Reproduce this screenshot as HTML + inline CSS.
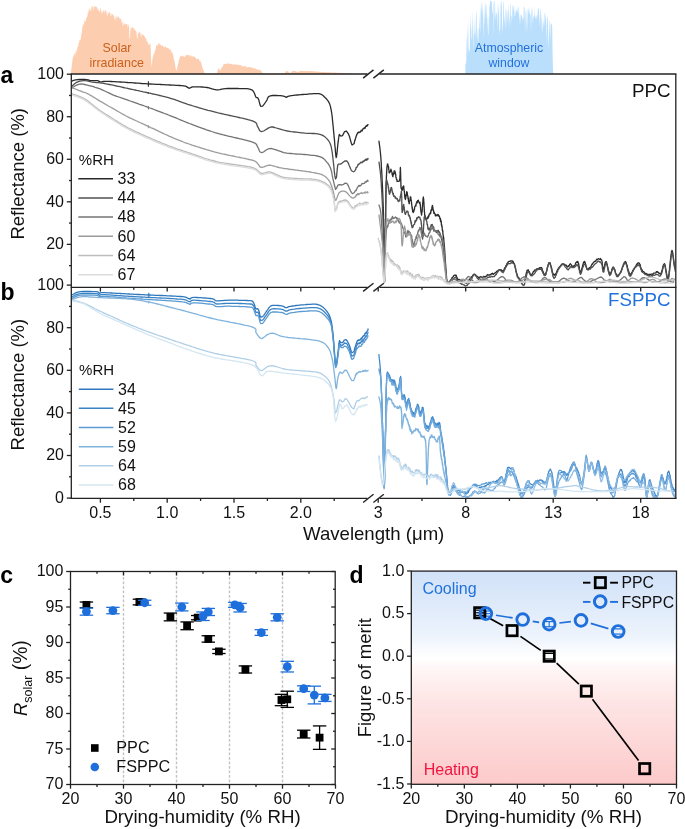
<!DOCTYPE html>
<html><head><meta charset="utf-8"><style>
html,body{margin:0;padding:0;background:#fff;overflow:hidden;}
svg{display:block;will-change:transform;}
text{-webkit-font-smoothing:antialiased;}
</style></head><body>
<svg width="685" height="829" viewBox="0 0 685 829" font-family='"Liberation Sans", sans-serif'><rect width="685" height="829" fill="#fff"/><path d="M70.8,74 L70.8,73.7 L71.35,69.17 L71.9,65.12 L72.45,60.29 L73,56.82 L73.55,56.24 L74.1,54.05 L74.65,53.33 L75.2,56.12 L75.78,50.94 L76.36,49.16 L76.94,53.24 L77.52,46.18 L78.1,47.31 L78.6,42.98 L79.1,42.43 L79.6,39.42 L80.1,39.47 L80.6,40.39 L81.1,35.86 L81.8,32.34 L82.5,26.62 L83,23.83 L83.5,25.48 L84,23.14 L84.55,20.96 L85.1,19.7 L85.65,22.49 L86.2,18.13 L86.75,17.35 L87.3,16.82 L87.85,12.56 L88.4,12.69 L88.93,8.02 L89.45,10.38 L89.97,7.48 L90.5,11.51 L91.03,10.56 L91.56,6.38 L92.09,6.27 L92.61,6.2 L93.14,11.43 L93.67,6.41 L94.2,7.28 L94.71,6.04 L95.22,6.74 L95.73,6.38 L96.24,6.38 L96.75,7.4 L97.26,7.48 L97.77,10.8 L98.28,8.34 L98.79,11.33 L99.3,10.37 L99.83,12.75 L100.36,9.04 L100.89,7.57 L101.41,11.68 L101.94,13.56 L102.47,12.93 L103,9.91 L103.54,11.24 L104.08,9.38 L104.61,13.04 L105.15,10.98 L105.69,10.25 L106.22,10.38 L106.76,14.37 L107.3,16.72 L107.85,11.18 L108.4,14.53 L108.95,12.14 L109.5,12.02 L110.05,12.43 L110.6,15.28 L111.15,16.81 L111.7,13.1 L112.25,14.77 L112.8,13.65 L113.35,16.15 L113.9,14.42 L114.45,18.58 L115,20.41 L115.55,15.8 L116.1,21.27 L116.65,15.84 L117.2,16.03 L117.75,17.68 L118.3,16.75 L118.85,17.16 L119.4,17.88 L119.95,19.2 L120.5,18.22 L121.08,18.8 L121.66,23.32 L122.24,20.19 L122.82,25.89 L123.4,25.53 L123.9,22.26 L124.4,23.25 L124.9,24.24 L125.6,24.6 L126.3,23.87 L126.86,23.95 L127.42,24.63 L127.98,28.49 L128.54,24.58 L129.1,24.58 L129.5,39.24 L130.1,37.08 L130.5,25.66 L131.02,31.48 L131.53,27.08 L132.05,27.59 L132.57,26.97 L133.08,27.76 L133.6,28.87 L134.18,28.3 L134.76,30.3 L135.34,31.02 L135.92,30.1 L136.5,32.18 L136.9,37.61 L137.5,38.88 L137.9,31.26 L138.43,33.25 L138.97,33.68 L139.5,31.4 L140.04,31.85 L140.57,34.15 L141.11,38.11 L141.65,33.3 L142.19,34.22 L142.73,35.35 L143.26,34.75 L143.8,35.29 L144.3,35.92 L144.8,36.77 L145.3,38.47 L145.8,38.1 L146.3,38.99 L146.8,42.16 L147.33,40.5 L147.85,42.71 L148.38,45.08 L148.9,43.98 L149.4,43.27 L149.9,45.72 L150.4,42.03 L151.1,58.42 L151.7,67.11 L152.4,59.25 L152.9,56.83 L153.4,55.33 L153.9,53.77 L154.4,53.55 L154.95,50.49 L155.5,50.02 L156.05,46.64 L156.6,44.9 L157.15,45.06 L157.7,45.68 L158.25,43.75 L158.8,43.13 L159.38,43.44 L159.96,44.15 L160.54,44.14 L161.12,45.77 L161.7,46.27 L162.25,45.09 L162.8,45.4 L163.35,46.94 L163.9,46.56 L164.45,47.49 L165,46.55 L165.55,46.73 L166.1,47.06 L166.64,48.53 L167.18,47.6 L167.71,47.93 L168.25,48.28 L168.79,48.56 L169.32,48.82 L169.86,50.88 L170.4,49.21 L170.95,49.75 L171.5,52.4 L172.05,52.55 L172.6,53.8 L173.1,53.8 L173.6,57.94 L174.1,59.99 L174.8,62.38 L175.5,67.29 L176.2,71 L176.8,69.33 L177.4,66.89 L178,64.47 L178.5,62.19 L179,60.17 L179.5,58.03 L180.15,56.8 L180.8,56.11 L181.36,55.54 L181.92,56.69 L182.48,55.24 L183.04,56.96 L183.6,55.83 L184.13,56.94 L184.65,56.75 L185.18,56.74 L185.71,55.37 L186.24,54.86 L186.76,55.87 L187.29,54.82 L187.82,54.85 L188.35,55.48 L188.87,55.09 L189.4,54.88 L189.91,56.94 L190.42,55.62 L190.93,55.32 L191.44,55.43 L191.95,57.16 L192.45,56.01 L192.96,57.11 L193.47,56.19 L193.98,56.27 L194.49,56.81 L195,57.96 L195.54,56.88 L196.09,58.38 L196.63,59.37 L197.17,58.99 L197.71,59.35 L198.26,58.23 L198.8,59.12 L199.38,61.05 L199.95,60.4 L200.53,61.4 L201.1,62.34 L201.6,64.48 L202.1,66.22 L202.6,68.12 L203.2,69.99 L203.8,71.2 L204.4,72.8 L204.7,73.5 L205.21,73.5 L205.72,73.5 L206.22,73.5 L206.73,73.5 L207.24,73.5 L207.75,73.5 L208.26,73.5 L208.77,73.5 L209.28,73.5 L209.78,73.5 L210.29,73.5 L210.8,73.5 L211.31,73.5 L211.82,73.5 L212.32,73.5 L212.83,73.5 L213.34,73.5 L213.85,73.5 L214.36,73.5 L214.87,73.5 L215.38,73.5 L215.88,73.5 L216.39,73.5 L216.9,73.5 L217.5,71 L218.15,69.5 L218.8,68 L219.6,69.5 L220.15,69.85 L220.7,70.2 L221.35,68.35 L222,66.5 L222.5,67.23 L223,66.07 L223.5,64.2 L224.04,64.32 L224.59,64.01 L225.13,63.88 L225.67,63.77 L226.21,64.11 L226.76,63.85 L227.3,63.4 L227.82,63.37 L228.34,63.49 L228.85,63.48 L229.37,63.89 L229.89,64.34 L230.41,63.77 L230.93,63.71 L231.45,63.78 L231.96,63.94 L232.48,64.33 L233,64.89 L233.52,64.12 L234.04,65.07 L234.55,64.59 L235.07,64.34 L235.59,64.34 L236.11,64.54 L236.63,65.02 L237.15,64.56 L237.66,65.11 L238.18,64.72 L238.7,64.63 L239.22,64.99 L239.74,65.42 L240.25,64.93 L240.77,65.17 L241.29,65.28 L241.81,66.42 L242.33,66.75 L242.85,65.56 L243.36,66.77 L243.88,66.49 L244.4,65.83 L244.92,66.07 L245.44,66.02 L245.95,66.95 L246.47,66.68 L246.99,67.39 L247.51,67.19 L248.03,66.99 L248.55,67.24 L249.06,67.03 L249.58,66.89 L250.1,67.28 L250.6,67.13 L251.1,67.27 L251.6,67.99 L252.1,67.53 L252.6,67.67 L253.1,67.8 L253.6,68.73 L254.1,68.07 L254.6,68.2 L255.1,68.98 L255.6,68.47 L256.1,69.23 L256.6,69.04 L257.1,69.44 L257.6,69.83 L258.17,69.43 L258.73,69.94 L259.3,69.75 L259.87,70 L260.43,70.25 L261,70.5 L261.7,71.65 L262.4,72.8 L262.8,73.5 L263.31,73.5 L263.82,73.49 L264.33,73.49 L264.84,73.48 L265.35,73.48 L265.86,73.47 L266.37,73.47 L266.87,73.46 L267.38,73.46 L267.89,73.45 L268.4,73.45 L268.91,73.44 L269.42,73.44 L269.93,73.43 L270.44,73.43 L270.95,73.43 L271.46,73.42 L271.97,73.42 L272.48,73.41 L272.99,73.41 L273.5,73.4 L274,73.4 L274.51,73.39 L275.02,73.39 L275.53,73.38 L276.04,73.38 L276.55,73.37 L277.06,73.37 L277.57,73.37 L278.08,73.36 L278.59,73.36 L279.1,73.35 L279.61,73.35 L280.12,73.34 L280.63,73.34 L281.13,73.33 L281.64,73.33 L282.15,73.32 L282.66,73.32 L283.17,73.31 L283.68,73.31 L284.19,73.3 L284.7,73.3 L285.3,72.15 L285.9,71 L286.47,71.1 L287.05,71.2 L287.62,71.3 L288.2,71.4 L288.77,72.03 L289.33,72.67 L289.9,73.3 L290.47,72.72 L291.05,72.15 L291.62,71.58 L292.2,71 L292.73,70.92 L293.25,70.85 L293.77,70.78 L294.3,70.7 L294.8,70.87 L295.3,71.04 L295.8,71.21 L296.3,71.39 L296.8,71.56 L297.3,71.73 L297.8,71.9 L298.32,71.72 L298.84,71.54 L299.36,71.36 L299.88,71.18 L300.4,71 L300.91,71 L301.42,71 L301.93,71 L302.44,71 L302.95,71 L303.46,71 L303.97,71 L304.48,71 L304.99,71 L305.51,71 L306.02,71 L306.53,71 L307.04,71 L307.55,71 L308.06,71 L308.57,71 L309.08,71 L309.59,71 L310.1,71 L310.6,71.04 L311.1,71.09 L311.6,71.13 L312.1,71.17 L312.6,71.21 L313.1,71.26 L313.6,71.3 L314.1,71.34 L314.6,71.39 L315.1,71.43 L315.6,71.47 L316.1,71.51 L316.6,71.56 L317.1,71.6 L317.6,71.64 L318.1,71.69 L318.6,71.73 L319.1,71.77 L319.6,71.81 L320.1,71.86 L320.6,71.9 L321.1,71.92 L321.6,71.95 L322.1,71.97 L322.6,72 L323.1,72.02 L323.6,72.04 L324.1,72.07 L324.6,72.09 L325.1,72.11 L325.6,72.14 L326.1,72.16 L326.6,72.19 L327.1,72.21 L327.6,72.23 L328.1,72.26 L328.6,72.28 L329.1,72.3 L329.6,72.33 L330.1,72.35 L330.6,72.38 L331.1,72.4 L331.6,72.43 L332.1,72.45 L332.6,72.48 L333.1,72.5 L333.6,72.53 L334.1,72.55 L334.6,72.58 L335.1,72.6 L335.6,72.62 L336.1,72.65 L336.6,72.67 L337.1,72.7 L337.6,72.72 L338.1,72.75 L338.6,72.78 L339.1,72.8 L339.6,72.83 L340.1,72.85 L340.6,72.88 L341.1,72.9 L341.6,72.92 L342.1,72.95 L342.6,72.97 L343.1,73 L343.6,73.02 L344.1,73.05 L344.6,73.07 L345.1,73.1 L345.6,73.13 L346.1,73.16 L346.6,73.19 L347.1,73.21 L347.6,73.24 L348.1,73.27 L348.6,73.3 L349.1,73.33 L349.6,73.36 L350.1,73.39 L350.6,73.41 L351.1,73.44 L351.6,73.47 L352.1,73.5 L352.1,74 Z" fill="#fdcdb0"/><text x="117" y="52.2" font-size="12.4" text-anchor="middle" fill="#c9601c" font-weight="normal" >Solar</text><text x="116.8" y="67" font-size="12.4" text-anchor="middle" fill="#c9601c" font-weight="normal" >irradiance</text><path d="M465.4,74 L465.4,60.2 L465.8,64.4 L466.2,63.2 L466.6,42.1 L467,35 L467.4,24.1 L467.8,56.2 L468.2,18.5 L468.6,53.2 L469,48 L469.4,50.6 L469.8,52.9 L470.2,11 L470.6,31.5 L471,19.4 L471.4,40.2 L471.8,37.4 L472.2,8.4 L472.6,37.8 L473,17 L473.4,35.3 L473.8,50.5 L474.2,15.1 L474.6,36.1 L475,31.7 L475.4,37.4 L475.8,19.9 L476.2,10.3 L476.6,15.5 L477,42.5 L477.4,37.5 L477.8,29.1 L478.2,27.6 L478.6,46.3 L479,27.6 L479.4,13.5 L479.8,28.3 L480.2,32.7 L480.6,11.3 L481,5.6 L481.4,0.8 L481.8,14.1 L482.2,1.9 L482.6,17.5 L483,5 L483.4,24.6 L483.8,39.6 L484.2,4.1 L484.6,16.8 L485,26.6 L485.4,1.6 L485.8,5.2 L486.2,18.6 L486.6,3.9 L487,6.6 L487.4,33.8 L487.8,19.5 L488.2,15.8 L488.6,34.4 L489,34.4 L489.4,3.2 L489.8,7.2 L490.2,0.6 L490.6,0.9 L491,0.5 L491.4,0.9 L491.8,2.6 L492.2,12.6 L492.6,14.1 L493,2.4 L493.4,0.7 L493.8,35.7 L494.2,15.6 L494.6,0.7 L495,1.6 L495.4,21.1 L495.8,13.8 L496.2,13 L496.6,12.2 L497,17.8 L497.4,29.6 L497.8,2.4 L498.2,8.9 L498.6,16.1 L499,1.2 L499.4,33.9 L499.8,30.8 L500.2,29.6 L500.6,4.2 L501,0.7 L501.4,1.7 L501.8,7 L502.2,24.4 L502.6,33.5 L503,22.9 L503.4,1.5 L503.8,1.5 L504.2,16 L504.6,24.7 L505,15.3 L505.4,6.7 L505.8,29.7 L506.2,24.5 L506.6,9 L507,9.2 L507.4,23 L507.8,12.1 L508.2,11.2 L508.6,2.7 L509,29.8 L509.4,9.8 L509.8,27.2 L510.2,5.9 L510.6,3 L511,27.1 L511.4,15.7 L511.8,15.4 L512.2,19.8 L512.6,4.3 L513,6.9 L513.4,5.3 L513.8,11.7 L514.2,5.8 L514.6,15.9 L515,16 L515.4,13.7 L515.8,10.7 L516.2,11.7 L516.6,10.3 L517,6.5 L517.4,14.1 L517.8,7 L518.2,15.5 L518.6,7.6 L519,5.5 L519.4,25.6 L519.8,15.5 L520.2,24.6 L520.6,14.1 L521,15.3 L521.4,14.3 L521.8,16.8 L522.2,16.5 L522.6,21.7 L523,17 L523.4,19.7 L523.8,7 L524.2,5.8 L524.6,9.4 L525,32.7 L525.4,10.1 L525.8,12.4 L526.2,34.1 L526.6,13.8 L527,7.7 L527.4,31.9 L527.8,7.4 L528.2,13.9 L528.6,6.7 L529,12 L529.4,14.6 L529.8,6.9 L530.2,15.2 L530.6,15 L531,35 L531.4,6.7 L531.8,12 L532.2,6.3 L532.6,18.8 L533,23.9 L533.4,15.1 L533.8,18.1 L534.2,6.3 L534.6,16.9 L535,16.2 L535.4,19.5 L535.8,14.9 L536.2,15.2 L536.6,17.3 L537,21.1 L537.4,7.6 L537.8,17.3 L538.2,8.1 L538.6,8.5 L539,9.3 L539.4,27.6 L539.8,18 L540.2,8.9 L540.6,9.1 L541,21.7 L541.4,12.3 L541.8,27.3 L542.2,33.4 L542.6,25.6 L543,14.1 L543.4,27.7 L543.8,21 L544.2,26.7 L544.6,13.6 L545,12.4 L545.4,21 L545.8,13.2 L546.2,25.3 L546.6,45.8 L547,14.8 L547.4,18.1 L547.8,18.3 L548.2,34.2 L548.6,49.2 L549,36.5 L549.4,19.9 L549.8,21.2 L550.2,42.8 L550.6,25.7 L551,21.9 L551.4,25.2 L551.8,23.3 L552.2,27 L552.6,53.9 L553,70.3 L553.3,74 Z" fill="#badffc"/><text x="509" y="52.4" font-size="12.3" text-anchor="middle" fill="#2372dc" font-weight="normal" >Atmospheric</text><text x="509" y="66.6" font-size="12.3" text-anchor="middle" fill="#2372dc" font-weight="normal" >window</text><clipPath id="ca"><rect x="71.8" y="74.6" width="603.4" height="212.2"/></clipPath><g clip-path="url(#ca)"><polyline points="71.8,81.3 73.5,80.4 75.8,79.8 77.7,79.6 79.4,79.5 81.2,79.5 83,79.5 84.6,79.5 86.4,79.7 88.2,80 89.8,80.3 91.9,80.6 93.8,80.6 95.7,80.6 97.7,80.6 99.7,81.6 101.7,81.9 103.4,81.5 105.4,81.3 107.2,81.3 109.3,81.4 111.1,81.5 113.1,81.6 114.7,81.6 116.7,81.8 118.7,81.9 120.4,82 122.1,82.1 123.9,82.2 125.8,82.3 127.7,82.5 129.4,82.6 131.4,82.7 133.5,82.9 135.1,83 136.8,83.1 138.5,83.2 140.2,83.3 141.9,83.5 143.7,83.6 145.4,83.7 147.1,83.8 148.8,83.9 150.5,84 152.2,84.1 153.9,84.2 155.7,84.3 157.4,84.4 159.2,84.4 160.9,84.5 162.6,84.6 164.3,84.7 166,84.8 168,84.9 170,85 172,85.1 174,85.2 175.9,85.3 177.8,85.4 179.5,85.5 181.6,85.6 183.4,85.8 185.5,86.2 187.3,87.1 189,88.3 190.7,87.7 192.4,86.9 194.2,86.8 196.3,86.8 198,86.8 199.9,86.9 201.8,87 203.7,87.1 205.4,87.3 207.1,87.5 208.9,87.9 210.5,88.3 212.1,88.8 214.2,89.4 216.2,89.8 217.8,89.8 219.9,89.6 221.8,89.1 223.5,88.8 225.5,88.6 227.4,88.5 229.1,88.5 230.8,88.5 232.6,88.5 234.4,88.5 236.1,88.5 237.9,88.5 239.5,88.6 241.3,88.6 243.2,88.7 245,88.7 246.8,88.7 248.5,88.9 250.5,89.3 252.3,90.1 253.5,91.5 254.4,93.3 254.9,94.5 255.5,96.2 256.1,97.4 257.8,97.9 258.6,99.4 259,100.6 259.3,102 259.7,103.4 260,104.8 260.7,106.3 262.6,106.2 263.8,104.7 265,103 266.1,101.4 267,100 267.6,98.3 268.4,96.9 270.4,95.8 272.4,95.5 274.3,95.5 276.3,95.5 278.3,95.6 280.2,95.7 282.2,95.9 284.3,96.3 286.2,97.4 288,96.4 289.9,95.9 291.5,95.7 293.6,95.4 295.3,95.2 297.1,95 299,94.9 300.9,94.7 302.8,94.5 304.5,94.4 306.2,94.3 308,94.1 309.9,93.9 311.7,93.8 313.5,93.6 315.3,93.6 317.3,93.6 319.1,93.7 321.2,94.3 323,95.5 324.5,97 326.1,98.5 327.2,99.8 328.2,101.1 329,102.6 329.7,104.1 330.2,105.6 330.6,107.1 330.9,108.8 331.2,110 331.4,111.3 331.7,113 331.9,114.5 332.1,116.2 332.3,117.9 332.5,119.7 332.6,121.5 332.8,122.7 332.9,123.9 333,125.1 333.2,126.7 333.3,128.3 333.5,130 333.6,131.7 333.8,133.3 334,135 334.1,136.8 334.3,138.5 334.5,140.2 334.6,142 334.7,143.2 334.8,144.5 334.9,145.8 335.1,147.1 335.2,148.3 335.3,149.6 335.4,150.8 335.5,152.5 335.7,153.9 335.8,155.2 336.2,157.7 336.6,156 336.8,154.5 337,152.9 337.2,151.1 337.3,149.9 337.4,148.5 337.6,147.2 337.7,145.9 337.8,144.7 338,143.1 338.3,141.2 338.4,139.8 338.6,138.5 338.8,137.2 339,135.6 339.3,134.4 340.8,136.1 342.5,135.7 343.1,134.4 343.8,133.1 344.4,131.9 346.1,131 347.6,132.6 348.3,133.9 349,135.3 349.6,136.8 349.9,138.1 350.3,139.6 350.7,141 351.1,142.4 351.5,143.7 352.1,145 353.9,143.7 354.1,143.6 354.3,143 354.5,141.9 354.7,140.8 354.9,139.7 355.1,140.1 355.3,139.1 355.5,138.8 355.7,137.5 355.9,137.5 356.1,136 356.3,136.3 356.5,135.6 356.7,134.6 356.9,134.3 357.1,134.2 357.6,132.7 358,132.8 358.5,132.9 358.9,131.8 359.3,132.5 359.8,132.1 360.3,132.2 360.8,131.1 361.4,130.2 361.8,131.1 362.2,130.7 362.6,129.7 363,128.7 363.5,128.4 364,128.6 364.5,127.6 365,128.2 365.4,127.1 365.9,126 366.3,126.3 366.8,125.4 367.1,126 367.5,125.6 367.8,124.7 368,124.6" fill="none" stroke="#2b2b2b" stroke-width="1.3" stroke-linejoin="round" stroke-linecap="round" opacity="1.0" /><polyline points="71.8,86.4 73.2,85.1 74.6,83.8 76.2,82.6 78.3,81.6 80,81.1 81.7,80.8 83.5,80.6 85.1,80.6 87.1,80.9 89.1,81.4 91.1,81.9 92.8,82.1 94.6,82.3 96.7,82.6 98.3,82.7 100,82.9 101.9,83.2 103.8,83.4 105.8,83.8 107.4,84.1 109.4,84.5 111.5,84.9 113.1,85.2 114.8,85.6 116.5,86 118.2,86.3 120,86.7 121.7,87.1 123.4,87.5 125.1,87.9 126.8,88.2 128.4,88.6 130.1,89 131.8,89.3 133.4,89.7 135.1,90 136.7,90.4 138.4,90.7 140,91.1 141.6,91.4 143.3,91.8 144.9,92.1 146.6,92.5 148.2,92.9 149.9,93.2 151.5,93.6 153.1,94 154.8,94.3 156.4,94.7 158.1,95.1 159.8,95.5 161.4,95.9 163.1,96.3 164.7,96.7 166.3,97.1 168.4,97.7 170.6,98.3 172.2,98.8 174.2,99.4 176.2,100.2 178.2,100.9 180.2,101.6 182.2,102.4 184.3,103.1 186,103.7 187.8,104.3 189.5,104.8 191.3,105.4 193.2,106 195.2,106.6 197.2,107.2 199.2,107.8 201.3,108.4 202.9,108.9 204.6,109.3 206.3,109.8 208,110.3 209.7,110.7 211.6,111.2 213.4,111.7 215.3,112.2 217.2,112.7 219.3,113.2 221,113.5 222.7,113.9 224.4,114.3 226.2,114.7 228.1,115.1 229.9,115.5 231.8,115.9 233.6,116.3 235.4,116.7 237.3,117.1 239,117.5 240.8,117.9 242.5,118.2 244.1,118.6 246.1,119.1 248,119.6 249.7,120 251.5,120.6 253.1,121.2 255,122.1 256.4,123.3 257,124.8 257.3,126.2 258.3,127.7 258.9,128.9 259.6,130.6 261.6,131.7 263.6,131 265.3,130 267.1,128.9 268.7,127.9 270.8,127 272.7,127 274.6,127.5 276.3,128 278.4,128.6 280.1,129.1 281.9,129.7 283.8,130.2 285.7,130.6 287.5,131 289.5,131.3 291.1,131.6 292.8,131.8 294.5,132 296.2,132.2 298,132.4 299.7,132.6 301.3,132.8 303,132.9 305.1,133.2 307,133.3 308.8,133.4 310.7,133.4 312.4,133.5 314.1,133.5 315.8,133.6 317.8,133.9 319.8,134.3 321.6,134.9 323.6,135.9 325.2,137.1 326.8,138.6 328.2,140.2 329.1,141.5 329.9,143 330.6,144.8 331.1,146.4 331.4,147.9 331.7,149.5 332,151.1 332.3,152.9 332.5,154.7 332.7,156.4 332.9,158.1 333.1,159.8 333.3,161.6 333.5,163.3 333.7,165.1 333.9,166.8 334,168.5 334.2,170.1 334.3,171.5 334.5,172.8 334.7,174.3 334.9,175.9 335.2,177.3 335.5,179 336.4,177.6 336.6,176.2 336.7,174.7 336.9,173.2 337,172 337.1,170.8 337.2,169.5 337.4,168.2 337.5,166.9 337.7,165.4 338.4,164.1 340.2,164.1 341.9,163.3 343.4,162 345.1,160.9 346.8,161 347.9,162.4 348.7,164.1 349.2,165.4 349.8,166.7 350.3,168.1 350.8,169.3 351.6,170.8 353.4,171.8 354.1,171.5 354.4,171.3 354.7,170.9 355,170.6 355.4,169.7 355.7,169.3 356.1,167.3 356.4,167.3 356.8,167.5 357.2,166.4 357.6,166.2 358,164.4 358.5,164.6 358.9,163.9 359.3,164 359.8,163.7 360.3,162.5 360.8,162.5 361.4,162.2 361.9,162.9 362.5,162.3 363.1,161 363.6,161.7 364.2,160.4 364.7,160.8 365.2,159.7 365.7,159.3 366.2,160.4 366.6,159.1 367.1,158.9 367.4,159.9 367.7,159.6 368,158.5" fill="none" stroke="#505050" stroke-width="1.3" stroke-linejoin="round" stroke-linecap="round" opacity="1.0" /><polyline points="71.8,87.9 73.8,86.7 75.5,85.7 77.3,84.8 79.4,84.1 81.2,83.9 82.9,84.1 84.6,84.5 86.3,84.9 88.3,85.4 89.9,85.8 91.6,86.2 93.4,86.7 95.2,87.3 97,87.8 98.7,88.4 100.7,89.2 102.7,90.1 104.7,91 106.8,92 108.8,92.9 110.8,93.9 112.8,94.8 114.8,95.6 116.8,96.4 118.8,97 120.7,97.7 122.8,98.4 124.9,99.1 126.6,99.7 128.4,100.3 130.2,101 132.2,101.6 134.2,102.4 136.3,103.1 137.9,103.7 139.5,104.3 141.2,104.8 142.8,105.4 144.5,106 146.1,106.6 147.7,107.2 149.8,108 151.9,108.7 154,109.5 156.1,110.3 158.2,111.1 160.3,111.9 162.4,112.7 164.4,113.5 166.5,114.2 168.5,115 170.5,115.8 172.6,116.6 174.6,117.4 176.5,118.2 178.4,119 180.3,119.8 182.3,120.7 184.4,121.5 186,122.2 187.8,122.8 189.4,123.5 191.2,124.1 193.1,124.9 195,125.6 197,126.3 199,127.1 201.1,127.8 203.2,128.6 204.8,129.2 206.4,129.8 208.1,130.3 209.8,130.9 211.5,131.5 213.2,132 214.9,132.6 216.7,133.1 218.7,133.7 220.3,134.1 222,134.5 223.7,135 225.5,135.4 227.3,135.9 229.1,136.3 231,136.7 232.9,137.2 234.7,137.6 236.5,138 238.3,138.4 240.1,138.8 241.8,139.2 243.5,139.6 245.5,140.1 247.5,140.6 249.2,141.1 251.1,141.7 253.1,142.4 255,143.2 256.7,144.6 257,145.9 258,147.5 258.8,149.3 259.2,150.5 260,152 262,152.7 263.8,151.7 265.8,150.2 267.6,149.2 269.4,148.6 271,148.5 272.6,148.8 274.4,149.3 276.3,149.9 278.1,150.6 279.8,151.2 281.8,151.9 283.7,152.6 287,153.2 288.9,153.4 290.8,153.5 292.9,153.7 294.6,153.8 296.5,154 298.4,154.1 300.4,154.2 302.4,154.4 304.4,154.5 306.3,154.7 308.3,154.9 310.1,155.1 311.9,155.3 313.5,155.4 315.5,155.7 317.2,156 319.6,156.6 321.7,157.4 323.6,158.6 324.9,159.9 326.1,161.3 327.2,162.6 328.3,163.9 329.1,165.3 329.9,166.8 330.6,168.4 331.1,170 331.6,171.7 331.9,173.4 332.2,175.2 332.6,177 332.9,178.7 333.3,180.4 333.6,181.7 333.9,182.9 334.2,184.1 334.6,185.8 335,187.2 335.5,189.4 336.7,188 337.2,186.6 338.1,185 339.8,184.7 341.9,185 343.5,184.4 345.1,183.1 346.8,183.3 347.8,184.8 348.7,186.6 349.2,187.9 349.8,189.2 350.4,190.6 351.3,192.3 352.4,193.7 354.1,192.8 354.4,192.1 354.7,192.1 355,191.2 355.4,190.5 355.7,190.4 356.1,190.6 356.4,189.7 356.8,189.1 357.2,187.6 357.6,187.5 358,186.6 358.5,186 358.9,185.5 359.3,185.4 359.8,186.2 360.3,185.7 360.8,185.3 361.4,184.9 361.9,183.6 362.5,183.5 363.1,183.7 363.6,183.5 364.2,183.4 364.7,183.1 365.2,181.6 365.7,182.1 366.2,182 366.6,181.5 367.1,180.7 367.4,181 367.7,180.2 368,181.4" fill="none" stroke="#747474" stroke-width="1.3" stroke-linejoin="round" stroke-linecap="round" opacity="1.0" /><polyline points="71.8,87.6 73.6,88.3 75.5,89 77.5,89.9 79.2,90.6 80.9,91.2 82.7,91.8 84.4,92.3 86.2,93 87.9,93.8 89.6,94.8 91.5,95.8 93.4,97.1 95.4,98.3 97.6,99.6 99.2,100.6 101,101.7 102.9,102.7 104.8,103.9 106.8,105 108.8,106.2 110.8,107.3 112.8,108.4 114.8,109.5 116.6,110.6 118.5,111.7 120.3,112.7 122.1,113.8 124.1,114.8 126.2,116 127.8,116.8 129.7,117.8 131.6,118.7 133.6,119.6 135.6,120.5 137.7,121.5 139.8,122.5 141.9,123.4 143.5,124.2 145.1,124.9 147.2,125.9 149.3,126.8 151.3,127.8 153.3,128.7 155.4,129.7 157.4,130.7 159.5,131.7 161.5,132.6 163.6,133.6 165.6,134.5 167.6,135.4 169.5,136.3 171.6,137.2 173.6,138.1 175.5,138.9 177.4,139.7 179.3,140.4 181.3,141.2 183.3,142 185.4,142.8 187.2,143.4 189,144 190.8,144.6 192.7,145.3 194.6,145.9 196.6,146.6 198.7,147.2 200.8,147.9 202.4,148.4 204,148.9 205.7,149.4 207.3,149.9 209.1,150.4 210.8,150.9 212.5,151.4 214.3,151.9 216.1,152.3 218.2,152.9 220.3,153.4 222,153.8 223.7,154.1 225.5,154.5 227.3,154.9 229.1,155.3 231,155.7 232.9,156 234.7,156.4 236.5,156.8 238.3,157.1 240.1,157.5 241.8,157.9 243.5,158.2 245.5,158.6 247.5,159.1 249.2,159.5 251.1,159.9 253.3,160.5 255.4,161.3 256.9,162.7 258.1,164.2 259.1,165.7 260.1,167 262,167.4 264,166.8 265.6,166.1 267.4,165.5 269.3,165.2 271.3,165.3 273.2,165.8 274.9,166.3 277,167 279,167.5 280.7,167.8 282.6,168.2 284.2,168.5 286.1,168.7 288.1,169 289.8,169.3 291.5,169.5 293.3,169.7 295.2,170 297.1,170.2 299,170.5 300.9,170.7 302.8,171 304.7,171.2 306.5,171.5 308.3,171.7 310.1,172 311.7,172.3 313.8,172.6 315.6,173 317.2,173.3 319.6,173.9 321.2,174.4 323.1,175.2 324.9,176.2 326.4,177.6 327.6,178.9 328.7,180.1 329.6,181.5 330.4,183 331,184.6 331.6,186.2 332.2,188 332.7,189.6 333,190.8 333.4,192.1 333.7,193.4 334,194.7 334.2,195.9 334.6,197.6 335,199 335.8,200.4 336.5,199 337,197.7 337.6,196 338.1,194.7 338.9,193.1 340.5,191.7 342.2,191.1 344.1,191.2 345.8,191.8 347.5,193.3 348.8,194.9 350.2,196.4 351.5,197.6 353.2,198.2 354.1,197.5 354.5,197.6 354.9,197 355.3,196.9 355.7,196.5 356.1,195.1 356.5,194.5 356.9,195.4 357.4,194 357.9,193.6 358.5,194.6 359,193.6 359.5,194 360.1,193.3 360.7,193.4 361.3,192.5 362,193.2 362.6,193.5 363.3,192.9 363.9,193.1 364.6,192.9 365.2,191.9 365.8,193 366.3,192.6 366.8,192.1 367.3,191.6 367.7,192.9 368,192.3" fill="none" stroke="#9c9c9c" stroke-width="1.3" stroke-linejoin="round" stroke-linecap="round" opacity="1.0" /><polyline points="71.8,93.7 73.5,94.3 75.4,94.9 77,95.5 78.7,96.1 80.5,96.8 82.3,97.6 84,98.5 85.9,99.6 87.6,100.8 89.3,102.1 91.1,103.5 92.9,104.9 94.7,106.4 96.5,107.8 98.3,109.2 100.1,110.5 102,111.7 103.9,113 105.8,114.2 107.7,115.4 109.6,116.6 111.4,117.8 113.3,119 115.2,120.2 117.1,121.4 118.9,122.5 120.7,123.6 122.6,124.8 124.6,125.9 126.7,127.1 128.4,128 130.2,128.9 132.1,129.9 134.1,130.8 136.1,131.8 138.2,132.7 140.3,133.7 141.9,134.4 143.5,135.2 145.1,135.9 147.2,136.8 149.3,137.7 151.4,138.6 153.4,139.5 155.5,140.4 157.6,141.3 159.8,142.2 161.8,143.1 163.9,143.9 166,144.7 168,145.5 170,146.3 171.6,146.9 173.7,147.7 175.7,148.4 177.6,149.1 179.6,149.7 181.6,150.4 183.7,151.1 185.4,151.6 187.1,152.2 189,152.8 190.8,153.4 192.7,154.1 194.6,154.7 196.6,155.4 198.7,156.2 200.8,156.9 202.4,157.4 204,158 205.7,158.5 207.3,159 209.1,159.6 210.8,160.1 212.5,160.5 214.3,161 216.1,161.5 217.7,161.8 219.8,162.3 221.5,162.6 223.2,162.9 225,163.2 226.8,163.4 228.6,163.7 230.4,164 232.3,164.3 234.2,164.5 236,164.8 237.8,165 239.6,165.3 241.3,165.5 243,165.8 244.7,166 246.7,166.3 248.6,166.7 250.3,167 252.9,167.7 254.6,168.3 256.5,169.4 258.1,170.8 259.2,172.1 261.2,173.3 262.8,173.4 264.9,172.9 267,172.2 268.7,171.9 270.5,172.1 272.3,172.7 274.4,173.6 276.5,174.6 278.1,175.4 279.8,176.1 281.5,176.7 283.1,177.1 285.2,177.5 287.3,177.8 289.4,178 291.1,178.1 292.8,178.2 294.6,178.3 296.5,178.4 298.2,178.6 300.3,178.7 302,178.7 303.7,178.8 305.5,178.8 307.3,178.9 309.1,178.9 310.8,179 312.6,179.2 314.2,179.3 316.2,179.6 318.3,180.1 320.1,180.6 321.9,181.3 324,182.3 325.8,183.4 327.5,184.7 329,186.1 330,187.4 330.8,188.8 331.6,190.3 332.1,191.9 332.6,193.6 333,195.3 333.4,197.1 333.8,198.7 334.1,200.6 334.3,201.9 334.4,203.3 334.5,204.7 334.7,206 334.8,207.3 334.9,209 335.1,210.4 336.5,208.6 336.9,207.1 337.2,205.5 337.6,204.1 338.1,202.6 339.6,201.3 341.5,201 343.1,200.4 345,200 346.8,200.4 348.2,201.8 349.2,203.4 350.3,205.1 351.3,206.6 353.2,207.8 354.1,208.2 354.5,207.9 354.9,206.1 355.4,205.7 355.8,206.5 356.3,205.8 356.8,205.3 357.3,204.3 357.9,204.4 358.5,204.2 359,204 359.5,203.2 360.1,203.5 360.7,203.3 361.3,203.7 362,204.1 362.6,203.9 363.3,203.2 363.9,202.9 364.6,202.6 365.2,202.2 365.8,202.1 366.3,202.7 366.8,202.4 367.3,202.5 367.7,203.3 368,202.6" fill="none" stroke="#bdbdbd" stroke-width="1.3" stroke-linejoin="round" stroke-linecap="round" opacity="1.0" /><polyline points="71.8,95 73.5,95.6 75.4,96.2 77,96.8 78.7,97.4 80.5,98.1 82.3,98.9 84,99.8 85.9,100.9 87.6,102.1 89.3,103.4 91.1,104.8 92.9,106.2 94.7,107.7 96.5,109.1 98.3,110.5 100.1,111.8 102,113 103.9,114.3 105.8,115.5 107.7,116.7 109.6,117.9 111.4,119.1 113.3,120.3 115.2,121.5 117.1,122.7 118.9,123.8 120.7,125 122.6,126.1 124.6,127.2 126.7,128.4 128.4,129.3 130.2,130.2 132.1,131.2 134.1,132.1 136.1,133.1 138.2,134 140.3,135 141.9,135.7 143.5,136.5 145.1,137.2 147.2,138.1 149.3,139 151.4,139.9 153.4,140.8 155.5,141.7 157.6,142.6 159.8,143.5 161.8,144.4 163.9,145.2 166,146 168,146.8 170,147.6 171.6,148.2 173.7,149 175.7,149.7 177.6,150.4 179.6,151 181.6,151.7 183.7,152.4 185.4,152.9 187.1,153.5 189,154.1 190.8,154.7 192.7,155.4 194.6,156 196.6,156.7 198.7,157.5 200.8,158.2 202.4,158.7 204,159.3 205.7,159.8 207.3,160.3 209.1,160.9 210.8,161.4 212.5,161.8 214.3,162.3 216.1,162.8 217.7,163.1 219.8,163.6 221.5,163.9 223.2,164.2 225,164.5 226.8,164.7 228.6,165 230.4,165.3 232.3,165.6 234.2,165.8 236,166.1 237.8,166.3 239.6,166.6 241.3,166.8 243,167.1 244.7,167.3 246.7,167.6 248.6,168 250.3,168.3 252.9,169 254.6,169.6 256.5,170.7 258.1,172.1 259.2,173.4 261.2,174.6 262.8,174.7 264.9,174.2 267,173.5 268.7,173.2 270.5,173.4 272.3,174 274.4,174.9 276.5,175.9 278.1,176.7 279.8,177.4 281.5,178 283.1,178.4 285.2,178.8 287.3,179.1 289.4,179.3 291.1,179.4 292.8,179.5 294.6,179.6 296.5,179.7 298.2,179.9 300.3,180 302,180 303.7,180.1 305.5,180.1 307.3,180.2 309.1,180.2 310.8,180.3 312.6,180.5 314.2,180.6 316.2,180.9 318.3,181.4 320.1,181.9 321.9,182.6 324,183.6 325.8,184.7 327.5,186 329,187.4 330,188.7 330.8,190.1 331.6,191.6 332.1,193.2 332.6,194.9 333,196.6 333.4,198.4 333.8,200 334.1,201.9 334.3,203.2 334.4,204.6 334.5,206 334.7,207.3 334.8,208.6 334.9,210.3 335.1,211.7 336.5,209.9 336.9,208.4 337.2,206.8 337.6,205.4 338.1,203.9 339.6,202.6 341.5,202.3 343.1,201.7 345,201.3 346.8,201.7 348.2,203.1 349.2,204.7 350.3,206.4 351.3,207.9 353.2,209.1 354.1,208.2 354.5,209.1 354.9,208.5 355.4,207.3 355.8,207.2 356.3,206.7 356.8,206.6 357.3,206.4 357.9,204.9 358.5,204.5 359,205.7 359.5,204.9 360.1,205.3 360.7,204 361.3,204.6 362,204.9 362.6,204.1 363.3,205.1 363.9,205 364.6,203.5 365.2,203.4 365.8,204.2 366.3,204.8 366.8,203.8 367.3,203.5 367.7,203.8 368,203.1" fill="none" stroke="#dcdcdc" stroke-width="1.3" stroke-linejoin="round" stroke-linecap="round" opacity="1.0" /><line x1="148.4" y1="81.27" x2="148.4" y2="86.67" stroke="#2b2b2b" stroke-width="1.1" /><line x1="148.4" y1="92.11" x2="148.4" y2="94.11" stroke="#505050" stroke-width="1.1" /><line x1="148.4" y1="106.26" x2="148.4" y2="109.46" stroke="#747474" stroke-width="1.1" /><line x1="148.4" y1="125.21" x2="148.4" y2="128.21" stroke="#9c9c9c" stroke-width="1.1" /><polyline points="379,141.1 379.1,142.3 379.3,143.8 379.5,145.1 379.7,146.5 379.9,148 380.1,149.8 380.2,151 380.4,152.3 380.5,153.7 380.6,155.2 380.8,156.7 380.9,158.3 381,160 381.1,161.3 381.2,162.6 381.3,163.9 381.3,165.3 381.4,166.8 381.5,168.3 381.6,169.8 381.7,171.4 381.8,173 381.9,174.7 382,176.3 382,178.1 382.1,179.8 382.2,181.6 382.3,183.3 382.4,184.5 382.4,185.7 382.5,187 382.5,188.2 382.6,189.4 382.6,190.7 382.7,191.9 382.7,193.1 382.8,194.4 382.8,195.6 382.9,196.9 382.9,198.1 383,199.4 383,201 383.1,202.6 383.1,204.1 383.2,205.8 383.2,207.4 383.3,209.1 383.4,210.8 383.4,212.5 383.5,214.3 383.5,216 383.5,217.8 383.6,219.6 383.6,221.4 383.7,223.2 383.7,225 383.8,226.8 383.8,228.5 383.9,230.3 383.9,232.1 383.9,233.8 384,235.5 384,237.2 384.1,238.9 384.1,240.5 384.1,242.1 384.2,243.7 384.2,245.2 384.2,246.7 384.3,248.2 384.3,249.5 384.3,251.5 384.4,253 384.4,254.5 384.4,256.1 384.4,257.6 384.5,259.2 384.5,260.8 384.5,262.3 384.5,263.9 384.5,265.4 384.6,266.9 384.6,268.4 384.6,269.8 384.6,271.2 384.6,272.5 384.6,273.7 384.6,275.5 384.7,277 384.7,278.4 384.7,279.8 384.8,281 384.9,279.7 384.9,278.2 384.9,276.7 384.9,275.3 384.9,273.9 385,272.3 385,270.6 385,268.8 385,267.5 385,266.2 385,264.9 385.1,263.5 385.1,262.2 385.1,260.8 385.1,259.4 385.1,258 385.1,256.5 385.1,255.1 385.2,253.6 385.2,252.2 385.2,250.8 385.2,249.4 385.2,248 385.2,246.6 385.2,245.2 385.3,243.8 385.3,242.5 385.3,241.2 385.3,240 385.3,238.5 385.3,236.9 385.4,235.2 385.4,233.6 385.4,231.9 385.4,230.1 385.4,228.4 385.5,226.6 385.5,224.8 385.5,223.6 385.5,222.4 385.5,221.2 385.5,219.9 385.6,218.7 385.6,217.5 385.6,216.3 385.6,215.1 385.6,213.9 385.6,212.6 385.6,211.4 385.7,209.7 385.7,207.9 385.7,206.1 385.7,204.4 385.8,202.7 385.8,201.1 385.8,199.4 385.8,197.9 385.9,196.4 385.9,194.9 385.9,193.5 386,192.1 386,190.8 386,189.1 386,189.6 386,187.8 386.1,186.6 386.1,186.6 386.1,185.8 386.1,185 386.2,184.2 386.2,182.9 386.2,182.1 386.2,182.6 386.2,180.9 386.3,181.2 386.3,180.8 386.3,180.4 386.3,180 386.4,177.5 386.4,176.9 386.4,177.6 386.4,176.6 386.5,175.1 386.5,175.8 386.5,175.8 386.5,175.2 386.6,173.1 386.6,172.8 386.6,171.5 386.6,173.7 386.7,171.2 386.7,172.2 386.7,171.2 386.7,171 386.8,170.4 386.8,170.8 386.8,169.9 386.8,168.7 386.9,167.8 386.9,168.5 386.9,169.4 386.9,166.9 387,168.1 387,167.7 387.4,164 387.8,164.2 388.2,166.5 388.3,166.1 388.4,166.5 388.5,167.2 388.6,166.9 388.7,169.2 388.8,169.6 388.9,170.2 389,170.4 389.1,172.3 389.2,173 389.3,172.7 389.4,171.9 389.5,172.2 389.8,172.2 390,171.4 390.3,172 390.6,170.8 390.9,169.2 391.2,170.9 391.4,170.4 391.5,171.2 391.7,171.9 391.8,172.2 392,172.5 392.1,174.5 392.3,172.9 392.4,175.1 392.6,176.2 392.7,175.4 392.9,176.6 393.1,174.7 393.3,174.8 393.5,173.7 393.7,173.1 393.9,173.1 394.1,170.9 394.3,171 394.6,172.4 394.7,171.2 394.9,171 395,173.8 395.1,173.1 395.3,172.3 395.4,174.4 395.6,173.9 395.7,174.7 395.9,176.9 396,177.4 396.2,177.5 396.3,178.4 396.5,179.2 396.6,179.5 396.8,179 397,181.2 397.1,181.5 397.8,181.3 398.5,181.4 399.1,181.4 399.6,179.8 399.7,179.3 399.7,180.1 399.8,179.6 399.9,176.9 399.9,176.3 400,177.2 400,176.8 400.1,175.4 400.1,173.4 400.1,172 400.1,173.3 400.2,172.8 400.2,171.6 400.2,170.9 400.3,171 400.3,169.3 400.3,170.1 400.3,168.1 400.4,167.5 400.4,169.6 400.4,169.4 400.4,169.8 400.5,168.3 400.5,169.1 400.5,170.3 400.5,169.3 400.5,170.5 400.6,171.8 400.6,173.3 400.6,173.3 400.6,173.1 400.6,173.8 400.6,174.7 400.7,176.1 400.7,177.5 400.7,175.5 400.7,178.8 400.7,179.2 400.7,177.9 400.8,179.2 400.8,179.9 400.8,180.5 400.8,181 400.8,181.6 400.9,183.7 400.9,183.6 400.9,183.3 400.9,185.8 400.9,186.2 401,185.1 401,187 401.1,188.3 401.3,188.5 401.5,187.8 401.7,189.7 401.9,190.3 402.1,190.3 402.5,190 402.9,186.7 403.3,188.1 403.7,186 403.8,187 403.8,187.8 403.9,188.5 404,188.7 404.1,190.3 404.1,190.6 404.2,191.5 404.3,191.7 404.4,191.8 404.4,191.3 404.5,193.8 404.6,195.3 404.6,194 404.7,196.8 404.8,194.9 404.9,196.5 404.9,198 405,198.4 405.1,198.5 405.2,198.1 405.2,198.2 405.3,198.1 405.4,199.5 405.6,197.6 405.7,197.4 405.8,198.3 405.9,196.7 406.1,194.7 406.2,194.9 406.3,195.4 406.5,193.6 406.6,192.3 406.7,191.7 406.9,192.6 407,192.1 407.1,192.4 407.2,192.3 407.4,194.2 407.5,195.3 407.6,195.2 407.7,196.1 407.9,196 408,198.6 408.1,197.5 408.3,199.9 408.4,198.2 408.5,200.6 408.6,201.8 408.8,201.5 408.9,201 409,201.2 409.1,203.6 409.3,203.6 409.5,201.1 409.7,200.7 409.9,200.8 410.1,200 410.3,196.9 410.5,197.9 410.7,197.3 410.8,197.1 410.9,199.1 411,198.9 411,198.7 411.1,200.7 411.2,200.1 411.3,200.6 411.4,201.4 411.5,201.8 411.6,204.3 411.7,203.7 411.8,206 411.9,206.1 412,206.5 412.1,208.1 412.2,207.4 412.3,207.2 412.4,209.4 412.5,208.4 412.6,211.2 412.7,211.7 412.8,210.5 412.9,209.9 413.2,212.5 413.4,210.5 413.7,212 414,209.9 414.2,210.2 414.5,209.3 414.8,206.5 415.1,206.3 415.4,206 415.6,204.8 415.9,206.1 416.2,203.5 416.5,202.9 416.7,202.1 417,201.5 417.3,202.8 417.5,200.7 417.8,201.5 418.3,200.1 418.7,202 419.2,202.3 419.6,203.5 420,202.2 420.1,204.2 420.2,204.9 420.3,204.4 420.4,206 420.4,205.7 420.5,207.1 420.6,208.6 420.7,209.3 420.7,208.8 420.8,209.3 420.9,212 421,210.8 421,212.1 421.1,212.5 421.2,212.9 421.3,213.8 421.4,213 421.4,214.2 421.5,214.8 421.6,215.2 421.7,214.1 421.7,213.2 421.8,213 421.8,212.3 421.9,211.7 422,211.6 422,211.2 422.1,212 422.2,210.8 422.2,210.5 422.3,208.5 422.3,206.9 422.4,207.1 422.5,206.6 422.5,206.6 422.6,203.7 422.7,204.3 422.7,204.1 422.8,201.8 422.9,201.4 422.9,199.7 423,200.6 423,198.4 423.1,199.8 423.2,199.4 423.2,199.3 423.3,199.1 423.3,196.9 423.4,199 423.4,198.6 423.5,199.4 423.5,199.5 423.6,198.7 423.6,200 423.7,198.7 423.7,201.2 423.8,200.9 423.8,201.9 423.8,201.7 423.9,202.4 423.9,202.2 424,204.4 424,204.4 424,204.3 424.1,206.5 424.1,206.8 424.2,207.1 424.2,208.9 424.2,208.6 424.3,210.1 424.3,210.5 424.4,210.7 424.4,211.4 424.5,212.7 424.5,212.3 424.6,212.8 424.6,213.8 424.7,215.4 424.7,214.5 424.8,216.5 424.8,215.7 424.9,217.7 425.4,216.9 425.9,219.4 426.4,219.3 427,218.9 427.6,217.9 427.9,216.7 428.2,218.1 428.5,215.7 428.8,216.6 429.1,215.2 429.4,213.8 429.7,214.1 430,213.3 430.3,213.9 430.6,211.8 430.8,213 431,210.2 431.2,209.7 431.4,210.4 431.6,210.5 431.8,209 431.9,207.1 432,208.6 432.2,207.5 432.3,205.4 432.5,205.7 432.6,206.5 432.8,207.2 432.9,207.8 433,209.1 433.1,209.1 433.3,210.7 433.4,209.9 433.5,210.5 433.7,212 433.8,213.3 433.9,212.6 434.1,212 434.5,213.6 434.9,213.7 435.4,215.9 435.9,214.7 436.3,215.3 437,215.9 437.7,214.4 438.4,214.8 438.8,216.3 439.1,216 439.4,216 439.8,218.4 440.1,219.2 440.2,219.3 440.4,218.4 440.5,220.7 440.6,221.7 440.8,219.8 440.9,221.8 441,220.7 441.2,221.4 441.3,222.6 441.4,225 441.6,224.3 441.7,225.2 441.8,226.6 441.9,225.7 441.9,225.9 442,225.9 442.1,226.8 442.2,228.4 442.3,229.6 442.4,230.5 442.4,229.1 442.5,230.7 442.6,230.4 442.7,231.6 442.8,230.7 442.9,233.8 442.9,233.9 443,234.4 443.1,234.7 443.2,234.6 443.2,236.4 443.3,236 443.4,237 443.4,236.5 443.5,236.7 443.6,238.7 443.6,238.1 443.7,237.8 443.7,239 443.8,239.8 443.8,239.6 443.9,240 443.9,242 444,241.9 444,242.6 444.1,243.7 444.1,242.6 444.2,244.5 444.3,246.6 444.3,245.4 444.4,247.4 444.4,246.4 444.5,247.4 444.5,248.1 444.5,247.9 444.6,248.5 444.6,249.2 444.6,250.1 444.7,250.4 444.7,251.2 444.8,251.1 444.8,252.5 444.8,253.7 444.9,253.4 444.9,253.7 445,255.6 445,255.6 445.1,256.5 445.2,257.8 445.2,259 445.3,260.2 445.4,261.5 445.5,262.7 445.6,264.4 445.7,266.1 445.8,267.7 445.9,269.1 446.1,270.8 446.2,272.4 446.3,273.9 446.4,275.3 446.5,276.6 446.6,278.3 446.8,279.8 446.9,281.1 447.6,282.7 449.3,281.7 450,280.8 450.3,281.2 450.6,279.9 450.9,280.4 451.3,279.1 451.7,279.3 452,277.7 452.4,277.9 452.8,277.1 453.2,276.7 453.6,275.6 453.9,275.6 454.3,275.2 454.6,275.2 454.9,275.3 455.3,275.6 455.7,275 456,275.1 456.4,275.8 456.7,277.3 457,277.5 457.3,278.3 457.6,279.2 458,279.4 458.5,279.5 458.9,280 459.4,279.5 459.9,280.5 460.4,279.9 461,281 461.5,281.2 462,281.1 462.5,281 463.1,281.2 463.6,282 464.2,282 464.7,282.5 465.3,282.5 465.8,282.5 466.3,283.3 466.7,283.2 467.2,282.6 467.6,282.3 468,282.1 468.4,281.3 468.8,280.8 469.2,279.5 469.6,279 470,279.2 470.4,278.6 470.7,277.8 471.1,277.9 471.5,276.9 471.9,276.5 472.3,276.5 472.7,275.4 473.1,275.5 473.5,274.6 473.8,274.6 474.2,274.5 474.7,274.2 475.1,274.5 475.6,275.3 476,275.6 476.4,276 476.9,276.6 477.4,276.5 478,277.1 478.5,277.5 479.1,277.4 479.6,277.7 480.3,276.7 480.9,276.8 481.5,276.8 482.1,277.6 482.7,277.5 483.3,276.6 483.8,276.3 484.4,276.5 484.9,276.9 485.4,276.6 485.9,276.1 486.3,276.3 486.8,275.8 487.4,274.6 488,274.6 488.5,275.2 489,275 489.6,275 490.2,274.6 490.8,274.8 491.4,273.6 492,273.9 492.6,273.3 493.2,274.3 493.8,274 494.3,273.5 494.8,273.1 495.4,272.7 495.9,272.5 496.4,271.7 496.9,271.1 497.4,271.6 497.9,271.2 498.3,270.2 498.8,270.1 499.2,269.9 499.6,270.1 500.3,269.6 500.9,270.2 501.4,269.9 502,271.2 502.5,271 503,270.6 503.3,270.5 503.6,270.3 504,269.8 504.3,268.8 504.6,268.3 504.9,267.6 505.2,267.7 505.5,267.6 505.7,266 506,266.4 506.3,265.8 506.6,264.6 506.9,264.2 507.1,263.2 507.4,263.6 507.7,262.6 508,262.7 508.3,261.8 508.8,261.4 509.4,261.3 510,261.3 510.6,260.9 511.2,261 511.8,260.9 512.2,260.8 512.5,261.1 512.9,262.1 513.2,261.5 513.5,262.9 513.9,263.1 514.2,263.5 514.5,264.4 514.6,264.8 514.8,265.6 514.9,266.1 515,266.9 515.2,266.9 515.3,267.6 515.4,267.7 515.6,268.9 515.7,268.7 515.8,270.4 515.9,271.1 516.1,271.1 516.2,271.4 516.4,272 516.5,273.1 516.6,273 516.8,273.9 516.9,274 517.1,274.5 517.4,275.2 517.7,276.8 518,277.2 518.3,277.4 518.6,278.2 519,278 519.3,279.1 519.6,278.9 520,279.9 520.3,279.8 520.6,280.7 521.1,280.3 521.6,280.9 522.1,282.5 522.6,282.8 523.1,282.4 523.6,282.1 524.1,282 524.3,281.7 524.4,281.3 524.6,281.4 524.7,280 524.9,279.8 525,279.5 525.2,278.8 525.3,278 525.5,277.6 525.6,276.3 525.8,276 525.9,274.8 526.1,274.4 526.2,273.4 526.4,273 526.5,272.1 526.7,272.7 526.8,272.1 527,270.5 527.1,270.2 527.3,270.8 527.4,270.5 527.6,270.3 527.9,270.2 528.2,269.8 528.6,270.8 528.9,271.4 529.2,271.3 529.5,272.3 529.9,273 530.2,274.3 530.5,274.5 530.8,274.6 531.1,275.3 531.5,274.7 531.8,274.7 532.2,273.9 532.5,273.4 532.9,272.8 533.2,271.6 533.6,271.7 534,271.4 534.5,270.1 535,270 535.5,270.2 536,269.6 536.6,269 537.1,269 537.6,268.7 538.1,269.4 538.7,268.9 539.3,267.7 539.9,267.8 540.5,268.1 541,267.5 541.6,267.7 541.8,268 542.1,268.6 542.3,269.7 542.6,270.6 542.8,271.3 543.1,271.9 543.3,271.7 543.5,273.1 543.8,273.8 544,273.7 544.3,274.1 544.6,274.9 544.8,274.8 545.1,275.4 545.3,275.1 545.4,274.4 545.6,274.5 545.8,273.1 546,273.2 546.2,272.3 546.4,271.7 546.6,271.3 546.8,270.7 547,270.3 547.1,269 547.3,267.8 547.5,267.9 547.7,267.1 547.9,266.4 548.1,265.4 548.3,264.1 548.5,264.5 548.7,263.2 548.9,263.3 549.1,262.7 549.3,263.1 549.5,262.7 549.7,263.4 549.9,263.5 550.1,263.1 550.3,263.4 550.5,264.4 550.6,265.2 550.8,265.9 551,266 551.2,266.4 551.4,267.1 551.6,268.5 551.8,268.7 552,270.1 552.2,271 552.3,271.4 552.5,271.9 552.7,273.1 552.9,273.4 553.1,273.8 553.3,274.3 553.5,274.6 553.7,274.6 553.9,274.5 554.2,275.3 554.6,274.5 554.9,274.7 555.2,274.2 555.6,274.3 555.9,273.5 556.2,273.1 556.6,272.1 556.9,271.3 557.3,270.3 557.6,269.7 557.9,269.2 558.3,268.8 558.6,268.3 559,267.4 559.4,267 559.9,267.1 560.3,266.3 560.7,265.3 561.1,265 561.5,264.6 561.9,264 562.4,264.4 562.8,263.9 563.2,263.7 563.7,264.2 564.3,264.2 564.8,264.6 565.3,265.2 565.9,265.5 566.4,265.2 566.9,266.6 567.4,267 567.8,266.9 568.4,265.8 568.8,266.2 569.3,265.4 569.7,264.4 570.1,264.2 570.5,263.8 570.9,264.4 571.3,264.8 571.7,265.6 572.2,266.2 572.6,266.4 573.2,265.9 573.6,266.4 573.9,265.9 574.4,265.5 574.8,265.1 575.3,264.3 575.7,263 576.2,262.5 576.6,261.9 577.1,262.4 577.4,261.4 577.8,261.4 578,262.7 578.2,262.6 578.3,263.1 578.5,264 578.6,263.5 578.8,264.8 578.9,265.2 579,266.5 579.1,266.4 579.3,267.2 579.4,268.7 579.5,269.7 579.6,270.1 579.8,270.2 579.9,270.9 580,271.2 580.2,271.7 580.3,271.8 580.5,272.3 580.7,272.3 580.8,271.6 581,271.4 581.2,271.4 581.4,270.1 581.6,270.2 581.8,268.6 582,268.1 582.2,267.9 582.4,266.7 582.6,265.9 582.8,265.3 583,264.1 583.2,263.8 583.4,263 583.6,262.2 583.8,262.4 584,262.3 584.2,261.4 584.5,261.4 584.7,261.7 584.9,262.1 585.2,262.8 585.4,263.9 585.7,264.4 585.9,265 586.1,266.2 586.4,267.2 586.6,267.9 586.9,268.6 587.2,268.9 587.5,269 587.8,269.3 588.1,268.9 588.4,269.4 588.8,268.2 589.2,268.7 589.5,267.6 589.9,267.9 590.3,267.3 590.7,267 591.1,266 591.5,265.2 591.8,264.5 592.2,263.9 592.6,264.1 593,263 593.3,262.8 593.8,262.2 594.3,261.5 594.8,261.5 595.3,261.5 595.7,260.7 596.2,260.1 596.6,259.3 597.1,259.9 597.5,259.4 597.9,259.1 598.6,258.6 599.2,259 599.9,259.4 600.5,258.5 601,259.9 601.5,259.8 601.7,260 601.8,261 602,261 602.1,261.7 602.2,263.3 602.3,264.1 602.4,264.1 602.5,265.1 602.6,265.9 602.7,266.4 602.8,266.8 602.9,267.4 603,268.7 603.1,268.4 603.3,268.5 603.4,269.1 603.6,269.4 603.7,269.1 603.9,268.2 604.1,267.7 604.3,266.7 604.5,266.5 604.6,265.6 604.8,264.1 605,263.4 605.2,262.7 605.4,262.6 605.7,261.9 605.9,261.7 606.1,261.9 606.2,261.8 606.4,261.7 606.5,262.5 606.7,262.9 606.9,263.7 607,263.8 607.2,264.9 607.3,265.1 607.5,266 607.7,266.8 607.8,267.7 608,268.7 608.2,269.8 608.3,270.1 608.5,270.7 608.7,271.6 608.9,271.5 609,272.5 609.2,273.2 609.4,273.3 609.5,273.4 609.7,273.9 610,273.6 610.3,274 610.5,273.1 610.8,272.6 611.1,272.6 611.4,271.2 611.7,270.4 612,269.6 612.3,268.4 612.6,267.9 612.8,267.8 613.1,266.9 613.4,267.6 613.6,268.1 613.9,267.9 614.1,268.6 614.3,269 614.5,269.3 614.8,269.3 615,270.6 615.2,271.7 615.4,271.9 615.6,273.3 615.9,273.6 616.1,273.8 616.3,274.4 616.5,274.8 616.8,275.7 617,275.6 617.4,275.2 617.8,275.8 618.2,276 618.6,274.9 619,274.4 619.4,273.8 619.8,273.8 620.2,273 620.7,271.7 620.9,271.6 621.1,271.1 621.3,270.8 621.6,269.6 621.8,269.7 622,268.5 622.2,267.9 622.5,266.9 622.7,266.4 623,266.3 623.2,265.3 623.4,264.1 623.7,264.5 623.9,263.7 624.1,263 624.4,262.6 624.6,262.6 624.8,261.8 625.1,262.4 625.3,261.4 625.5,261.6 625.7,262 625.9,262.2 626.1,262.5 626.3,263.2 626.5,264 626.7,264.3 626.9,265.3 627.1,265.7 627.3,266.2 627.5,267.7 627.6,268.2 627.8,268.4 628,269.2 628.2,270.4 628.4,271 628.6,271.1 628.8,271.6 629,273 629.2,273.5 629.4,273.5 629.6,273.8 629.8,274 630.2,274.3 630.5,274.5 630.9,273.7 631.2,273.8 631.6,272.6 631.9,272.6 632.3,272 632.6,270.7 633,270.2 633.3,270.5 633.7,269.6 634,269.2 634.4,268.3 634.8,267.4 635.2,267.2 635.6,267.1 635.9,265.9 636.3,265 636.7,264.1 637.1,264.5 637.5,263.6 637.8,263 638.2,263 638.6,262.9 638.9,262.8 639.1,263.2 639.4,263.3 639.6,264.1 639.8,264 640,264.3 640.2,264.9 640.4,266.3 640.6,266.9 640.8,267.5 641,267.9 641.2,269 641.4,268.9 641.7,269.7 642,270.1 642.3,270.2 642.6,271.6 643,271.7 643.5,271.7 643.9,271.9 644.4,272.5 644.9,273.3 645.5,273.4 646,273.3 646.6,273.9 647.1,273.9 647.7,274.7 648.3,274.6 648.8,274.4 649.4,274.9 649.9,274.2 650.4,274.8 651,274.2 651.5,274.2 652.1,274.2 652.7,274.3 653.2,273.5 653.8,273.1 654.3,273.2 654.9,273.2 655.4,273 655.9,272.8 656.4,271.6 656.8,272.1 657.2,271.5 657.9,272.3 658.5,272.4 659,273.6 659.4,273.2 659.9,273.5 660.3,274 660.8,273.3 661,273.3 661.2,273.7 661.4,272.2 661.6,272.4 661.8,271.8 662,270.3 662.2,269.7 662.4,268.9 662.6,268.5 662.7,267.8 662.9,266.4 663.1,266.3 663.3,265 663.5,265 663.7,264.3 663.9,264.5 664.1,264.2 664.3,264.1 664.5,263.6 664.6,264.5 664.8,264.2 664.9,264.6 665,265.6 665.2,265.5 665.3,265.7 665.4,267.3 665.6,267.8 665.7,268.8 665.8,269.3 666,270.1 666.1,271.2 666.2,272 666.4,272.6 666.5,273 666.6,274.2 666.8,275 666.9,276.1 667,275.8 667.2,277.6 667.3,277.8 667.4,277.9 667.6,277.8 667.7,278.6 667.8,278.2 668,278.3 668.1,278.1 668.2,278.3 668.2,278.1 668.3,277.6 668.4,277.3 668.5,276.6 668.5,276.4 668.6,276 668.7,276 668.8,276 668.8,274.5 668.9,274.2 669,273.7 669.1,273 669.2,272.1 669.2,272 669.3,271.5 669.4,270.2 669.5,270 669.5,268.6 669.6,268.3 669.7,267.6 669.8,266.7 669.9,266.1 669.9,265 670,265.1 670.1,264.1 670.2,263.2 670.2,262.6 670.3,261.4 670.4,260.8 670.5,259.6 670.5,259.3 670.6,259.3 670.7,257.9 670.8,257.7 670.8,256.4 670.9,256.6 671,255.8 671.1,254.9 671.1,254.4 671.2,254.1 671.3,253.8 671.3,253.4 671.4,252.5 671.5,252.1 671.5,252 671.6,251.5 671.7,251.2 671.7,251.2 671.8,251.1 671.9,250.5 672,251.1 672.1,251.2 672.3,250.8 672.4,251 672.5,252.1 672.6,252.7 672.7,253 672.8,252.8 672.9,254.2 673,255.1 673.1,255 673.2,256.7 673.3,256.3 673.4,258.3 673.5,258.1 673.6,259.4 673.7,260.3 673.8,261.6 673.9,262 674,263.1 674.1,262.8 674.1,264.1 674.2,264.7 674.3,264.8 674.4,265.7 674.4,266 674.5,266.4 674.9,268.4 675.2,268.4 675.3,268.2" fill="none" stroke="#2b2b2b" stroke-width="1.3" stroke-linejoin="round" stroke-linecap="round" opacity="1.0" /><polyline points="379,162.2 379.2,163.4 379.4,164.9 379.5,166.1 379.7,167.6 379.9,169.1 380.2,170.9 380.3,172.2 380.5,173.6 380.6,175 380.7,176.6 380.9,178.2 381,180 381.1,181.2 381.2,182.5 381.3,183.8 381.3,185.1 381.4,186.5 381.5,187.9 381.6,189.4 381.7,190.9 381.8,192.5 381.9,194 381.9,195.6 382,197.3 382.1,199 382.2,200.7 382.3,202.5 382.4,204.3 382.4,205.5 382.5,206.7 382.5,208 382.6,209.3 382.6,210.6 382.7,211.9 382.7,213.2 382.8,214.5 382.9,215.9 382.9,217.2 383,218.6 383,220 383,221.4 383.1,223 383.1,224.6 383.2,226.3 383.2,228.1 383.3,229.4 383.3,230.7 383.3,232 383.4,233.3 383.4,234.7 383.4,236.1 383.4,237.4 383.5,238.9 383.5,240.3 383.5,241.7 383.6,243.2 383.6,244.6 383.6,246.1 383.6,247.5 383.7,249 383.7,250.4 383.7,251.9 383.8,253.3 383.8,254.8 383.8,256.2 383.8,257.6 383.9,259 383.9,260.3 383.9,261.7 383.9,263 384,264.3 384,265.6 384,266.8 384.1,268.6 384.1,270.3 384.1,271.9 384.2,273.4 384.2,274.8 384.3,276 384.3,277.5 384.3,278.8 384.4,280 384.7,278.7 384.8,277.3 384.8,276 384.8,274.6 384.9,273 384.9,271.3 384.9,269.5 385,268.2 385,266.9 385,265.6 385,264.2 385,262.8 385.1,261.4 385.1,260 385.1,258.5 385.1,257 385.2,255.5 385.2,254 385.2,252.5 385.2,251 385.2,249.4 385.3,247.9 385.3,246.4 385.3,245 385.3,243.5 385.3,242 385.3,240.6 385.4,239.2 385.4,237.9 385.4,236.5 385.4,235.2 385.4,234 385.5,232.8 385.5,231.1 385.5,229.4 385.5,228.2 385.5,227 385.6,225.7 385.6,224.5 385.6,223.2 385.6,222 385.6,220.7 385.6,219.4 385.6,218.1 385.7,216.8 385.7,215.5 385.7,214.2 385.7,212.9 385.7,211.6 385.7,210.3 385.7,209.1 385.7,207.8 385.7,206.5 385.7,205.3 385.8,204.1 385.8,202.8 385.8,201.1 385.8,199.3 385.8,197.6 385.8,196 385.9,194.4 385.9,192.9 385.9,191.5 385.9,190.1 386,188.8 386,187.3 386,187.7 386,187.8 386,185.7 386.1,186.6 386.1,186.1 386.1,185.7 386.1,183.9 386.6,179.8 387.2,181.7 387.8,184.8 387.9,183.7 388,184.8 388.1,184.8 388.2,186.8 388.3,187.7 388.4,186.9 388.5,189.3 388.6,187.5 388.7,190.2 388.8,191.1 388.9,189.8 389,192 389.1,192.1 389.2,193.7 389.3,192.1 389.4,193.3 389.5,194.4 389.7,193.8 389.9,192.5 390,191.2 390.2,192.7 390.4,190.5 390.6,191.1 390.8,188 391,189.4 391.2,189.2 391.4,189.7 391.5,187.5 391.7,188.9 391.9,188.5 392.1,190.9 392.2,190.5 392.4,192.7 392.6,191.8 392.8,193.6 393,194.5 393.3,193.4 393.5,194.8 393.7,196.3 394,195.8 394.4,195.9 394.8,196.2 395.2,198.1 395.6,197 396,198.5 396.4,198.8 396.8,199.1 397.1,198.3 397.8,200.4 398.4,201.6 399,200.2 399.6,199.7 399.8,201 399.9,199.5 400.1,198 400.2,196.5 400.4,197.7 400.5,195.7 400.7,195.1 400.8,193.8 400.9,194 401.1,193.7 401.2,192.1 401.3,191.2 401.4,193.6 401.5,193.7 401.5,191.5 401.6,193.2 401.6,193.9 401.6,193.5 401.6,194.8 401.7,195.9 401.7,195.4 401.7,195.4 401.7,195.5 401.7,196.3 401.8,196.7 401.8,197.2 401.8,198.2 401.8,200.6 401.8,200.5 401.8,202 401.8,203 401.8,203.5 401.8,202.2 401.8,205.3 401.9,203.8 401.9,206.3 401.9,207.2 401.9,207.4 401.9,207.4 401.9,207.1 401.9,207.7 401.9,209.8 402,209.3 402,210.5 402,210.2 402,210.4 402,211.1 402.1,212.5 402.1,212.1 402.2,212.1 402.3,212.3 402.4,212.1 402.6,211.3 402.7,210.3 402.8,210.8 403,209.2 403.1,206.9 403.3,206.3 403.4,205.3 403.6,205.3 403.7,204.3 403.8,206.4 403.9,206.2 404,206.3 404.1,208 404.2,207.1 404.3,208.5 404.4,210.2 404.5,209.9 404.6,210.8 404.7,210.9 404.8,213.3 404.9,213.3 405,212.7 405.1,213.3 405.2,214.3 405.3,214.4 405.5,214.4 405.8,212.9 406,212.9 406.2,212.3 406.5,211.8 406.9,210.9 407.1,211 407.3,211.5 407.5,211.9 407.7,212.1 407.9,211.4 408.2,212.6 408.4,215.1 408.6,215.2 408.9,214.9 409.1,216.3 409.4,215.4 409.6,216.2 409.8,217.5 410,218.6 410.2,217.3 410.4,219.1 410.5,220.8 410.7,220.7 410.8,222.3 411,220.6 411.1,223.5 411.2,223.9 411.4,222.4 411.5,224.4 411.6,225.6 411.8,224.8 411.9,226.4 412,227.4 412.1,227.6 412.3,226.9 412.4,226.1 412.7,227.5 412.9,226.3 413.1,226.8 413.3,225.4 413.6,224.9 413.9,224.6 414.2,224.5 414.5,224.3 414.8,222.3 415,220.7 415.4,222.2 415.7,220.5 416,221 416.4,220.6 416.7,217.9 417,219.3 417.4,217.6 417.7,217.4 418,217.2 418.3,217.6 418.7,216.8 419,217.6 419.4,217.2 419.7,217.1 420,217.9 420.3,219.7 420.6,219.4 420.8,220 421.1,221.5 421.2,221.5 421.2,224.1 421.3,224 421.4,222.9 421.4,223.9 421.5,225 421.6,225.9 421.6,226.3 421.7,227.4 421.7,228.8 421.8,227.9 421.8,229.8 421.9,229.5 421.9,231.3 422,231.5 422,233.6 422.1,234.5 422.1,235.4 422.2,234.6 422.2,235.8 422.3,235.2 422.3,237.1 422.4,237.8 422.4,237.2 422.5,237.3 422.5,238.7 422.6,238.8 422.6,239 422.7,237.6 422.7,237.4 422.8,237.3 422.8,236.9 422.9,236.1 422.9,236.1 423,236.7 423,236 423,236.8 423.1,234.9 423.1,233.7 423.2,235.2 423.2,232.2 423.2,232.3 423.3,232.7 423.3,230.8 423.4,231.8 423.4,230.5 423.4,228.5 423.5,229.3 423.5,228.6 423.6,226.8 423.6,225 423.7,224.2 423.7,225.3 423.7,224.8 423.8,223.5 423.8,223.1 423.9,222.5 423.9,220.3 424,219.7 424,220.9 424.1,220.3 424.1,218.7 424.1,217.8 424.2,217 424.2,217.5 424.3,218.6 424.6,215.9 424.9,216 425.2,215.7 425.5,217.9 425.9,217.6 426.2,220.3 426.5,220.8 426.6,221 426.8,221.1 426.9,221.8 427,224 427.2,224.7 427.3,224.9 427.4,224.2 427.5,224.8 427.7,225.9 427.8,228 427.9,228.8 428.1,227.4 428.2,229 428.4,228.7 428.5,229.2 428.7,228.7 429,230.1 429.3,230 429.7,229.8 430,227.9 430.4,226.9 430.8,226.7 431.2,224.7 431.5,226.2 431.9,225.8 432.2,224.5 432.5,225.3 432.8,226 433.1,227.5 433.4,227.7 433.7,227.1 434,229.7 434.3,230.3 434.6,230.7 434.9,230.2 435.2,230.5 435.8,230.7 436.3,232.5 436.9,231.2 437.4,232.5 437.9,230.5 438.4,230.4 438.7,232 439,231.6 439.3,232.2 439.6,232.1 439.8,232.9 440.1,234.4 440.3,234.1 440.6,235.5 440.7,236.7 440.9,236.1 441,236.7 441.2,237.3 441.3,237.4 441.4,238.6 441.6,239.6 441.7,238.1 441.8,240 442,240.5 442.1,242.1 442.3,242.2 442.4,241.7 442.5,243.3 442.7,244.9 442.8,245.9 442.9,245.8 442.9,244.5 443,245.6 443,246.4 443.1,246.4 443.2,248.1 443.2,247.8 443.3,249.7 443.3,247.6 443.4,250.3 443.5,248.9 443.5,250.6 443.6,250.2 443.6,251.4 443.7,252.6 443.8,254.1 443.8,252.2 443.9,253.7 443.9,253.6 444,255.9 444.1,254.9 444.1,255.6 444.2,257.9 444.2,256.4 444.3,259.3 444.4,258.2 444.4,260.8 444.5,259 444.5,259.5 444.6,261.1 444.7,261.3 444.7,262.7 444.8,262.4 444.8,263 444.9,262.7 444.9,263.4 445,263.7 445.1,266.2 445.3,267.5 445.4,268.7 445.5,270 445.6,271.3 445.7,272.5 445.9,273.8 446,275 446.2,276.7 446.4,278.3 446.6,279.8 446.8,281 447.5,283.3 449.3,283.5 450,283.6 450.3,282.9 450.7,282.3 451,282 451.4,281.9 451.8,281.5 452.2,279.9 452.6,280 453.1,279 453.5,279.3 453.9,278.6 454.2,278 454.6,277.8 454.9,277.8 455.3,277.1 455.7,277.6 456,277.7 456.4,278.4 456.7,279.9 457,280.2 457.3,280.3 457.6,281 458,281.6 458.5,281.6 458.9,282.9 459.4,282.7 459.9,282.6 460.4,283.4 461,283.6 461.5,284.3 462,283.9 462.5,284.1 463.1,284.7 463.6,284.9 464.2,284.8 464.7,285.7 465.3,286 465.8,286 466.3,285.7 466.7,285.3 467.2,285.5 467.6,284.6 468,284.1 468.4,283.8 468.8,283.8 469.2,282.9 469.6,282.7 470,282.5 470.2,281.9 470.5,280.9 470.8,280.3 471,279.6 471.3,279.1 471.6,278.7 471.8,278.6 472.1,278.1 472.4,277 472.6,276 472.9,276.1 473.2,276 473.4,274.5 473.7,274.9 473.9,275.1 474.2,274.1 474.6,274.4 475,274.8 475.3,275 475.7,274.9 476,276.2 476.4,276.6 476.7,277.3 477.1,277.8 477.5,278.6 478,278.7 478.5,279.4 479.1,278.7 479.6,278.8 480.3,279.1 480.9,279.7 481.5,280.1 482.1,280.5 482.7,279.4 483.3,279.5 483.8,279.9 484.3,280.1 484.8,279.5 485.2,279.1 485.7,278.6 486.1,278.8 486.5,278.3 487,278.3 487.4,277.2 488,277.2 488.5,277.6 489,277.2 489.6,276.7 490.2,277.3 490.8,276.9 491.4,276.5 492,276.5 492.6,276.9 493.2,276.6 493.8,276.3 494.3,276.6 494.7,275.8 495.1,275.6 495.5,275.3 495.9,274.2 496.3,274.6 496.7,273.4 497.1,272.7 497.5,272.6 497.9,271.7 498.3,270.9 498.6,270.6 499,270.1 499.3,270.2 499.6,270 500.2,269.8 500.7,270 501.2,271.3 501.7,271.6 502.1,272.1 502.6,271.7 503,272.8 503.3,271.5 503.6,272 503.9,271.5 504.1,270.7 504.4,270 504.7,269.6 505,269.1 505.2,268.8 505.5,267.3 505.8,266.8 506,267 506.4,266 506.7,265.8 507,265.1 507.3,264.2 507.6,264.8 507.9,263.7 508.3,263.5 508.8,263.7 509.4,263.7 510,263.5 510.6,263.5 511.2,262.7 511.8,262.6 512.4,262.9 512.9,263.3 513.5,263.3 514,263.7 514.5,264.8 514.6,264.6 514.8,265.4 514.9,265.7 515,266.7 515.1,266.6 515.3,267.4 515.4,268.1 515.5,268.8 515.6,269.6 515.8,270.2 515.9,270.1 516,271.8 516.1,271.3 516.3,272.8 516.4,272.9 516.5,273.2 516.7,274.1 516.8,274.3 516.9,274.9 517.1,276.3 517.4,276.8 517.7,277 518,277.7 518.3,278.3 518.6,278.5 519,278.7 519.3,279.5 519.6,280.4 520,281 520.3,281 520.6,281.6 521,281.7 521.4,282.9 521.8,283.6 522.2,284.5 522.5,284.3 522.9,285.1 523.3,284.9 523.7,285.5 524.1,285.1 524.3,285 524.4,284.6 524.6,284 524.7,283.3 524.9,282.9 525,282.9 525.2,281.7 525.3,281.9 525.5,281 525.6,279.6 525.8,279.1 525.9,278.8 526.1,277.1 526.2,277.3 526.4,276.2 526.5,275.8 526.7,274.4 526.8,274.6 527,273.3 527.1,273.1 527.3,273.1 527.4,272.8 527.6,272.2 528,271.8 528.5,272 528.9,272.4 529.4,273 529.8,273.7 530.3,274.7 530.7,275.6 531.1,275.9 531.6,275.4 532.1,275.9 532.5,274.9 533,275.1 533.5,274.6 534,274 534.4,273.8 534.8,273 535.2,272.9 535.6,271.6 536,271.4 536.4,270.9 536.9,270.4 537.3,269.4 537.7,269.3 538.1,269.5 538.7,269 539.3,269.3 539.9,269.4 540.5,269.4 541,269.2 541.6,270 541.9,271 542.2,270.8 542.5,271.2 542.8,272.8 543.1,273.1 543.4,273.6 543.8,274.6 544.1,275.6 544.4,275.6 544.7,275.3 545.1,274.8 545.3,275.1 545.4,274.6 545.6,275.1 545.8,274.5 546,274.1 546.1,273.4 546.3,272 546.5,271.7 546.7,270.9 546.9,270.1 547.1,269.3 547.2,268.2 547.4,267.3 547.6,266.5 547.8,266.5 548,265.2 548.2,265.4 548.4,264.6 548.6,263.7 548.8,264 548.9,262.7 549.1,262.6 549.3,263.2 549.5,262.7 549.7,263.4 549.8,263.1 550,262.8 550.1,264.2 550.3,264.7 550.4,264.6 550.6,265.5 550.7,266 550.9,266 551.1,267.5 551.2,267.9 551.4,268.9 551.5,268.8 551.7,270 551.8,270.6 552,272.2 552.1,271.9 552.3,272.6 552.5,273.7 552.6,275 552.8,274.8 552.9,276 553.1,276.7 553.3,276.9 553.4,277.1 553.6,277.9 553.7,277.3 553.9,277.7 554.2,278.5 554.4,277.7 554.7,277.5 554.9,277.1 555.2,277.1 555.4,277.1 555.7,275.6 556,275.4 556.2,275.2 556.5,273.5 556.8,273.3 557,272.3 557.3,271.9 557.6,271.7 557.8,271 558.1,269.7 558.3,269.1 558.6,269 559,268.9 559.4,267.5 559.9,266.9 560.3,266.5 560.7,266.6 561.1,265.4 561.5,264.9 561.9,264.8 562.4,264.7 562.8,264.2 563.2,264.9 563.6,264.3 564,265 564.4,265.2 564.8,266.3 565.2,267 565.6,267.1 566,267.6 566.4,268.2 566.8,269 567.1,268.9 567.5,269.1 567.8,269.6 568.3,269.9 568.7,269.3 569.1,268.5 569.4,268.3 569.8,268.2 570.1,267.6 570.5,266.5 571,266.3 571.5,267.1 572,267.7 572.5,267 573.2,267.5 573.6,267.1 574.1,267.5 574.7,267.1 575.2,265.8 575.8,266.2 576.3,264.8 576.9,264.7 577.4,265.5 577.8,265 578,266 578.2,265.9 578.4,266.5 578.6,267.5 578.8,268 578.9,268.2 579.1,269.1 579.2,269.8 579.4,270.4 579.5,271.2 579.6,272.4 579.8,272.6 580,272.7 580.1,273.9 580.3,274 580.5,274.3 580.7,273.8 580.9,273.3 581.1,273.5 581.3,272.9 581.5,272.2 581.7,271.5 581.9,270.6 582.1,269.7 582.3,268.6 582.5,268.4 582.7,267.7 582.9,266.6 583.2,266.8 583.4,266.2 583.6,264.9 583.8,264.3 584,263.9 584.2,264.4 584.5,264.5 584.8,264.3 585.1,265.1 585.3,265 585.6,265.8 585.9,266.4 586.2,266.9 586.5,267.6 586.8,269.3 587.1,268.9 587.4,269.2 587.8,270.1 588.2,269.7 588.6,269.9 589.1,269 589.5,268.8 590,269 590.5,269.1 591,267.8 591.5,267.3 591.9,267.6 592.4,267.1 592.9,266.4 593.3,266.3 593.8,265.4 594.2,264.8 594.6,264.4 595.1,263.9 595.5,263.7 595.9,263.5 596.3,263.1 596.7,262.5 597.1,261.6 597.5,262 597.9,261.2 598.5,261 599.1,261.3 599.6,262.1 600.1,261.7 600.6,262.4 601.1,263 601.5,263.5 601.7,263.4 601.8,264.5 602,265.1 602.1,265.3 602.2,265.8 602.3,266.5 602.4,268 602.5,269 602.6,268.7 602.7,269.8 602.8,270.9 602.9,271.6 603,271.9 603.1,271.5 603.3,272 603.4,271.7 603.5,272 603.7,272.1 603.8,271.1 604,271.4 604.1,269.9 604.3,269.4 604.4,268.7 604.6,267.8 604.7,267.2 604.9,266.1 605,265.7 605.2,264.7 605.4,264.6 605.6,263.9 605.7,263.6 605.9,263.5 606.1,263.1 606.2,262.9 606.4,262.9 606.5,263.3 606.7,264.1 606.9,264.9 607,265.2 607.2,265.3 607.3,266.3 607.5,267.3 607.7,267.7 607.8,269.3 608,269.4 608.2,269.9 608.3,271.6 608.5,271.8 608.7,272.2 608.9,272.7 609,273.7 609.2,274.7 609.4,274.3 609.5,274.7 609.7,275.5 610,275.3 610.2,275.2 610.5,273.9 610.8,274.4 611,273.9 611.3,272.4 611.6,272.1 611.8,270.5 612.1,269.9 612.3,269.9 612.6,268.5 612.9,268.2 613.1,267.8 613.4,267.5 613.6,268.6 613.9,267.8 614.1,269.3 614.3,269 614.5,270 614.8,270.2 615,270.9 615.2,271.9 615.4,273.1 615.6,273.4 615.9,273.6 616.1,274.7 616.3,275.3 616.5,276.1 616.8,275.8 617,276.6 617.4,276.2 617.8,276.7 618.2,276 618.6,275.2 619,275.2 619.4,274.9 619.8,273.3 620.2,272.8 620.7,272.2 620.9,272.3 621.2,271.8 621.4,270.4 621.7,270.3 621.9,269.6 622.2,268.8 622.4,267.4 622.7,267.1 623,267 623.2,265.6 623.5,265.7 623.7,264.9 624,263.9 624.3,263.3 624.5,262.9 624.8,263.5 625,263 625.3,263.3 625.5,263 625.7,263.5 625.9,263.4 626.1,263.6 626.2,264.5 626.4,264.7 626.6,265.7 626.8,266.2 627,266.7 627.2,267.5 627.4,269 627.5,269.7 627.7,270.5 627.9,270.5 628.1,271.5 628.3,272.4 628.5,272.5 628.7,273.4 628.9,274.4 629,275.2 629.2,274.6 629.4,275.4 629.6,275.7 629.8,275.8 630.1,276.4 630.4,275.3 630.7,276 630.9,275.7 631.2,274.7 631.5,274.6 631.8,274.1 632.1,273 632.4,272 632.7,271.4 633,271.6 633.3,270.2 633.5,270.1 633.8,268.7 634.1,269.1 634.4,268 634.9,268 635.3,267 635.8,267 636.2,266.5 636.7,266.4 637.2,265.1 637.6,265.1 638.1,265.5 638.5,265.1 638.9,264.6 639.2,264.8 639.4,265.7 639.7,265.6 639.9,266 640.1,267 640.4,267.4 640.6,268.2 640.8,268.9 641,269.7 641.3,269.8 641.6,271.3 641.9,270.8 642.2,272.2 642.6,272.1 643,272.6 643.5,273.1 643.9,273.2 644.4,273.6 644.9,274.5 645.5,274.4 646,274.6 646.6,274.5 647.1,275.5 647.7,275.4 648.3,275.1 648.8,276.1 649.4,275.4 649.9,276.3 650.5,276.4 651.1,276.2 651.7,275.5 652.3,276.3 652.9,275.6 653.5,274.9 654.1,275.3 654.7,275.3 655.2,275 655.8,274.4 656.3,274.5 656.8,274.5 657.2,274.6 658,274.6 658.7,275.4 659.2,276.1 659.7,276.1 660.2,276 660.8,275.1 661,275 661.2,274.5 661.4,274.1 661.5,273.4 661.7,273.5 661.9,272.3 662.1,271.4 662.3,271.3 662.5,270.1 662.6,269.7 662.8,268.9 663,268.3 663.2,266.8 663.4,266.7 663.6,266.4 663.8,265.4 663.9,265.6 664.1,264.4 664.3,264.3 664.5,264.5 664.6,264.8 664.8,264.9 664.9,265.3 665,266.1 665.1,266.7 665.3,266.9 665.4,268.3 665.5,269.1 665.7,269.9 665.8,270.4 665.9,271.5 666,272.1 666.2,273.1 666.3,273.4 666.4,274.9 666.6,274.5 666.7,276.2 666.8,276.9 666.9,276.9 667.1,278.4 667.2,278.4 667.3,279.6 667.5,280.1 667.6,279.8 667.7,280.6 667.8,279.8 668,279.8 668.1,280.5 668.2,280.2 668.3,279.5 668.3,279.3 668.4,279.1 668.5,279.1 668.6,277.9 668.6,278.1 668.7,277.8 668.8,277.3 668.9,276 669,275.7 669,275.1 669.1,274.7 669.2,274.3 669.3,273.5 669.4,272.6 669.4,272 669.5,271.8 669.6,271.2 669.7,270.2 669.8,268.9 669.8,267.8 669.9,267.7 670,266.3 670.1,265.7 670.2,264.8 670.2,264.2 670.3,263.2 670.4,262.5 670.5,262.8 670.6,262.1 670.6,260.3 670.7,260.6 670.8,259.9 670.9,259.4 670.9,258.6 671,257.4 671.1,257.3 671.2,256 671.2,256.1 671.3,255.9 671.4,254.6 671.5,254.3 671.5,254.9 671.6,254 671.7,253.4 671.7,253.4 671.8,253.2 671.9,252.6 672.1,253.5 672.2,253.1 672.3,253.5 672.5,253.9 672.6,254.7 672.7,255 672.8,255.3 673,255.7 673.1,256.7 673.2,257 673.3,257.7 673.4,259.2 673.6,260.3 673.7,261.1 673.8,260.9 673.9,262.5 674,263.3 674.1,264.1 674.2,264.4 674.3,265.2 674.3,266.1 674.4,265.8 674.5,266.5 674.7,267.2 674.9,268.7 675,269 675.1,270.1 675.1,269.7 675.2,271.2 675.3,271 675.3,271.2" fill="none" stroke="#505050" stroke-width="1.3" stroke-linejoin="round" stroke-linecap="round" opacity="1.0" /><polyline points="379,205 379.4,206.4 379.9,207.8 380.3,209.4 380.5,210.9 380.8,212.7 381,215 381.1,216.5 381.2,217.8 381.3,219.2 381.4,220.6 381.5,222.2 381.6,223.8 381.7,225.5 381.8,227.2 381.9,229 382,230.2 382,231.4 382.1,232.7 382.2,233.9 382.2,235.1 382.3,236.4 382.4,237.6 382.4,238.9 382.5,240.1 382.6,241.3 382.6,242.6 382.7,243.8 382.8,245.5 382.9,247.3 382.9,248.9 383,250.6 383.1,251.8 383.1,253.1 383.2,254.5 383.3,255.9 383.3,257.4 383.4,258.9 383.4,260.4 383.5,262 383.5,263.6 383.6,265.1 383.6,266.7 383.7,268.2 383.7,269.7 383.8,271.1 383.8,272.5 383.9,273.9 383.9,275.2 384,276.4 384.1,278 384.1,279.4 384.2,280.9 384.4,282.1 384.6,280.8 384.7,279.5 384.8,278 384.8,276.6 384.9,275.1 384.9,273.4 385,271.6 385,270.4 385,269.1 385.1,267.8 385.1,266.4 385.1,265 385.2,263.6 385.2,262.2 385.2,260.8 385.3,259.3 385.3,257.8 385.3,256.4 385.4,254.9 385.4,253.5 385.4,252 385.5,250.6 385.5,249.2 385.5,247.8 385.6,246.5 385.6,245.2 385.6,243.9 385.7,242.7 385.7,240.9 385.8,239.3 385.9,237.8 385.9,236.5 386,234.6 386.1,233.5 386.2,232 386.3,231 386.4,230 386.5,229.9 386.6,228.1 386.7,228.6 386.8,226.5 386.9,226.9 387,226.7 387.1,225.9 387.2,227.3 387.4,225.9 387.5,227 387.6,227.2 387.7,225.1 387.9,226.5 388,225.8 388.2,224.8 388.4,222.4 388.7,223 388.9,222.9 389.1,221.4 389.4,220.7 389.6,220.5 389.9,219.9 390.2,220.9 390.4,219.3 390.7,219.1 391,219.4 391.5,219.7 392,217.5 392.6,216.4 393.1,218.7 393.7,218.2 394.3,218.1 395,217.6 395.4,217 395.7,217 396.1,217.7 396.5,218.5 397,217.8 397.4,220 397.8,220.5 398.2,219 398.7,221.8 399,221.3 399.4,222.9 399.8,222.1 400.1,223.4 400.4,222.9 400.8,223.9 401.1,224.1 401.4,223.2 401.6,224 401.8,224.7 402,225.7 402.3,226.2 402.6,227.4 402.8,228.2 403,228 403.2,228.4 403.4,229.5 403.6,231.4 403.8,231.6 404,231.9 404.3,233 404.5,232.1 404.7,232.4 404.9,233 405.1,233.6 405.3,233.8 405.5,235.8 405.7,236.9 405.9,235 406.2,236.5 406.5,236.8 406.7,235.7 406.9,233.2 407.2,233.6 407.4,231.8 407.7,231 408,230.4 408.3,231.8 408.7,233.1 409.1,231.3 409.4,231.8 409.8,233 410.2,232.7 410.6,234.5 411,235.9 411.3,235.9 411.5,235.2 411.6,235.7 411.8,236.8 411.9,238.7 412,240.1 412.2,239.7 412.3,239.4 412.4,240.4 412.5,241.6 412.7,241.5 412.8,242.1 412.9,243.5 413,245 413.2,243.7 413.3,245.7 413.5,245.7 413.7,244.5 413.9,243.7 414,243.3 414.2,244.2 414.4,244.1 414.6,243.6 414.8,241.3 415,241.2 415.2,239.4 415.4,239.4 415.7,238.7 415.9,237.5 416.1,236.7 416.3,238.5 416.5,236 416.7,236 416.9,235.5 417.1,234.7 417.4,234.4 417.6,233.5 417.8,232.8 418.1,231 418.3,231.9 418.5,231.3 418.8,230.9 419,229.3 419.2,229.2 419.4,229.8 419.6,229.3 419.8,227.3 420,228 420.2,227.6 420.4,229.3 420.5,228.9 420.7,229.5 420.8,229.6 421,231 421.1,232.5 421.3,233 421.4,232.6 421.5,233.8 421.7,235.1 421.8,234.1 421.9,236.8 422.1,234.7 422.5,236.5 422.9,234.7 423.3,236.1 423.8,234.6 424.3,233.1 424.7,234 425.1,235.4 425.6,236 426.1,236 426.6,236.4 427.1,236.9 427.6,237.1 427.8,235.8 428.1,235.7 428.3,235.8 428.6,234.5 428.9,233.1 429.1,233.5 429.4,232.2 429.7,232.5 430,231.9 430.2,231.7 430.5,228.9 430.8,228 431,229.9 431.3,228.9 431.5,229.2 431.7,228.4 431.9,228.5 432.3,226.2 432.6,226.5 432.9,228.2 433.1,229.3 433.4,228.3 433.7,231.2 434.1,229.9 434.5,230.1 434.9,231.1 435.4,230.7 435.9,230.7 436.4,230.9 436.9,231.1 437.4,231.9 437.9,233.7 438.4,234.6 438.7,234.9 439,234.3 439.3,235.5 439.6,234.2 439.9,236.6 440.3,235.8 440.6,235.4 440.9,236.6 441.2,236.5 441.5,238.5 441.8,238.1 442.1,237.8 442.3,239 442.6,239.4 442.8,242.6 442.9,241.6 443,243 443.1,242.9 443.2,242.8 443.2,244.1 443.3,244.1 443.4,243.2 443.5,246.3 443.5,245 443.6,246.4 443.7,246.3 443.7,248.3 443.8,246.7 443.9,246.9 443.9,247.4 444,249 444.1,250.7 444.1,250.2 444.2,252.1 444.2,250.6 444.3,253.4 444.3,251.8 444.4,254.4 444.4,253.1 444.5,254.8 444.5,255.5 444.6,257 444.7,256.1 444.7,257.9 444.8,256.4 444.8,259.3 444.9,258.8 444.9,259.5 445,261.3 445.1,261.6 445.3,263.3 445.4,264.6 445.4,265.8 445.5,267.1 445.6,268.4 445.7,269.7 445.7,271 445.8,272.3 445.9,273.6 446,274.8 446.1,276.5 446.3,278.1 446.5,279.6 446.7,280.8 447,282 448.9,282.7 450.6,280.9 452,279.6 453.8,279.1 455.8,279.8 457.3,281.1 458.9,281.8 460.6,282 462.4,282.1 464.3,281 465.6,279.4 466.9,278 468.3,276.5 470.2,277.2 471.2,278.9 472.2,280.3 474.1,281.7 476.2,282.1 477.9,281.8 479.6,281.6 481.5,280.1 482.2,278.8 483.3,277.3 485.1,277.7 486.6,279.2 487.8,280.5 489,281.7 491.2,282.1 492.9,281.9 494.6,281.5 496.6,280.5 498.5,279.1 499.7,277.7 501.5,276.6 503.3,276.9 504.8,278.5 505.8,280.2 506.7,281.4 508.4,281.8 510.2,281.8 511.9,281.9 513.6,282 515.4,282 517.1,282 519.1,281 520.3,279.6 521.6,278.3 523.5,277 525.2,277 526.9,278 528.1,279.2 529.3,280.7 531.5,281.8 533.2,282.1 534.9,282 536.7,282 538.4,281.9 540.1,281.3 542,279.7 543.1,278.1 545.1,277.4 546.6,278.6 548.3,280.2 549.9,281.7 551.6,282 553.4,282 555.1,282 556.8,282 558.6,281.8 560.2,280.3 562,278.8 563.7,278.1 565.8,278.9 567.8,280.3 569.5,281 571.2,281.6 573,282 574.7,281.7 576.7,280.4 577.9,279 579.9,277.7 581.6,277.5 583.2,279.2 584.5,280.5 586.2,281.6 587.9,282.1 589.7,282.1 591.7,280.9 593.7,279.6 595.4,279.5 597.4,278.5 599.5,277.4 601.2,277 603,278.4 604.2,280.1 606.4,280.7 608.1,280.9 609.8,281.8 611.6,282.1 613.3,282 615,281.9 616.7,281.5 618.5,281 620.5,279.7 622.4,278.1 623.8,276.7 625.4,277.1 626.4,278.7 627.4,280.3 629.4,281.4 631.1,281.7 632.9,282 634.6,282.1 636.3,281.9 638,281.5 640,280.1 641.3,278.6 643.2,277.6 645,278 646.7,278.7 648.3,279.6 650.2,281.2 651.9,281.8 653.6,282 655.3,282.1 657.1,281.9 658.8,281.6 660.8,280.6 662.8,279.5 664.5,279 666.3,279.2 668,279.9 669.9,281.4 672.2,282.1 673.8,282" fill="none" stroke="#747474" stroke-width="1.3" stroke-linejoin="round" stroke-linecap="round" opacity="1.0" /><polyline points="379,215 379.1,216.2 379.3,217.7 379.5,219 379.7,220.4 379.8,221.9 380,223.5 380.2,225.1 380.5,226.9 380.7,228.7 380.8,229.9 381,231.1 381.1,232.4 381.3,233.6 381.4,234.9 381.6,236.2 381.7,237.5 381.9,238.7 382,240 382.2,241.3 382.3,242.5 382.4,243.7 382.5,244.9 382.7,246.7 382.9,248.4 383,250 383.1,251.2 383.2,252.5 383.3,253.9 383.3,255.3 383.4,256.8 383.5,258.3 383.5,259.9 383.6,261.5 383.7,263.1 383.7,264.7 383.8,266.3 383.8,267.9 383.8,269.5 383.9,271 383.9,272.5 384,273.9 384,275.2 384,276.5 384.1,278.2 384.2,279.7 384.2,281.2 384.4,282.5 384.6,281.1 384.6,279.8 384.7,278.3 384.7,277.1 384.8,275.7 384.8,274.2 384.8,272.6 384.9,270.9 384.9,269.7 384.9,268.4 384.9,267.2 384.9,265.9 385,264.5 385,263.2 385,261.8 385,260.4 385,258.9 385.1,257.5 385.1,256.1 385.1,254.6 385.1,253.1 385.2,251.7 385.2,250.2 385.2,248.8 385.2,247.3 385.3,245.9 385.3,244.5 385.3,243.1 385.3,241.7 385.4,240.3 385.4,239 385.4,237.7 385.5,236.4 385.5,235.2 385.6,233.4 385.6,231.8 385.7,230.2 385.8,228.8 385.8,227.5 385.9,226 386,226.3 386.3,221 386.7,221.3 387.1,219 387.6,221.1 388,218.9 388.5,221.8 389,221.9 389.5,222.9 390,223.3 390.5,221.2 391,221.4 391.6,222.4 392.1,221.2 392.7,221.2 393.3,221.2 393.8,222.9 394.4,223 395,222.7 395.5,221 396.1,222.5 396.7,220.9 397.3,219.6 397.9,219.7 398.5,219.3 399,218.2 399.6,219.6 400,219.5 400.4,221 400.5,222.3 400.6,221.8 400.6,221.6 400.7,223.2 400.8,224 400.8,223.2 400.9,224.9 400.9,223 401,223.9 401,224.6 401.1,227.3 401.1,227.3 401.2,228.1 401.2,227.6 401.3,228.9 401.3,230.7 401.3,229.3 401.4,230.1 401.4,230.7 401.4,232.6 401.4,234.3 401.5,234.3 401.5,234.6 401.5,235.6 401.5,235.5 401.6,238.3 401.6,237.4 401.6,237.7 401.6,238.6 401.7,240.6 401.7,239.8 401.7,242 401.8,241 401.8,241.8 401.8,241.3 401.8,244 401.9,244.1 401.9,243.6 401.9,242.9 402,244.2 402,244.1 402.1,245.5 402.1,245.9 402.2,245.4 402.2,244.1 402.3,243.3 402.3,245.4 402.4,245.2 402.5,242.6 402.5,243.1 402.6,242.4 402.7,243.2 402.7,240 402.8,239.3 402.9,240.7 402.9,239.2 403,238.1 403.1,238.1 403.1,236.8 403.2,236.2 403.3,234.2 403.3,232.9 403.4,231.9 403.5,232 403.5,232.1 403.6,230.6 403.7,229.9 403.7,230 403.8,229.6 403.9,228.8 404,227.6 404,228.6 404.1,228.3 404.2,228.4 404.4,228.2 404.5,225.9 404.7,227.9 404.8,227.5 405,228.2 405.1,229.2 405.3,228.9 405.5,230 405.6,232.9 405.8,231.9 406,234.3 406.2,234.5 406.3,234.2 406.5,234.8 406.7,236 406.9,236.5 407.3,235.7 407.8,234.5 408.3,234.1 408.8,235.2 409.3,234.2 409.8,232.3 410.2,234.7 410.3,234.3 410.4,234 410.5,235.9 410.6,234.3 410.7,234.7 410.8,236 410.9,237.7 410.9,237.8 411,238.3 411.1,240.2 411.2,239.5 411.2,241.3 411.3,239.9 411.4,242.7 411.5,241.7 411.6,243.7 411.6,244.8 411.7,244.9 411.8,245.3 411.9,245.7 412,246.7 412.1,246 412.3,246 412.4,247.1 412.7,247.2 413.1,246.2 413.5,247.1 413.9,246.6 414.3,245.3 414.8,246.3 415.2,245.8 415.6,244 416,244.7 416.4,244.4 416.7,242.9 416.9,241.8 417.1,240.8 417.3,239.7 417.5,239.4 417.6,240.6 417.7,237.3 417.9,238.8 418,237.5 418.1,237.1 418.3,234.7 418.4,235.7 418.6,234.2 418.7,235.3 418.9,235.7 419,235.6 419.1,235.4 419.3,236.7 419.4,235.3 419.5,235.6 419.7,238 419.8,236.4 419.9,238 420.1,238.7 420.2,240.6 420.4,239.9 420.5,241.2 420.7,241.7 420.8,242.4 421,243.1 421.1,243.7 421.3,244.7 421.4,244.9 421.6,245.4 421.8,247.3 421.9,247.8 422.1,246.2 422.6,248.9 423.1,247.2 423.7,248.6 424.2,250.6 424.8,248.9 425.4,250.2 425.9,250.9 426.5,249.3 426.7,248.6 426.9,247.1 427,247.8 427.2,247.4 427.4,247.7 427.6,246 427.8,246.5 428,244.7 428.2,244.6 428.3,244.3 428.5,241.9 428.7,243.3 428.9,241.2 429.1,240.6 429.3,241.2 429.4,239.5 429.6,238.7 429.8,237.3 430,236.8 430.1,237.8 430.3,236.7 430.5,236.8 430.6,236.7 430.8,236.5 431,235.5 431.3,237.1 431.5,236.4 431.7,236.1 431.9,238.6 432.1,239.4 432.3,238 432.5,240.9 432.6,241.2 432.8,240.9 433,242.5 433.2,244.1 433.4,242.7 433.6,244.6 433.9,243.8 434.1,243.8 434.4,245.9 434.8,245.8 435.1,244.5 435.5,244.3 435.9,242.5 436.2,241.9 436.6,241.7 437,241.5 437.4,240.6 437.7,239.5 438.1,239.7 438.4,239 438.7,240.3 438.9,240.6 439.1,240.6 439.4,239.7 439.6,240.3 439.8,242.3 440.1,241.2 440.3,242.5 440.5,241.6 440.7,242.3 440.9,243.3 441.1,245.2 441.3,244.7 441.5,246.6 441.7,245.7 441.8,247.8 441.9,248.3 442,247.6 442.1,248 442.2,248.5 442.3,249.6 442.3,249.3 442.4,250 442.5,252 442.6,252.9 442.7,251.4 442.8,252.9 442.8,253.8 442.9,255.2 443,254.7 443.1,255.2 443.1,256.5 443.2,257.1 443.3,257.5 443.4,257.9 443.5,259 443.5,257.6 443.6,260.2 443.7,259.3 443.8,260.3 443.9,261.1 444,262.1 444.1,262.7 444.1,263.3 444.2,263.1 444.3,263.7 444.4,265.1 444.4,266.4 444.5,265.6 444.6,265.2 444.7,268.1 444.7,268.8 444.8,269.3 444.9,269.4 444.9,269.5 445.1,271 445.3,272.3 445.4,273.5 445.6,274.8 445.7,276 446,277.7 446.3,279.3 446.6,280.6 447,282 448,283.4 449.8,283.4 451.5,282.6 453.4,282.5 455.1,282.4 457,282.2 458.7,281.5 460.1,280.2 462.1,279.1 464,279.5 465.9,279.7 467.7,279.9 469.8,281.3 471.5,282.2 473.4,282.5 475.3,282.6 477.2,282.5 479.3,281.3 481.4,279.8 483.5,278.5 485.6,279 487.7,280.1 489.8,281.5 491.9,282.3 493.6,282.6 495.5,282.5 497.4,282.5 499.2,282.5 501.1,282.1 502.9,281.6 505,280.5 506.8,280.1 508.7,280.2 510.6,280.2 512.4,280.6 514.5,282.1 516.3,282.6 518.1,282.5 520.2,281.8 522.2,280.6 523.5,279.3 525.7,278.5 527.6,278.8 529.4,280.1 531.3,281.4 533.4,282.3 535.2,282.6 537,282.5 538.9,282.5 540.6,281.9 542,280.6 544,279.4 545.9,279.7 547.8,279.6 549.6,279.4 551.4,280.9 553.4,282.3 555.3,282.5 557.2,282.6 559.1,282.5 561,282.3 562.9,282 564.8,281.8 566.7,280.3 568.1,279 569.8,278.4 571.7,278.5 573.8,279.8 575.5,280.4 577.4,279.9 579.3,281 581.1,282.4 583,282.7 584.8,282.4 586.9,281.4 588.8,279.9 590.6,278.6 592.5,278.9 594.2,279.9 595.5,281.2 597.5,282.5 599.4,282.5 601.3,282.5 603.2,282.3 605.1,282 606.8,281.3 608.1,280 610,279.2 612.1,280.4 613.9,281.1 615.8,281.5 617.7,282.1 619.6,282.5 621.5,282.5 623.4,282.5 625.2,282.3 627.3,281.2 629.3,279.7 631.1,278.3 632.8,278 634.7,278.6 636.8,279.7 638.9,281 641,282.2 642.9,282.5 644.8,282.5 646.7,282.4 648.6,281.2 650.4,279.9 652.3,279.3 654,279.6 655.8,281.1 658,282.2 659.9,282.5 661.8,282.5 663.7,282.5 665.6,282.5 667.2,282.1 669.3,281.2 670.7,279.7 672,278.3 674,279 675.4,280.4 675.6,280.6" fill="none" stroke="#9c9c9c" stroke-width="1.3" stroke-linejoin="round" stroke-linecap="round" opacity="1.0" /><polyline points="378.3,238.4 378.7,239.9 379.2,241.5 379.7,243 380,244.2 380.3,245.6 380.6,247.2 380.9,249 381.1,250.4 381.2,251.7 381.4,253.3 381.5,255.1 381.7,256.4 381.8,257.7 381.9,259.1 382,260.5 382.1,261.9 382.2,263.4 382.4,264.9 382.5,266.4 382.6,267.8 382.7,269.3 382.8,270.7 382.9,272.1 383.1,273.4 383.2,274.7 383.4,276.4 383.5,278 383.7,279.3 383.9,280.6 384.7,279.4 384.8,277.8 385,276 385.1,274.7 385.1,273.2 385.2,271.8 385.3,270.2 385.4,268.7 385.5,267.1 385.6,265.5 385.6,264 385.7,262.5 385.8,261.1 385.9,259.7 386,257.5 386.1,258.5 386.1,257.8 386.2,258.1 386.2,255.8 386.3,255.3 386.3,256.2 386.4,255.7 386.4,254.4 386.5,255.2 386.8,253.6 387.1,254.4 387.4,252.8 387.8,253.6 388.1,256.2 388.5,255.6 388.8,256.4 389.2,258.8 389.6,259.1 390,258.5 390.4,260 390.8,260.7 391.2,259.8 391.6,261.5 392.1,260.5 392.5,261.5 392.9,261.3 393.4,262 393.8,264.5 394.3,263.4 394.7,265.3 395.2,264.2 395.7,265 396.2,266.1 396.7,265.9 397.2,264.7 397.7,266.3 398.2,266.8 398.6,265.9 399,266.1 399.4,268.6 399.7,268.1 399.9,267.8 400.2,269.1 400.4,269.1 400.5,271.4 400.7,271.2 400.9,270.7 401.1,273.2 401.2,271.7 401.5,272.6 401.7,272.1 402.1,274.1 402.5,272.1 403,272.7 403.5,270.9 404,271.4 404.6,271.6 405.2,271.1 405.6,271 406.1,271.2 406.5,271.3 407,272.1 407.6,271 408.1,272.4 408.6,272.2 409.2,274.3 409.7,274.8 410.1,272.8 410.6,273.4 411,275.1 411.6,275.2 412.2,274.2 412.7,276.4 413.1,277.5 413.6,276.4 414,276.4 414.5,277.1 415,278 415.5,275.9 415.9,275.6 416.4,274.9 416.9,275.7 417.4,275 418,274.4 418.4,275 418.8,274.3 419.3,275.4 419.7,277.6 420.2,277 420.7,276.6 421.2,278.9 421.7,277.7 422.2,277.7 422.7,277.3 423.2,277.8 423.8,278 424.4,278.1 425,279.8 425.7,278.1 426.3,278 426.9,278.8 427.5,279.5 428.1,277.7 428.6,278.8 429.2,277.5 429.7,277.8 430.2,277.6 430.7,278.2 431.2,277.3 431.7,276.3 432.2,276.9 432.7,275.5 433.2,275.4 433.8,276.9 434.4,275.9 435,276.6 435.6,275.6 436.2,277.4 436.8,276.8 437.4,276 437.9,278.1 438.5,277 439.1,276.8 439.6,276.7 440.2,276.4 440.8,276.9 441.4,278.6 441.8,277.4 442.2,278.1 442.6,279 443,279.6 443.5,279.6 443.9,281.2 444.3,280.2 444.8,280.9 446.7,282.4 448.6,282.8 450.3,282.8 451.4,281.5 453.3,281.3 455,281.7 456.8,282.2 458.6,282.4 460.4,282.4 462.2,282.4 464,282.4 465.8,282.5 467.6,282.5 469.4,282.4 471.2,282.2 473,281.9 474.8,281.6 476.6,281.2 478.4,280.9 480.2,280.8 482,280.8 483.8,280.8 485.6,280.7 487.4,280.4 489.2,280.2 491,280.1 492.8,280.2 494.6,280.3 496.4,280.4 498.2,280.5 500,280.6 501.8,280.9 503.6,281.2 505.4,281.5 507.2,281.8 509,282.1 510.8,282.4 512.6,282.5 514.4,282.6 516.2,282.5 518,282.5 519.8,282.5 521.6,282.3 523.3,281.9 524.9,281.2 526.5,280.6 528.2,280.3 530,280.4 531.8,280.6 533.6,280.8 535.4,280.8 537.2,280.8 539,280.9 540.8,281.1 542.6,281.4 544.4,281.6 546.2,281.9 548,282.2 549.8,282.4 551.6,282.4 553.4,282.5 555.2,282.5 557,282.5 558.8,282.5 560.6,282.3 562.4,282.1 564.2,281.8 566,281.6 567.8,281.5 569.6,281.5 571.3,281.3 573,280.8 574.6,280.3 576.2,280.1 577.8,280.4 579.4,281 581.1,281.6 582.8,281.9 584.6,282.2 586.4,282.3 588.2,282.4 590,282.4 591.8,282.4 593.6,282.3 595.4,282.3 597.2,282.2 599,282.1 600.8,281.8 602.6,281.5 604.4,281.3 606.2,281 608,280.7 609.8,280.5 611.6,280.3 613.4,280.2 615.2,280.3 617,280.6 618.8,280.9 620.6,281.2 622.4,281.3 624.2,281.5 626,281.7 627.8,281.9 629.6,282 631.4,282 633.2,282 635,281.9 636.7,281.6 638.3,281.2 639.9,280.6 641.5,280.1 643.2,279.4 644.8,278.6 646.4,278 648.2,277.5 650,277.1 651.8,277.1 653.4,277.3 655,277.9 656.7,278.5 658.3,279 659.9,279.6 661.5,280.1 663.2,280.3 665,280.2 666.8,280 668.6,279.9 670.7,280 672.6,280.2 673.4,280.3" fill="none" stroke="#bdbdbd" stroke-width="1.3" stroke-linejoin="round" stroke-linecap="round" opacity="1.0" /><polyline points="378.3,239.6 378.7,241.1 379.2,242.7 379.7,244.2 380,245.4 380.3,246.8 380.6,248.4 380.9,250.2 381.1,251.6 381.2,252.9 381.4,254.5 381.5,256.3 381.7,257.6 381.8,258.9 381.9,260.3 382,261.7 382.1,263.1 382.2,264.6 382.4,266.1 382.5,267.6 382.6,269 382.7,270.5 382.8,271.9 382.9,273.3 383.1,274.6 383.2,275.9 383.4,277.6 383.5,279.2 383.7,280.5 383.9,281.8 384.7,280.6 384.8,279 385,277.2 385.1,275.9 385.1,274.4 385.2,273 385.3,271.4 385.4,269.9 385.5,268.3 385.6,266.7 385.6,265.2 385.7,263.7 385.8,262.3 385.9,260.9 386,259.1 386.1,259.6 386.1,259.1 386.2,259 386.2,256.8 386.3,256.5 386.3,255.8 386.4,255.7 386.4,256.8 386.5,254.9 386.8,255.2 387.1,254 387.4,254.4 387.8,255.3 388.1,257.2 388.5,257.5 388.8,256.9 389.2,258.6 389.6,259 390,261.6 390.4,261.9 390.8,262.3 391.2,262.8 391.6,263 392.1,264 392.5,264 392.9,262.9 393.4,265 393.8,264.4 394.3,265.5 394.7,265.4 395.2,265.4 395.7,265.6 396.2,266.1 396.7,266.1 397.2,265.9 397.7,268.1 398.2,268.4 398.6,269.3 399,268.9 399.4,268.9 399.7,269.9 399.9,268.8 400.2,270.9 400.4,270.9 400.5,270.9 400.7,271.6 400.9,273.1 401.1,272.9 401.2,273.9 401.5,274.7 401.7,274.3 402.1,273.6 402.5,274.3 403,273.1 403.5,272.5 404,271.9 404.6,271.9 405.2,271 405.6,272.7 406.1,273.7 406.5,272.4 407,273.6 407.6,274.5 408.1,272.5 408.6,273.1 409.2,275.3 409.7,275.8 410.1,275.6 410.6,274.6 411,275.6 411.6,277.2 412.2,277.7 412.7,277.9 413.1,276.7 413.6,278.7 414,277.7 414.5,278.7 415,277 415.5,279 415.9,277.6 416.4,277.5 416.9,275.8 417.4,276.6 418,276.5 418.4,276.7 418.8,276.3 419.3,277.7 419.7,277.1 420.2,277.4 420.7,277.5 421.2,279.4 421.7,278.2 422.2,278.8 422.7,278.6 423.2,280.3 423.8,280.1 424.4,280.1 425,278.7 425.7,279.8 426.3,279.4 426.9,278.6 427.5,278.2 428.1,280.8 428.6,278.3 429.2,278.6 429.7,278.2 430.2,278.8 430.7,277 431.2,277.7 431.7,277.1 432.2,278.1 432.7,275.7 433.2,276.5 433.8,276.9 434.4,278.2 435,277.1 435.6,277.2 436.2,277.9 436.8,277.2 437.4,276.7 437.9,278.1 438.5,279.4 439.1,279 439.6,277.9 440.2,279.2 440.8,279.9 441.4,278.6 441.8,279.8 442.2,279.5 442.6,279.6 443,280.2 443.5,280.4 443.9,281.2 444.3,280.8 444.8,282.2 446.7,283.6 448.6,284 450.3,283.9 452,283.2 453.9,283 455.8,282.9 457.7,282.8 459.4,282.6 461.2,282.4 462.9,282.2 464.6,282 466.3,281.9 468,281.9 469.8,281.8 471.5,281.8 473.2,281.7 474.9,281.6 476.6,281.5 478.3,281.6 480.1,281.8 481.8,282 483.5,282.1 485.2,282.1 486.9,282.1 488.7,282 490.4,282.1 492.1,282.4 493.8,282.8 495.5,283 497.2,283.1 499,283.1 500.7,283 502.4,282.9 504.1,282.7 505.8,282.5 507.6,282.2 509.3,282.1 511,282.2 512.7,282.3 514.4,282.3 516.1,282.3 517.9,282.3 519.6,282.2 521.3,282.1 523,282.1 524.7,282.1 526.5,282.1 528.2,282.1 529.9,282.1 531.6,282.1 533.3,282.1 535,282.1 536.8,282.2 538.5,282.4 540.2,282.5 541.9,282.7 543.6,282.9 545.4,283.1 547.1,283.2 548.8,283.2 550.5,283.2 552.2,283.1 553.9,283 555.7,283 557.4,282.9 559.1,282.7 560.8,282.3 562.5,281.8 564.3,281.4 566,281.2 567.7,281.3 569.4,281.6 571.1,281.8 572.8,282.1 574.6,282.3 576.3,282.5 578,282.7 579.7,282.8 581.4,282.9 583.2,283 584.9,283.1 586.6,283.1 588.3,283.2 590,283.2 591.7,283 593.5,282.9 595.2,282.6 596.9,282.4 598.6,282.1 600.3,281.7 602.1,281.4 603.8,281.4 605.5,281.5 607.2,281.7 608.9,282 610.6,282.1 612.4,282.3 614.1,282.4 615.8,282.6 617.5,282.8 619.2,283 621,283.1 622.7,283.2 624.4,283.2 626.1,283.2 627.8,283.1 629.5,283 631.3,282.8 633,282.6 634.7,282.5 636.4,282.4 638.1,282.3 639.9,282.3 641.6,282.1 643.3,281.9 645,281.7 646.7,281.5 648.4,281.6 650.2,281.7 651.9,282 653.6,282.2 655.3,282.3 657,282.4 658.8,282.5 660.5,282.6 662.2,282.7 663.9,282.9 665.6,283.1 667.4,283.1 669.4,283.2 671.2,283.2 672.5,283.1" fill="none" stroke="#dcdcdc" stroke-width="1.3" stroke-linejoin="round" stroke-linecap="round" opacity="1.0" /></g><clipPath id="cb"><rect x="71.8" y="287.9" width="603.4" height="210"/></clipPath><g clip-path="url(#cb)"><polyline points="71.5,295.3 73.3,294.2 75,293.2 77.1,292.3 79,291.8 80.8,291.6 83,291.5 84.6,291.5 86.6,291.5 88.4,291.5 90.4,291.5 92.4,291.6 94.3,291.6 96,291.7 97.7,291.8 99.2,293.3 101,292.7 103.6,292.6 105.5,292.7 107.3,292.8 109.4,292.9 111.1,293 112.9,293.1 114.7,293.2 116.6,293.3 118.4,293.4 120.3,293.5 122.2,293.6 124,293.7 125.7,293.9 127.4,293.9 129,294 130.8,294.1 132.5,294.2 134.2,294.3 135.9,294.4 137.5,294.5 139.1,294.5 141.2,294.6 143.3,294.7 145,294.8 146.6,294.9 148.2,295 149.9,295 151.6,295.1 153.3,295.2 155.1,295.3 156.8,295.3 158.6,295.4 160.3,295.5 162.1,295.5 163.8,295.6 165.4,295.7 167.5,295.8 169.5,295.9 171.4,296 173.4,296.1 175.3,296.2 177.1,296.3 178.9,296.4 180.5,296.5 182.5,296.7 184.2,296.9 186.3,297.4 188.2,298.5 190.2,299 191.3,297.8 193.4,297.4 195,297.4 197.1,297.5 198.9,297.6 200.8,297.7 202.8,297.9 204.8,298 206.7,298.2 208.5,298.4 210.2,298.5 211.9,298.7 214.2,299.3 215.4,300.6 217.1,300.9 218.8,300.9 220.7,300.7 222.4,300.6 224.2,300.4 226.2,300.3 228.4,300.2 230.3,300.2 232,300.2 233.7,300.2 235.6,300.2 237.5,300.2 239.4,300.3 241.3,300.3 243.1,300.3 244.8,300.4 246.8,300.5 248.5,300.6 250.1,300.7 252.1,300.9 253.5,302.5 254.2,304 254.6,305.2 255,306.5 255.4,307.7 255.9,309.1 257.7,308.7 258.8,310.4 259.1,311.8 259.5,313.2 259.8,314.7 260.2,316 260.9,317.2 262.6,316.7 263.8,315.3 265,313.5 266.1,311.9 267.1,310.5 268.1,309 269,307.6 270.5,306.1 272.3,305.4 274.2,305.3 276.4,305.4 278.2,305.5 280.1,305.7 281.7,305.9 283.4,306.3 285.3,307.6 286.9,307.7 288.8,306.7 290.7,306.3 292.5,306 294.2,305.8 295.9,305.5 297.8,305.3 299.7,305.1 301.6,304.9 303.4,304.8 305.1,304.7 306.8,304.5 308.6,304.4 310.4,304.3 312.2,304.2 313.9,304.2 315.5,304.2 317.5,304.5 319.6,305.1 321.6,306.2 323.4,307.6 325,309.1 326.1,310.4 327.1,311.7 328,313 328.8,314.4 329.6,316 330.2,317.7 330.6,318.9 331,320.5 331.4,322 331.7,323.6 331.9,325.2 332.2,326.9 332.4,328.7 332.5,329.9 332.7,331.1 332.8,332.4 332.9,333.6 333.1,335.3 333.3,336.9 333.4,338.6 333.6,340.3 333.7,342.1 333.8,343.9 333.9,345.6 334.1,347.4 334.2,349.1 334.3,350.7 334.5,352.3 334.6,353.7 334.7,355.2 334.8,356.6 334.9,358.1 335,359.6 335.1,360.9 335.2,362.2 335.4,363.8 335.7,365.2 336.5,363.6 336.8,361.9 337,360.6 337.1,359.1 337.3,357.6 337.5,356.2 337.7,354.7 337.9,353.4 338.1,351.7 338.3,350.4 338.4,349.1 338.6,347.7 338.7,346.4 338.8,345.1 339,343.4 339.2,342 339.5,340.7 340.8,342.7 342.7,342.6 343.5,341.4 344.3,340.2 346.1,339.6 347.4,341.3 348.3,343.1 349,344.4 349.6,346 350.1,347.3 350.5,348.8 350.9,350.2 351.3,351.5 352,352.8 353.7,351.8 354.1,351.2 354.3,350.6 354.5,349.4 354.7,348.4 354.9,347.3 355.1,347.6 355.3,346.6 355.5,346.4 355.7,345.1 355.9,345 356.1,343.6 356.3,343.9 356.5,343.2 356.7,342.2 356.9,341.9 357.1,341.8 357.6,340.3 358,340.5 358.5,340.6 358.9,339.6 359.3,340.3 359.8,340 360.3,340 360.8,338.9 361.4,337.9 361.7,338.8 362,338.4 362.3,337.4 362.7,336.4 363,336.1 363.4,336.3 363.8,335.3 364.2,335.8 364.6,334.7 365,333.5 365.4,333.7 365.7,332.7 366.1,333.2 366.4,332.6 366.8,331.5 367.1,331.3 367.3,331 367.6,330.8 367.8,330.8 368,329" fill="none" stroke="#2f78bd" stroke-width="1.3" stroke-linejoin="round" stroke-linecap="round" opacity="1.0" /><polyline points="71.5,297.3 73.3,296.2 75,295.2 77.1,294.3 79,293.8 80.8,293.6 83,293.5 84.6,293.5 86.6,293.5 88.4,293.5 90.4,293.5 92.4,293.6 94.3,293.6 96,293.7 97.7,293.8 99.2,295.3 101,294.7 103.6,294.6 105.5,294.7 107.3,294.8 109.4,294.9 111.1,295.1 112.9,295.2 114.7,295.3 116.6,295.4 118.4,295.6 120.3,295.7 122.2,295.8 124,296 125.7,296.1 127.4,296.2 129,296.3 130.8,296.4 132.5,296.5 134.2,296.6 135.9,296.7 137.5,296.8 139.1,296.9 141.2,297 143.3,297.1 145,297.2 146.6,297.3 148.2,297.4 149.9,297.5 151.6,297.6 153.3,297.7 155.1,297.7 156.8,297.8 158.6,297.9 160.3,298 162.1,298.1 163.8,298.2 165.4,298.2 167.5,298.4 169.5,298.5 171.4,298.6 173.4,298.7 175.3,298.8 177.1,299 178.9,299.1 180.5,299.2 182.5,299.4 184.2,299.7 186.3,300.2 188.2,301.3 190.2,301.8 191.3,300.6 193.4,300.2 195,300.2 197.1,300.4 198.9,300.5 200.8,300.6 202.8,300.8 204.8,300.9 206.7,301.1 208.5,301.3 210.2,301.5 211.9,301.7 214.2,302.3 215.4,303.6 217.1,304 218.8,303.9 220.7,303.8 222.4,303.6 224.2,303.5 226.2,303.4 228.4,303.3 230.3,303.3 232,303.3 233.7,303.4 235.6,303.4 237.5,303.4 239.4,303.5 241.3,303.5 243.1,303.6 244.8,303.7 246.8,303.8 248.5,303.9 250.1,304 252.1,304.2 253.5,305.8 254.2,307.3 254.6,308.6 255,309.9 255.4,311.1 255.9,312.5 257.7,312.1 258.8,313.7 259.1,314.9 259.4,316.3 259.7,317.7 260.1,319 260.7,320.4 262.6,320.1 263.8,318.7 265,316.9 266.1,315.3 267.1,313.9 268.1,312.4 269,311 270.5,309.5 272.3,308.8 274.2,308.7 276.4,308.8 278.2,308.9 280.1,309.1 281.7,309.3 283.4,309.7 285.3,311 286.9,311.1 288.8,310.1 290.7,309.7 292.5,309.4 294.2,309.2 295.9,308.9 297.8,308.7 299.7,308.5 301.6,308.3 303.4,308.2 305.1,308.1 306.8,307.9 308.6,307.8 310.4,307.7 312.2,307.6 313.9,307.6 315.5,307.6 317.5,307.9 319.6,308.5 321.6,309.6 323.4,311 325,312.5 326.4,314.1 327.5,315.4 328.4,316.6 329.2,318 329.9,319.5 330.6,321.3 331.1,322.8 331.4,324.3 331.7,325.9 332,327.5 332.2,329.3 332.4,331.1 332.6,332.3 332.7,333.6 332.9,334.8 333,336.1 333.2,337.6 333.3,339.2 333.5,340.9 333.6,342.7 333.7,344.4 333.8,346.1 334,347.9 334.1,349.5 334.2,351.2 334.4,352.7 334.5,354.6 334.6,356 334.8,357.5 334.9,359 335,360.5 335.1,361.9 335.2,363.3 335.4,364.9 335.6,366.2 336.5,364.8 336.8,363 337,361.6 337.2,360.1 337.4,358.6 337.6,357.2 337.8,355.7 337.9,354.5 338.2,352.7 338.4,351.4 338.5,350 338.6,348.6 338.8,347.3 338.9,346 339.1,344.4 339.3,343.2 340.6,344.4 341.3,345.9 343.2,344.6 344.6,343 346.4,343.4 347.4,344.7 348.3,346.5 349,347.8 349.6,349.4 350.1,350.7 350.5,352.2 350.9,353.6 351.3,354.9 352,356.2 353.7,355.2 354.1,354.3 354.3,353.9 354.5,353.3 354.7,352.9 354.9,351.9 355.1,351.5 355.3,349.3 355.5,349.3 355.7,349.4 355.9,348.2 356.1,348 356.3,346.2 356.5,346.2 356.7,345.3 356.9,345.3 357.1,345 357.6,343.4 358,343.3 358.5,343.1 358.9,344 359.3,343.6 359.8,342.5 360.3,343.3 360.8,342 361.4,342.2 361.7,341.1 362,340.5 362.3,341.5 362.7,340 363,339.6 363.4,340.3 363.8,339.6 364.2,338.1 364.6,338.7 365,337.5 365.4,337.2 365.7,335.9 366.1,336.6 366.4,335.7 366.8,335.7 367.1,335.1 367.3,333.8 367.6,333.5 367.8,332.9 368,332.6" fill="none" stroke="#3a84c6" stroke-width="1.3" stroke-linejoin="round" stroke-linecap="round" opacity="1.0" /><polyline points="71.5,298.9 73.3,297.8 75,296.8 77.1,295.9 79,295.4 80.8,295.2 83,295.1 84.6,295.1 86.6,295.1 88.4,295.1 90.4,295.1 92.4,295.2 94.3,295.2 96,295.3 97.7,295.4 99.2,296.9 101,296.3 103.6,296.3 105.5,296.4 107.3,296.5 109.4,296.6 111.1,296.8 112.9,296.9 114.7,297 116.6,297.2 118.4,297.4 120.3,297.5 122.2,297.7 124,297.8 125.7,297.9 127.4,298.1 129,298.2 130.8,298.3 132.5,298.4 134.2,298.5 135.9,298.7 137.5,298.8 139.1,298.9 141.2,299 143.3,299.2 145,299.3 146.6,299.4 148.2,299.5 149.9,299.6 151.6,299.7 153.3,299.8 155.1,299.9 156.8,300 158.6,300.1 160.3,300.2 162.1,300.3 163.8,300.4 165.4,300.5 167.5,300.6 169.5,300.8 171.4,300.9 173.4,301.1 175.3,301.2 177.1,301.3 178.9,301.5 180.5,301.6 182.5,301.9 184.2,302.1 186.3,302.6 188.2,303.7 190.2,304.3 191.3,303.1 193.4,302.8 195,302.8 197.1,302.9 198.9,303.1 200.8,303.2 202.8,303.4 204.8,303.6 206.7,303.8 208.5,304 210.2,304.2 211.9,304.4 214.2,305.1 215.4,306.3 217.1,306.7 218.8,306.7 220.7,306.6 222.4,306.5 224.2,306.3 226.2,306.2 228.4,306.2 230.3,306.2 232,306.3 233.7,306.3 235.6,306.4 237.5,306.4 239.4,306.5 241.3,306.6 243.1,306.6 244.8,306.7 246.8,306.8 248.5,307 250.1,307.1 252.1,307.4 253.2,308.6 253.9,309.9 254.6,311.7 255,313 255.4,314.2 255.9,315.6 257.7,315.3 258.8,316.9 259.1,318.1 259.4,319.5 259.7,320.9 260.1,322.2 260.7,323.6 262.6,323.3 263.8,321.9 265,320.1 266.1,318.5 267.1,317.1 268.1,315.6 269,314.2 270.5,312.7 272.3,312 274.2,311.9 276.4,312 278.2,312.1 280.1,312.3 281.7,312.5 283.4,312.9 285.3,314.2 286.9,314.3 288.8,313.3 290.7,312.9 292.5,312.6 294.2,312.4 295.9,312.1 297.8,311.9 299.7,311.7 301.6,311.5 303.4,311.4 305.1,311.3 306.8,311.1 308.6,311 310.4,310.9 312.2,310.8 313.9,310.8 315.5,310.9 317.5,311.1 319.6,311.7 321.6,312.8 323.4,314.2 325,315.7 326.4,317.2 327.6,318.5 328.7,319.8 329.5,321.1 330.3,322.8 330.8,324.1 331.2,325.4 331.5,326.9 331.8,328.4 332,330.1 332.3,331.8 332.5,333.5 332.6,334.8 332.8,336 332.9,337.2 333.1,338.8 333.3,340.5 333.4,342.2 333.6,343.9 333.7,345.7 333.8,347.5 334,349.2 334.1,350.9 334.2,352.6 334.4,354.2 334.5,356 334.6,357.4 334.8,358.9 334.9,360.4 335,361.8 335.1,363.2 335.2,364.5 335.4,366.1 335.7,367.6 336.5,366 336.8,364.2 337,362.9 337.2,361.5 337.4,360 337.6,358.6 337.8,357.2 337.9,356 338.2,354.3 338.4,353 338.5,351.6 338.6,350.3 338.8,349 338.9,347.7 339.1,346.2 339.4,344.7 340.5,346 341,347.6 343,347.6 344.4,346.2 346.1,346.3 347.4,348 348.3,349.7 349,351 349.6,352.6 350.1,353.9 350.5,355.4 350.9,356.8 351.3,358.1 352,359.4 353.7,358.4 354.1,356.9 354.3,356 354.5,355.9 354.7,354.8 354.9,354 355.1,353.8 355.3,353.9 355.5,353 355.7,352.3 355.9,350.8 356.1,350.6 356.3,349.6 356.5,348.9 356.7,348.3 356.9,348 357.1,348.8 357.6,348 358,347.5 358.5,347.2 358.9,346 359.3,346.1 359.8,346.5 360.3,346.4 360.8,346.3 361.4,345.8 361.7,344.2 362,344.7 362.3,344.4 362.7,343.7 363,342.7 363.4,342.7 363.8,341.5 364.2,342.4 364.6,341.7 365,340.7 365.4,339.8 365.7,340.2 366.1,339.2 366.4,339.2 366.8,338.7 367.1,337.7 367.3,337.2 367.6,337.1 367.8,336.5 368,335.9" fill="none" stroke="#5b9bd2" stroke-width="1.3" stroke-linejoin="round" stroke-linecap="round" opacity="1.0" /><polyline points="71.5,300 73.2,299.1 75,298.3 77,297.6 79,297.1 81.1,296.8 83,296.6 85,296.6 86.8,296.7 88.6,296.8 90.5,297 92.2,297.1 94,297.2 96.1,297.4 98.4,297.6 100.1,297.6 101.9,297.7 103.9,297.8 105.5,297.9 107.2,297.9 109,298 110.7,298.1 112.5,298.1 114.3,298.2 116.2,298.3 118,298.4 119.8,298.4 121.5,298.5 123.2,298.6 124.9,298.7 126.9,298.9 129.1,299.1 131,299.2 132.8,299.4 134.5,299.6 136.2,299.8 137.8,300.1 139.9,300.4 141.9,300.7 144,301.1 146.1,301.5 147.7,301.8 149.3,302.1 150.9,302.4 152.6,302.8 154.2,303.2 155.9,303.6 157.5,304 159.2,304.4 160.8,304.8 162.5,305.2 164.1,305.7 165.7,306.1 167.3,306.5 169.5,307.1 171.1,307.5 172.8,307.9 174.4,308.3 176.5,308.9 178.6,309.4 180.7,309.9 182.9,310.5 184.5,310.9 186.2,311.4 187.9,311.8 189.7,312.3 191.6,312.8 193.5,313.4 195.4,313.9 197.4,314.4 199.3,315 201.4,315.6 203.5,316.2 205.1,316.6 206.8,317.1 208.6,317.5 210.5,318 212.4,318.5 214.2,318.9 216.2,319.3 218.2,319.8 219.9,320.1 221.6,320.5 223.4,320.8 225.2,321.2 227.1,321.5 229,321.9 230.9,322.3 232.8,322.6 234.7,323 236.5,323.4 238.4,323.7 240.1,324.1 241.9,324.5 243.5,324.8 245.6,325.3 247.6,325.7 249.3,326.2 251.2,326.7 253.2,327.4 255.1,328.4 256,329.7 255.8,331 255.8,332.3 256.8,333.6 257.8,335.2 258.9,336.8 260,338 261.6,338.6 263.5,337.6 265.1,336.4 266.6,335.1 268.6,334 270.6,333.3 272.3,333.2 274.2,333.5 276,334.1 278,335 280.1,335.8 282.1,336.4 284.5,336.9 286.3,337.2 288.1,337.5 290.1,337.7 291.7,337.9 293.5,338 295.3,338.2 297.2,338.3 299.1,338.5 301,338.7 302.9,338.8 304.8,339 306.7,339.2 308.6,339.4 310.3,339.6 312,339.8 314.1,340.1 316,340.4 317.6,340.7 319.4,341.2 321.5,341.9 323.2,342.7 324.9,343.8 326.1,345.1 327.3,346.5 328.2,347.7 329.1,349.1 329.8,350.5 330.4,352 330.9,353.7 331.3,355.4 331.8,357.1 332.1,358.4 332.4,360 332.7,361.5 333,363.2 333.2,364.9 333.5,366.6 333.7,368.3 333.9,370.1 334.1,371.8 334.3,373.4 334.5,375 334.7,376.2 334.8,377.6 335,378.9 335.1,380.3 335.2,381.7 335.4,383.1 335.5,384.3 335.7,386.1 335.9,387.4 336.2,388.7 336.6,387.4 336.8,386.1 336.9,384.5 337.1,382.8 337.3,381.3 337.5,380 337.8,378.8 338,377.5 338.3,376.2 338.7,374.9 339.2,373.3 340.2,372 342,373.4 343.7,371.9 344.5,370.4 346.3,370.2 347.3,371.8 348.2,373.5 348.8,374.8 349.4,376.2 350.1,377.5 351,379.2 351.8,380.5 353.5,380.7 354.2,379 354.4,378.9 354.6,378 354.8,377.7 355.1,377 355.3,375.4 355.6,374.7 355.8,375.4 356.1,373.9 356.5,373.3 356.8,374.1 357.2,372.9 357.6,373.1 358.1,372.3 358.7,372.3 359.3,371.4 359.9,372 360.5,372.2 361.1,371.5 361.8,371.7 362.4,371.5 363.1,370.4 363.7,371.5 364.3,371.1 364.8,370.6 365.4,370.1 365.8,371.3 366.2,370.6 366.6,371 367.9,370.8 368,370.3" fill="none" stroke="#80b3dd" stroke-width="1.3" stroke-linejoin="round" stroke-linecap="round" opacity="1.0" /><polyline points="71.5,299.9 73.3,300.4 75.4,300.8 77.1,301.2 79,301.7 80.9,302.3 82.8,302.8 84.6,303.5 86.5,304.3 88.5,305.3 90.5,306.3 92.6,307.4 94.6,308.5 96.7,309.5 98.7,310.6 100.7,311.5 102.7,312.4 104.7,313.4 106.8,314.3 108.8,315.2 110.8,316 112.8,316.9 114.8,317.9 116.7,318.7 118.6,319.6 120.5,320.5 122.4,321.4 124.5,322.3 126.1,323 127.8,323.7 129.8,324.6 131.7,325.4 133.7,326.2 135.8,327 137.9,327.9 139.5,328.5 141.2,329.1 142.8,329.8 144.5,330.4 146.1,331 147.7,331.6 149.8,332.4 152,333.1 154.1,333.9 155.7,334.4 157.3,335 158.9,335.6 160.5,336.1 162.1,336.6 163.7,337.2 165.8,337.9 167.9,338.6 170,339.3 171.6,339.9 173.8,340.6 175.8,341.3 177.9,342 179.9,342.7 182,343.4 184.1,344.1 185.7,344.6 187.4,345.2 189.1,345.7 191.2,346.4 193.1,347 195,347.6 196.9,348.3 198.8,348.9 200.9,349.6 202.9,350.2 204.6,350.7 206.3,351.2 208,351.7 209.9,352.2 211.8,352.7 213.8,353.2 215.7,353.6 217.7,354 219.3,354.4 221,354.7 222.8,355 224.6,355.3 226.5,355.7 228.4,356 230.2,356.3 232.1,356.7 234,357 235.9,357.3 237.8,357.6 239.6,357.9 241.3,358.3 243,358.6 244.6,358.9 246.6,359.3 248.5,359.7 250.1,360 251.8,360.5 254.5,361.5 255.9,362.8 255.9,364 255.8,365.2 256.8,366.5 257.9,368 259.1,369.4 260.7,370.6 262.6,370.3 264.6,368.8 266.1,367.5 268,366.3 269.6,365.8 271.7,365.7 273.8,366 275.5,366.4 277.5,367 279.1,367.5 280.8,368 282.5,368.5 284.3,369 286,369.3 288.1,369.6 290.2,369.8 291.8,370 293.5,370.1 295.2,370.3 297,370.4 298.8,370.6 300.5,370.7 302.2,370.9 303.9,371 305.8,371.1 307.6,371.2 309.5,371.3 311.3,371.5 313,371.6 314.7,371.8 316.6,372.1 318.2,372.5 320.1,373.1 322.2,374.2 323.8,375.4 325.3,376.7 326.9,378.1 328.2,379.6 329.1,381 329.9,382.6 330.4,384 330.8,385.3 331.3,386.7 331.7,388.3 332.1,390 332.5,391.7 332.8,393.5 333.2,395.3 333.5,397 333.8,398.7 334.1,400.4 334.2,401.8 334.4,403.3 334.5,404.7 334.6,406.2 334.7,407.7 334.8,409 334.9,410.3 335.1,411.8 335.4,413 336.4,411.5 336.9,409.7 337.2,408.3 337.6,406.9 337.9,405.3 338.3,403.8 338.6,402.5 339,401.2 339.4,399.8 341.2,400.3 341.9,401.9 343.6,401.4 344.3,399.9 345.6,398.5 347.2,399.8 348.2,401.3 349.2,403.1 349.9,404.4 350.6,405.6 351.6,407.2 352.8,408.4 354,408.8 354.2,408.3 354.5,406.4 354.7,405.9 354.9,406.4 355.1,405.6 355.3,404.8 355.5,403.5 355.8,403.3 356,402.6 356.4,402 356.8,400.8 357.2,400.8 357.6,400.4 358.1,400.7 358.6,400.9 359.1,400.6 359.7,399.7 360.3,399.3 360.9,398.8 361.5,398.2 362.1,398 362.8,398.5 363.4,398.1 364,398.1 364.6,398.7 365.1,398 365.6,397.9 366.1,397.3 366.5,396.8 366.9,397.2 367.2,396.8" fill="none" stroke="#b0cfe7" stroke-width="1.3" stroke-linejoin="round" stroke-linecap="round" opacity="1.0" /><polyline points="71.5,300.6 73.3,301 75.4,301.5 77.1,301.9 79,302.3 80.9,302.9 82.8,303.5 84.6,304.2 86.5,305.1 88.4,306.2 90.3,307.5 92.3,308.7 94.3,310 96.3,311.3 98.2,312.5 100.2,313.5 102.2,314.5 104.2,315.4 106.2,316.3 108.3,317.2 110.3,318.1 112.3,318.9 114.3,319.8 116.2,320.7 118.1,321.5 120,322.4 121.9,323.3 124,324.1 126.1,325.1 127.8,325.8 129.7,326.7 131.6,327.5 133.6,328.4 135.6,329.3 137.7,330.2 139.8,331.1 141.9,332 143.5,332.7 145.1,333.4 147.2,334.3 149.3,335.1 151.4,335.9 153.4,336.7 155.5,337.5 157.6,338.3 159.7,339.1 161.8,339.9 163.9,340.6 165.9,341.4 168,342.2 170,342.9 172.1,343.7 174.2,344.5 176.2,345.3 178.2,346 180.2,346.8 182.2,347.5 184.2,348.3 186.4,349.1 188,349.6 189.7,350.2 191.6,350.8 193.5,351.5 195.4,352.1 197.4,352.8 199.3,353.4 201.4,354.1 203.5,354.7 205.1,355.2 206.8,355.7 208.6,356.2 210.5,356.7 212.4,357.2 214.2,357.6 216.2,358 218.2,358.4 219.8,358.7 221.5,359 223.3,359.3 225.1,359.6 226.9,359.9 228.8,360.1 230.6,360.4 232.5,360.7 234.3,361 236.2,361.3 238,361.6 239.8,361.9 241.5,362.2 243.2,362.6 244.8,362.9 246.8,363.3 248.7,363.8 250.3,364.3 252.7,365.2 254.8,366.4 256.5,367.9 257.6,369.5 258.4,371 259.1,372.5 259.6,373.9 260.4,375.2 262.2,375.9 263.7,374.6 264.9,373.1 266.5,371.7 268.4,371.3 270.2,371.2 272.2,371.4 273.9,371.6 275.7,371.8 277.5,372 279.3,372.3 281.1,372.6 282.8,372.9 284.5,373.1 286.1,373.3 287.9,373.5 289.5,373.6 291.2,373.8 293.3,374 295.4,374.3 297.1,374.4 298.8,374.7 300.5,374.9 302.7,375.1 304.4,375.3 306.1,375.5 307.9,375.6 309.7,375.8 311.4,376.1 313.1,376.3 315.2,376.7 317.1,377.1 318.8,377.6 320.6,378.2 322.7,379.2 324.5,380.3 326.1,381.7 327.6,383.2 328.8,384.6 329.9,386.1 330.7,387.4 331.4,389 331.9,390.3 332.3,391.7 332.7,393.4 332.9,394.7 333.2,396.2 333.4,397.9 333.5,399.1 333.6,400.4 333.7,401.8 333.8,403.1 333.9,404.5 334,406 334.1,407.4 334.2,408.8 334.3,410.2 334.4,411.5 334.5,412.9 334.6,414.1 334.7,415.4 334.8,417 335,418.5 335.2,419.7 335.5,421.1 336.6,419.7 337,417.8 337.3,416.4 337.6,414.8 337.9,413.2 338.1,411.5 338.4,409.9 338.7,408.4 339,407.1 339.3,405.5 340.1,404.1 341,405.5 341.6,407.4 342.2,408.9 344,407.4 344.8,406 346.7,405 347.8,406.3 348.7,407.9 349.3,409.2 350,410.6 350.6,411.8 351.6,413.5 352.8,414.9 354.1,414 354.4,414.8 354.7,414.2 355,412.8 355.3,412.6 355.6,411.9 355.9,411.6 356.2,411.1 356.5,409.3 356.9,408.6 357.2,409.3 357.6,408.1 358,408.2 358.4,406.6 358.9,407 359.4,407.2 360,406.2 360.6,407.1 361.2,406.8 361.8,405.3 362.5,405.1 363.1,405.8 363.8,406.3 364.4,405.3 365,404.9 365.5,405.2 366,404.5 366.5,404.7 366.9,405 367.2,405" fill="none" stroke="#d4e6f1" stroke-width="1.3" stroke-linejoin="round" stroke-linecap="round" opacity="1.0" /><line x1="148.8" y1="292.8" x2="148.8" y2="297.4" stroke="#2f78bd" stroke-width="1.1" /><line x1="148.8" y1="301" x2="148.8" y2="303.5" stroke="#80b3dd" stroke-width="1.1" /><polyline points="378.9,354.5 379,356 379.2,357.3 379.3,358.9 379.5,360.1 379.6,361.5 379.8,363 379.9,364.6 380.1,366.3 380.2,367.6 380.3,368.9 380.4,370.2 380.5,371.7 380.6,373.2 380.7,374.8 380.8,376.4 380.9,378.2 381,380 381.1,381.2 381.1,382.5 381.2,383.8 381.2,385.2 381.3,386.6 381.3,388.1 381.4,389.6 381.5,391.2 381.5,392.8 381.6,394.4 381.6,396.1 381.7,397.8 381.8,399.5 381.8,401.2 381.9,403 381.9,404.8 382,406.6 382,407.8 382.1,409 382.1,410.2 382.1,411.5 382.2,412.7 382.2,413.9 382.3,415.1 382.3,416.3 382.3,417.5 382.4,418.8 382.4,420 382.4,421.2 382.5,423 382.5,424.7 382.6,426.5 382.6,428.2 382.7,429.9 382.8,431.6 382.8,433.3 382.8,434.9 382.9,436.5 382.9,438 383,439.5 383,441.3 383.1,442.6 383.1,444 383.1,445.4 383.2,446.8 383.2,448.3 383.2,449.8 383.3,451.3 383.3,452.8 383.3,454.3 383.4,455.8 383.4,457.4 383.4,458.9 383.5,460.4 383.5,461.9 383.5,463.4 383.5,464.9 383.6,466.4 383.6,467.8 383.6,469.2 383.7,470.6 383.7,471.9 383.7,473.2 383.7,474.5 383.8,475.7 383.8,477.5 383.8,479.1 383.9,480.6 383.9,481.9 384,483.4 384,484.6 384.1,485.9 384.3,484.5 384.4,483.2 384.4,481.8 384.5,480.1 384.5,478.8 384.6,477.3 384.6,475.7 384.6,474.1 384.7,472.3 384.7,471.1 384.7,469.9 384.8,468.6 384.8,467.3 384.8,466 384.8,464.6 384.9,463.3 384.9,461.9 384.9,460.5 384.9,459 385,457.6 385,456.2 385,454.7 385,453.3 385.1,451.9 385.1,450.4 385.1,449 385.1,447.5 385.2,446.1 385.2,444.7 385.2,443.3 385.3,441.9 385.3,440.5 385.3,439.2 385.3,437.9 385.4,436.6 385.4,435.3 385.4,434.1 385.4,432.9 385.5,431.1 385.5,429.4 385.6,427.7 385.6,426 385.6,424.2 385.6,423 385.7,421.7 385.7,420.5 385.7,419.2 385.7,418 385.8,416.7 385.8,415.4 385.8,414.2 385.8,412.9 385.8,411.6 385.9,410.3 385.9,409 385.9,407.7 385.9,406.4 386,405.2 386,403.9 386,402.6 386,401.4 386,400.1 386.1,398.9 386.1,397.6 386.1,396.4 386.1,395.2 386.2,393.4 386.2,391.7 386.2,390 386.3,388.4 386.3,386.8 386.4,385.3 386.4,383.8 386.5,382.4 386.5,381.1 386.6,379.9 386.6,378.4 386.7,377 386.8,375.8 387.3,372.1 387.8,372.4 388.4,373.9 388.9,374.4 389.5,375.3 389.8,376.8 390.2,377 390.5,379.1 390.8,379.3 391.1,379.6 391.5,380 391.8,380.8 392.1,379.6 392.6,380.8 393.2,380.1 393.7,382.3 394.2,380 394.7,383 394.9,381.1 395,383.4 395.2,383 395.3,383.8 395.5,385.8 395.6,384 395.7,384.9 395.9,388.1 396,387.6 396.1,387 396.3,390.2 396.4,390.6 396.6,388.5 396.7,389.7 397.1,389.1 397.5,389.4 397.9,389.7 398.3,387.4 398.7,387.9 398.8,385.5 398.9,385.4 399,386.7 399.1,384.8 399.3,384.1 399.4,383.8 399.5,382.7 399.6,381.6 399.7,379.7 399.8,381 399.9,381 400,380.4 400.1,378.9 400.2,377.5 400.3,377.2 400.4,378 400.5,377.9 400.6,376.3 400.6,376.9 400.7,377.5 400.7,378.2 400.8,379.4 400.8,378.9 400.9,377.9 400.9,380.8 400.9,380.2 401,381 401,380.7 401,382 401.1,382.5 401.1,384.3 401.1,383 401.2,385.1 401.2,384.7 401.2,387 401.3,385.7 401.3,387.2 401.3,388.1 401.4,389.7 401.4,388.6 401.4,390.5 401.5,390.4 401.5,391.3 401.6,392.4 401.6,394.4 401.7,393.5 401.7,395.4 401.8,393.5 401.8,396.1 401.9,394.8 402.4,395.5 402.9,397.3 403.5,397.4 404.1,394.5 404.6,395.8 404.7,397.7 404.9,396.8 405,397.1 405.1,397 405.2,397.7 405.3,400.2 405.4,402 405.5,402.7 405.6,402 405.8,401.2 405.9,402.8 406,404.8 406.1,405.5 406.2,405.3 406.3,404.5 406.4,405.6 406.5,405.6 406.7,406 406.8,404.6 407,406.1 407.1,405.2 407.3,402.1 407.4,401.6 407.6,402.5 407.7,399.8 407.9,401.2 408.1,399.4 408.3,399.6 408.5,399.7 408.6,398.4 408.8,398.9 408.9,399.1 409,400.8 409.2,401.3 409.3,400.2 409.5,403 409.6,402.2 409.8,402.3 410,403.6 410.1,405.9 410.3,405.4 410.4,406.3 410.6,407.8 410.8,408.6 410.9,408.7 411.1,408.3 411.2,409.4 411.4,410.9 411.5,411.1 411.7,410.9 411.8,410.5 412.3,411.7 412.7,413.7 413.1,413.8 413.5,412.5 413.9,414.6 414.4,414.8 414.6,414.2 414.8,414.1 415,413.7 415.2,411.9 415.4,412 415.6,410.1 415.8,408.5 416.1,408.5 416.3,407.6 416.5,408.8 416.7,407.4 416.9,406.3 417.1,406.1 417.3,404.2 417.5,405.2 417.7,405.6 417.9,404.8 418.1,404.6 418.2,405.5 418.4,405.7 418.6,407.4 418.7,406.5 418.9,407.1 419,408.5 419.2,410.5 419.3,411.4 419.5,411.8 419.7,413.3 419.8,412.2 420,411.7 420.1,413.4 420.3,413.4 420.6,412.6 420.8,413.6 421.1,411.9 421.4,410.7 421.7,410 422,410.9 422.2,407.3 422.5,407.8 422.8,407.4 423,407.4 423.1,408.3 423.2,408 423.2,410.4 423.3,409.6 423.4,410.6 423.4,409.5 423.5,411 423.6,412 423.6,413.3 423.7,412.2 423.7,413.5 423.8,415.4 423.9,416 423.9,414.9 424,416.5 424,417.9 424.1,417.5 424.2,419.1 424.2,419.7 424.3,421.3 424.4,420.7 424.5,421.7 424.5,421.3 424.6,423 424.7,422.3 424.8,423.3 424.9,423.3 425,423.5 425.4,424 425.9,425.1 426.3,426.7 426.9,426.2 427.4,425.8 427.9,428.1 428.4,426.4 428.9,428 429.1,426.7 429.3,425.7 429.5,426.7 429.7,426.2 429.9,423.8 430.1,422.6 430.3,423.4 430.5,423.3 430.7,421.8 430.9,421.6 431.1,419.8 431.3,419.8 431.4,418.1 431.6,418.1 431.8,417.6 432,417.3 432.2,417.2 432.4,418.4 432.7,416.7 432.9,417.2 433.2,417.8 433.4,420.6 433.6,419.9 433.9,419.2 434.1,422.3 434.4,423.2 434.6,423.7 434.9,422.9 435.1,424.5 435.4,423.5 436,423.3 436.6,425.5 437.2,425.2 437.8,423.1 438.4,424.9 439,422.4 439.4,423.5 439.6,422.9 439.8,423.8 439.9,424.1 440,426.2 440.1,425.4 440.1,425.6 440.2,426.2 440.3,427.2 440.3,429.6 440.4,429.6 440.6,428.9 440.7,431.6 440.8,431.5 440.8,431.7 440.9,432.3 441,433.1 441.1,434 441.2,433.6 441.2,434.5 441.3,434.4 441.4,435.4 441.5,435.2 441.6,435.8 441.7,436.6 441.8,437.8 441.9,437 442,439.5 442.1,438.8 442.2,440.4 442.2,440.5 442.3,441.9 442.4,441.7 442.5,441.5 442.6,442.1 442.7,443.3 442.8,444.3 442.9,445.2 443,443.7 443.1,444.2 443.2,445 443.3,445.6 443.4,446 443.4,446.3 443.5,447.5 443.6,447.6 443.6,449.8 443.7,450.2 443.8,451.7 443.8,452.3 443.9,452.2 444,453.3 444.1,451.1 444.1,452.3 444.2,454.9 444.3,454.2 444.3,453.9 444.4,456.1 444.5,455.7 444.6,456.7 444.6,456.6 444.7,456.9 444.8,457.1 444.8,459.2 444.9,460.8 445,461.5 445.2,461.8 445.4,463.6 445.6,465.3 445.8,466.9 445.9,468.6 446.1,470.3 446.3,471.6 446.4,472.8 446.5,474.1 446.6,475.4 446.7,476.7 446.8,477.9 446.9,479.2 447,480.4 447.2,482.2 447.3,483.9 447.5,485.4 447.6,486.8 447.8,488.1 448.1,490.1 448.6,491.9 450.4,492.3" fill="none" stroke="#3b86ca" stroke-width="1.25" stroke-linejoin="round" stroke-linecap="round" opacity="1.0" /><polyline points="450.4,492.3 451.1,491 451.4,490.5 451.7,489 452,488.1 452.3,488.4 452.6,487.3 452.9,486.8 453.2,485.4 453.5,485.4 453.8,485.6 454.2,485.9 454.5,486.2 454.9,486.5 455.2,486.3 455.6,486.9 455.9,488.2 456.3,489 456.7,488.8 457,488.9 457.4,490 457.8,490.3 458.3,490.4 458.9,490.4 459.5,490.9 460,491.4 460.6,490.9 461.2,491.7 461.7,492.5 462.3,492.4 462.8,491.9 463.4,492.5 463.9,492.4 464.5,493.7 465,493.9 465.5,493.4 466.1,494 466.6,493.9 466.9,493.7 467.3,493.1 467.6,492.6 468,492.1 468.3,492.6 468.7,491 469,490.7 469.4,490 469.7,489 470,488.8 470.4,488 470.7,487.8 471,487.5 471.5,487 472,487.4 472.5,486.1 473,485.9 473.5,486.3 474,485.8 474.5,485.9 475,486.2 475.5,485.5 476,486.7 476.5,486.2 477.1,486.8 477.7,487.9 478.3,488.4 478.9,488 479.4,487.2 479.9,487.5 480.4,487.2 481,487.9 481.5,486.8 482.1,486.6 482.6,487 483.2,486.8 483.8,486.5 484.4,486.1 485,486.6 485.5,485.6 486,486.1 486.5,485.1 487,484.9 487.5,484.5 488,484.7 488.5,484.5 489.1,483.5 489.6,483.6 490.1,483.7 490.6,483.1 491.1,483.1 491.6,482.8 492,482.7 492.6,481.9 493.2,481.7 493.7,481.1 494.3,482.3 494.8,482 495.3,481.3 495.8,482 496.3,481.7 496.8,480.4 497.3,481.2 497.8,480.3 498.3,479.7 498.7,479.2 499.2,478.9 499.7,477.9 500.1,477.5 500.5,477.2 500.9,477.1 501.3,476.7 501.7,476.6 502.1,477.9 502.4,477.8 502.7,478.7 502.9,479.7 503.2,481.1 503.4,480.6 503.7,481.2 504,482.3 504.3,482.1 504.4,481.9 504.5,481 504.7,480.4 504.8,479.7 504.9,480.3 505.1,479.6 505.2,478.7 505.3,478.5 505.5,477.1 505.6,476.8 505.8,476.7 505.9,474.8 506.1,474.9 506.2,473.5 506.3,473.8 506.5,473.1 506.6,472.2 506.8,471.2 506.9,470 507,470.1 507.2,469.3 507.3,468.9 507.4,467.9 507.6,468.8 507.7,467.8 507.8,467.6 508.4,467.2 508.9,467.4 509.4,467.4 509.9,468 510.4,468.9 510.9,468.3 511.5,469.1 512,467.8 512.6,469.2 513.1,469.3 513.3,469.8 513.5,470.7 513.7,470 513.9,470.8 514.1,471.8 514.3,472.3 514.4,472.5 514.6,473.5 514.8,474 515,474.9 515.3,475.2 515.5,475.4 515.7,476 515.9,476.1 516,476.7 516.2,477 516.4,478.9 516.5,478.2 516.7,479.5 516.9,479.3 517.1,481.1 517.3,481 517.5,481.1 517.6,482.6 517.8,483.2 518,484 518.2,483.4 518.4,484.2 518.5,485.1 518.7,485.1 518.9,486 519,486.7 519.2,487.2 519.4,488 519.6,488.6 519.9,488.6 520.1,490 520.3,490.2 520.5,490.5 520.6,490.9 520.8,492.3 521,492.5 521.2,492.5 521.4,493.4 521.6,493.5 521.8,493.5 522.1,493.9 522.3,493.6 522.6,493.2 522.8,493.4 523.1,492.7 523.4,491.1 523.6,491.2 523.9,489.6 524.2,489.8 524.5,487.8 524.7,487.8 524.9,488.1 525.1,487.1 525.4,486.6 525.6,485.2 525.8,484.4 526.1,485 526.3,483 526.6,482.6 526.8,482.4 527,482.5 527.3,481.8 527.5,481.9 527.8,481.3 528,480.6 528.3,481.3 528.7,480.6 529,480.6 529.4,482.6 529.7,483.1 530,483.4 530.4,483.8 530.7,483.9 531.1,484.4 531.5,484.4 531.9,484.4 532.4,484.8 532.8,485.2 533.3,484.9 533.8,483.9 534.3,483.7 534.8,483 535.3,483.1 535.8,482.7 536.3,482.9 536.8,482.5 537.3,482 537.9,481.6 538.4,480.7 539,481 539.5,480.8 540.1,480.2 540.6,480.2 541.1,480.6 541.6,480.4 542.2,481.5 542.7,481.5 543.2,483.1 543.7,483.2 544.1,483.4 544.6,483.5 545.1,483.5 545.5,482.9 545.7,483.7 545.8,483.3 546,482.6 546.2,482.1 546.3,480.8 546.5,480.9 546.7,479.7 546.8,479.3 547,479.1 547.1,477.8 547.3,477.2 547.4,477.3 547.6,476.2 547.7,476.1 547.9,474.4 548,473.6 548.2,474.3 548.3,473.2 548.5,472.8 548.6,472.1 548.7,471.1 548.9,472 549,471 549.6,470.7 550.1,469 550.5,469.3 551,470.5 551.6,471.5 551.7,472.8 551.8,472.2 551.9,472.4 552,473 552.1,473.6 552.2,475.2 552.3,475.7 552.4,476 552.5,476.3 552.6,476.4 552.7,478.3 552.8,477.9 552.9,478.8 553,479.8 553.1,481.2 553.2,480.9 553.3,481.5 553.4,483.5 553.5,482.8 553.6,484.6 553.7,484.4 553.8,485.3 553.9,485.8 554,486.8 554.2,488.1 554.3,488.5 554.4,488.5 554.5,488.3 554.6,488.8 554.7,489.3 554.8,490.3 554.9,490.7 555,489.5 555.1,490.1 555.2,491 555.3,489.7 555.5,489.4 555.6,489.4 555.7,490 555.8,488.7 555.9,488.9 556,487.5 556.1,487.7 556.2,486.4 556.3,486.4 556.5,485.9 556.6,485.4 556.7,484 556.8,484.1 556.9,482.4 557,482.5 557.1,481.7 557.3,481.1 557.4,479 557.5,478.5 557.6,478.4 557.8,478.1 557.9,476.5 558,476.7 558.2,475.7 558.3,474.5 558.5,474.2 558.6,473.8 559.1,473.3 559.6,473.7 560.1,472.8 560.7,472.8 561.3,472.6 561.9,471.7 562.4,472.1 563,472.1 563.5,472.2 563.9,471.3 564.5,472.7 564.9,472.1 565.4,473.2 565.8,474.2 566.1,474.9 566.6,475.4 567,474.7 567.3,474.5 567.6,474.9 567.9,473.5 568.2,474.3 568.6,472.9 568.9,472.5 569.2,471.8 569.5,471.8 569.9,470.4 570.2,469.8 570.5,469.1 570.8,468.7 571.1,468.9 571.5,468.9 571.8,466.8 572.1,466.8 572.5,466.1 572.8,465.5 573.1,465.1 573.4,464.3 573.7,464.5 574,464.1 574.4,463.8 574.8,464.2 575.2,465.8 575.5,466.1 575.9,467.2 576.2,467.7 576.6,468.4 576.8,468 577,468.3 577.2,470.1 577.4,470.1 577.6,470.7 577.8,470.4 578.1,471.9 578.3,472.1 578.5,472 578.7,472.8 578.9,474.5 579.1,474.6 579.3,474.4 579.5,474.9 579.6,476.5 579.8,476.6 580,477.5 580.1,477.8 580.3,478.6 580.4,479.9 580.6,480.5 580.8,480.8 580.9,481.4 581.1,482.5 581.3,482.5 581.4,482.8 581.6,483.7 581.7,483.2 581.9,484.2 582,484.1 582.1,483.8 582.3,483.9 582.4,482.4 582.5,482.3 582.6,481.9 582.8,480.8 582.9,481.5 583,479.6 583.1,480.4 583.2,479.3 583.4,479.1 583.5,477 583.6,477.5 583.7,476.9 583.8,475.9 584,474.9 584.1,474.3 584.2,473.4 584.3,473.3 584.4,472.2 584.5,471.6 584.6,470.8 584.7,470.6 584.8,469.9 584.8,469.7 584.9,468.8 585,467.5 585.1,467.3 585.1,465.9 585.2,465.5 585.3,464.9 585.3,464.5 585.4,462.8 585.5,462.3 585.5,461.7 585.6,461.7 585.7,460.5 585.7,460.5 585.8,460.5 585.9,459.4 586,458.8 586,459 586.1,458.5 586.2,458.4 586.3,457.9 586.4,458.7 586.5,458.4 586.6,459.6 586.7,459.3 586.9,460.1 587,461 587.1,461.8 587.2,461.1 587.4,463.2 587.5,462.7 587.6,464.8 587.7,465.3 587.9,465.3 588,466.8 588.1,467.3 588.3,467.8 588.4,468.6 588.5,468.9 588.6,469.6 588.8,469.9 588.9,469.1 589.1,470 589.3,469.9 589.5,469.6 589.7,468.5 589.9,467.7 590,466.3 590.2,465.5 590.4,465.6 590.6,463.6 590.8,464.2 591.1,462.5 591.3,462.6 591.5,463 591.7,462.3 591.8,463.2 592,464.1 592.1,464 592.3,464.2 592.5,464.7 592.7,466.8 592.8,466.2 593,467.9 593.2,468.6 593.4,468.8 593.6,470 593.8,470.9 593.9,470.8 594.1,471.5 594.3,473 594.5,472.4 594.7,473.1 594.8,473.2 595,473.7 595.1,473.7 595.3,473.4 595.4,472.8 595.6,472.3 595.7,471.1 595.9,471.2 596,470.3 596.1,470.1 596.3,468.8 596.4,467.7 596.6,467.3 596.7,467.1 596.8,465.9 597,465.3 597.1,463.7 597.3,463.2 597.4,462.7 597.5,462.4 597.7,461.4 597.8,462.2 597.9,461 598.1,460.3 598.2,460.6 598.3,461.1 598.5,461.4 598.6,462 598.7,461.3 598.8,463.1 599,463.4 599.1,463.5 599.2,464.3 599.3,464.5 599.4,465 599.6,465.5 599.7,467.7 599.8,468.4 599.9,468.5 600.1,469.4 600.2,470 600.3,470.9 600.5,470.7 600.6,472.2 600.7,471.8 600.9,472.9 601,473.3 601.2,473.8 601.5,473.6 601.9,472.7 602.3,473.2 602.7,471.9 603.1,471.3 603.5,470.9 603.9,470.4 604.3,468.4 604.7,468.6 605.1,468.3 605.5,469.4 605.6,469 605.8,470 605.9,470.2 606.1,470 606.2,470.9 606.3,471.2 606.5,470.9 606.6,471.7 606.8,472 606.9,473.6 607.1,473.5 607.2,474 607.3,475.3 607.5,476.3 607.6,475.7 607.8,477.2 607.9,477.2 608,478.7 608.2,479.3 608.3,480 608.5,480.4 608.6,480.3 608.8,482 608.9,481.5 609,482.8 609.2,483.9 609.3,483.4 609.5,484.2 609.6,485 609.8,485.3 609.9,485.2 610.3,486.3 610.6,487.9 611,488.4 611.4,488.3 611.8,489.8 612.2,490.6 612.5,490.7 612.9,491.5 613.3,490.7 613.6,490.8 614,491.6 614.3,490.4 614.5,490 614.6,489.8 614.7,490.6 614.9,490.1 615,488.8 615.2,489.1 615.3,487.8 615.4,487.9 615.6,486.4 615.7,486.6 615.8,486.3 616,485.2 616.1,484.8 616.2,483.3 616.4,483.2 616.5,483 616.6,481.7 616.8,481.6 616.9,480.7 617,480.4 617.1,479.7 617.3,478.5 617.4,478.7 617.5,478.2 617.7,477.1 617.8,477.1 618,475.9 618.3,475.4 618.5,474.2 618.8,473.7 619,472.7 619.3,472.9 619.5,471.8 619.8,471.3 620,470.6 620.3,470.1 620.5,469.4 620.8,470 621,469.6 621.3,469.6 621.5,470 621.6,469.7 621.8,470.8 621.9,471.4 622.1,471.3 622.2,471.6 622.4,473.4 622.5,473.6 622.7,473.8 622.8,474.2 623,475.6 623.1,475.8 623.3,477.6 623.4,478 623.6,478.1 623.7,478.9 623.9,479.1 624,479.9 624.2,480.9 624.3,481.8 624.5,481.5 624.6,482.5 624.8,481.6 625,481.5 625.3,482.5 625.5,481.5 625.7,481 626,480.7 626.2,480.4 626.4,479.1 626.7,478.2 626.9,478.2 627.2,477.6 627.4,476.8 627.7,475.5 628,476 628.3,474.9 628.7,474.6 629.1,474.6 629.5,472.9 630,473 630.5,472.4 630.9,472.2 631.4,471.2 631.9,470.9 632.4,470.6 632.8,470.9 633.2,470.4 633.6,471.3 634,471.4 634.3,471.5 634.6,471.4 634.9,472.5 635.2,472.7 635.5,473.6 635.7,474.5 636,473.9 636.3,475.5 636.5,476.3 636.8,476.1 637.1,476.6 637.4,476.6 637.7,478.6 638.1,478.2 638.4,478.5 638.7,479.3 639,480.5 639.3,481.3 639.6,482.1 640,482.1 640.3,481.4 640.6,482.6 640.9,482.4 641.1,481.9 641.4,481.4 641.6,480.6 641.9,479.5 642.1,478.8 642.4,476.8 642.7,477.4 642.9,475.2 643.2,475.2 643.4,475 643.6,474.7 643.9,474.4 644.1,475 644.2,474.9 644.3,475.7 644.3,475.1 644.4,476 644.5,476.9 644.6,477.1 644.6,476.9 644.7,478.2 644.8,479.5 644.8,479.5 644.9,480.5 645,480.6 645.1,482.2 645.1,482.3 645.2,483.5 645.3,483.9 645.3,485 645.4,485.1 645.5,486.7 645.5,487.5 645.6,488.2 645.7,488.9 645.7,488.8 645.8,489.5 645.8,491 645.9,491.6 646,491.9 646,492.5 646.1,492.2 646.2,493.6 646.2,493.3 646.3,494.5 646.4,494.4 646.4,495.4 646.5,495 646.6,495.5 646.6,496.3 646.7,496.1 646.8,495.5 646.9,496.7 647,495 647.1,495.3 647.2,495.4 647.2,494.7 647.3,494.3 647.4,494.1 647.5,492.2 647.6,492.1 647.7,491 647.8,490.7 647.8,489.7 647.9,489.1 648,488.5 648.1,487.2 648.2,486.3 648.3,485.7 648.4,484.3 648.5,484.7 648.6,483.2 648.7,482.7 648.8,482.6 648.9,482.1 649,481.9 649.1,481.1 649.2,480.5 649.3,480.2 649.5,480.6 649.7,480.4 649.9,479.7 650.1,480.8 650.3,481.4 650.5,481.5 650.7,482.8 650.9,483.3 651.1,484.2 651.3,484.1 651.5,485.4 651.8,486 652,486.4 652.2,487 652.4,487.4 652.7,489.1 652.9,488.8 653.2,489.5 653.5,490 653.8,491.3 654.1,492 654.4,493.3 654.7,492.9 655,494.1 655.3,495.5 655.6,496 655.9,495.3 656.3,496.2 656.6,497.1 656.9,497 657.2,495.7 657.3,496.2 657.5,495.3 657.6,494.5 657.7,495.4 657.8,493.8 658,494.7 658.1,493.3 658.2,493.4 658.3,492.2 658.5,492.3 658.6,491.4 658.7,489.8 658.9,488.9 659,488.4 659.1,488.4 659.3,486.9 659.4,486.1 659.5,485.8 659.6,484.6 659.8,484.3 659.9,484 660,482.7 660.2,482.9 660.3,481.4 660.4,480.9 660.5,480.4 660.7,480.5 660.8,478.7 660.9,479.3 661,477.8 661.1,478.7 661.3,477.7 661.4,477.6 661.5,477 661.6,477.1 661.9,476.8 662.1,476.1 662.4,476.5 662.7,478.1 662.9,477.7 663.2,478.6 663.4,479.2 663.6,481.1 663.9,482.1 664.1,481.7 664.4,483.6 664.6,483 664.9,483.8 665.1,483.8 665.3,483.3 665.4,483.1 665.6,482.9 665.7,482.9 665.9,481.6 666,480.9 666.2,481.3 666.3,479.6 666.5,478.6 666.6,479 666.8,478.2 666.9,476.4 667.1,476.1 667.2,475.9 667.4,474.3 667.5,473.7 667.7,472.6 667.8,472.2 668,472.5 668.1,471.9 668.3,472.2 668.4,471.4 668.6,471.2 668.7,471.4 668.9,471.2 669,471.9 669.1,472.6 669.3,472.2 669.4,473.2 669.6,474.4 669.7,474.4 669.8,474.5 670,475.6 670.1,475.4 670.3,476.1 670.4,477.9 670.5,478.4 670.7,479 670.8,479.6 670.9,480 671.1,481.5 671.2,481.7 671.3,482.8 671.5,483.3 671.6,483.3 671.7,484.6 671.9,484.4 672,485.3 672.1,486 672.4,487.1 672.7,487.4 673,487.5 673.3,488.1 673.6,489.6 673.9,489.3 674.2,489.5 674.4,490.5 674.6,490.5 674.8,491.2 675.1,490.2 675.3,489.7 675.3,489.7" fill="none" stroke="#3f88cc" stroke-width="1.2" stroke-linejoin="round" stroke-linecap="round" opacity="1.0" /><polyline points="378.9,369 379.4,370.4 379.9,371.7 380.2,373.1 380.4,374.5 380.6,376.4 380.8,378.6 380.9,380 381,381.5 381.1,382.9 381.2,384.4 381.2,385.7 381.3,387 381.3,388.4 381.4,389.8 381.4,391.3 381.5,392.8 381.6,394.4 381.6,396.1 381.7,397.7 381.7,399.5 381.8,401.2 381.9,403 381.9,404.2 381.9,405.4 382,406.6 382,407.9 382,409.1 382.1,410.3 382.1,411.6 382.2,412.8 382.2,414.1 382.2,415.3 382.3,416.6 382.3,417.9 382.3,419.1 382.4,420.4 382.4,421.6 382.5,422.8 382.5,424.1 382.5,425.3 382.6,426.5 382.6,427.7 382.6,429.5 382.7,431.3 382.8,433 382.8,434.7 382.8,436.3 382.9,437.9 382.9,439.5 383,441 383,442.8 383.1,444.1 383.1,445.5 383.1,446.9 383.2,448.3 383.2,449.8 383.2,451.3 383.3,452.8 383.3,454.3 383.3,455.8 383.4,457.3 383.4,458.9 383.4,460.4 383.5,461.9 383.5,463.4 383.5,464.9 383.5,466.4 383.6,467.9 383.6,469.3 383.6,470.7 383.7,472.1 383.7,473.4 383.7,474.7 383.7,476 383.8,477.2 383.8,479 383.8,480.6 383.9,482.1 383.9,483.4 384,484.9 384,486.1 384.1,487.4 384.3,486 384.4,484.7 384.4,483.3 384.5,481.6 384.5,480.3 384.6,478.8 384.6,477.2 384.6,475.6 384.7,473.8 384.7,472.6 384.7,471.4 384.8,470.1 384.8,468.8 384.8,467.5 384.8,466.1 384.9,464.8 384.9,463.4 384.9,462 384.9,460.5 385,459.1 385,457.7 385,456.2 385,454.8 385.1,453.4 385.1,451.9 385.1,450.5 385.1,449 385.2,447.6 385.2,446.2 385.2,444.8 385.3,443.4 385.3,442 385.3,440.7 385.3,439.4 385.4,438.1 385.4,436.8 385.4,435.6 385.4,434.4 385.5,432.6 385.5,430.9 385.6,429.2 385.6,427.5 385.6,425.7 385.6,424.5 385.7,423.2 385.7,422 385.7,420.7 385.7,419.5 385.8,418.2 385.8,416.9 385.8,415.7 385.8,414.4 385.8,413.1 385.9,411.8 385.9,410.5 385.9,409.2 385.9,407.9 386,406.7 386,405.4 386,404.1 386,402.9 386,401.6 386.1,400.4 386.1,399.1 386.1,397.9 386.1,396.7 386.2,394.9 386.2,393.2 386.2,391.5 386.3,389.9 386.3,388.3 386.4,386.8 386.4,385.3 386.5,383.9 386.5,382.6 386.6,381.4 386.6,379.9 386.7,378.5 386.8,377.3 387.3,373.5 387.8,373.6 388.4,376.2 388.9,376.9 389.5,378.3 389.8,378.9 390.2,378.2 390.5,379.7 390.8,380.6 391.1,381.7 391.5,380.1 391.8,381.2 392.1,381 392.6,383.4 393.2,383.2 393.7,381.3 394.2,384.3 394.7,384.9 394.9,384.3 395,384.7 395.2,383.9 395.3,384.1 395.5,386.3 395.6,385.7 395.7,386.8 395.9,387.6 396,387.7 396.1,389.6 396.3,390.1 396.4,391.8 396.6,391.2 396.7,391.8 397.1,391.7 397.5,391.9 397.9,390.7 398.3,389.3 398.7,390.3 398.8,389.9 398.9,388.9 399,387.9 399.1,386 399.3,385 399.4,384.4 399.5,383 399.6,384.2 399.7,382.3 399.8,382.9 399.9,380.8 400,381.9 400.1,381 400.2,378 400.3,378.3 400.4,380.2 400.5,378.8 400.6,380.4 400.6,378.8 400.7,378.1 400.7,380.1 400.8,380.8 400.8,379.7 400.9,379.6 400.9,380.8 400.9,383.3 401,383.2 401,381.9 401,382.9 401.1,383.1 401.1,383.7 401.1,386.6 401.2,385.5 401.2,387.3 401.2,387.7 401.3,387.7 401.3,390 401.3,388.9 401.4,391.2 401.4,390.3 401.4,391.9 401.5,391.9 401.5,392.7 401.6,395.4 401.6,395.5 401.7,394.5 401.7,396.7 401.8,395.1 401.8,396.1 401.9,397.8 402.4,398.3 402.9,396.8 403.5,399.2 404.1,396.6 404.6,397.3 404.7,399.2 404.9,398.3 405,398.7 405.1,398.7 405.2,399.4 405.3,401.5 405.4,401.2 405.5,403 405.6,403.1 405.8,404 405.9,406.2 406,405.4 406.1,406.2 406.2,407.5 406.3,405.8 406.4,406 406.5,408.4 406.7,408.1 406.8,406 407,405.3 407.1,406.2 407.3,406 407.4,402.8 407.6,404.2 407.7,403.2 407.9,401.6 408.1,400.6 408.3,399.4 408.5,399.2 408.6,402.2 408.8,400.2 408.9,402 409,401 409.2,403.2 409.3,403.1 409.5,402.7 409.6,403 409.8,405.3 410,404 410.1,405.2 410.3,406.9 410.4,408.4 410.6,408.4 410.8,408.1 410.9,410.7 411.1,409.2 411.2,409.2 411.4,410.5 411.5,411.5 411.7,410.8 411.8,411.5 412.3,413.2 412.7,414.7 413.1,414 413.5,415 413.9,416.6 414.4,416.5 414.6,415.3 414.8,415 415,414.2 415.2,412.3 415.4,411.3 415.6,410.5 415.8,412.4 416.1,411 416.3,411.1 416.5,407.5 416.7,408.7 416.9,407.6 417.1,407.9 417.3,406.3 417.5,408.1 417.7,405.2 417.9,406.7 418.1,407.6 418.2,408.4 418.4,408.5 418.6,409 418.7,410 418.9,411.1 419,410.1 419.2,411.9 419.3,413.3 419.5,414 419.7,413.3 419.8,415 420,415.7 420.1,415.1 420.3,415.5 420.6,414.7 420.8,414.8 421.1,414.2 421.4,411.7 421.7,412.4 422,412.5 422.2,411.4 422.5,410.4 422.8,409.2 423,410.5 423.1,410.3 423.2,410.1 423.2,411.7 423.3,409.8 423.4,412.3 423.4,410.6 423.5,412.9 423.6,413.1 423.6,413 423.7,415 423.7,415.1 423.8,416.1 423.9,417.8 423.9,416.5 424,416.5 424,418 424.1,419.9 424.2,419.2 424.2,419.8 424.3,422.6 424.4,422.6 424.5,422.5 424.5,424.5 424.6,423.3 424.7,424.9 424.8,423.9 424.9,425 425,426.5 425.4,427.9 425.9,428.6 426.3,427.7 426.9,428.7 427.4,428.1 427.9,427.6 428.4,428.5 428.9,429.2 429.1,429 429.3,428.2 429.5,428.4 429.7,425.8 429.9,424.9 430.1,425 430.3,423.8 430.5,422.9 430.7,422.7 430.9,422.6 431.1,421.5 431.3,420.4 431.4,421.3 431.6,421.3 431.8,419.3 432,417.9 432.2,417.6 432.4,420.1 432.7,417.8 432.9,420.2 433.2,420.3 433.4,420.1 433.6,422.2 433.9,420.6 434.1,421.7 434.4,423.4 434.6,422.8 434.9,425.8 435.1,424.5 435.4,424.5 436,424.5 436.6,426.3 437.2,425.5 437.8,425.9 438.4,425.8 439,426.2 439.4,427 439.6,426.5 439.8,425.3 439.9,426.6 440,426.1 440.1,426.1 440.1,428 440.2,429.3 440.3,428.3 440.3,429.3 440.4,430.3 440.6,432.2 440.7,432.6 440.8,433.2 440.8,434.1 440.9,433.4 441,435 441.1,435.8 441.2,433.8 441.2,436.8 441.3,436.7 441.4,435.4 441.5,436.9 441.6,437.9 441.7,439.3 441.8,438.2 441.9,439.4 442,440.9 442.1,441.2 442.2,442.2 442.2,441.3 442.3,442.5 442.4,441.7 442.5,443.9 442.6,444.8 442.7,444.9 442.8,445.7 442.9,444.9 443,447.6 443.1,448.4 443.2,449.1 443.3,448.4 443.4,449.7 443.4,448.7 443.5,451 443.6,451.3 443.6,450.3 443.7,450.1 443.8,451.7 443.8,452.5 443.9,453.7 444,453.4 444.1,452.6 444.1,455.5 444.2,453.9 444.3,456.6 444.3,455.3 444.4,456.4 444.5,458.3 444.6,457 444.6,457.6 444.7,459.3 444.8,460.5 444.8,461.4 444.9,461.5 445,462.9 445.2,463.3 445.4,465.1 445.6,466.8 445.8,468.4 445.9,470.1 446.1,471.8 446.3,473.1 446.4,474.3 446.5,475.6 446.6,476.9 446.7,478.2 446.8,479.4 446.9,480.7 447,481.9 447.2,483.7 447.3,485.4 447.5,486.9 447.6,488.3 447.8,489.6 448.1,491.6 448.6,493.4 450.4,493.8" fill="none" stroke="#5397d4" stroke-width="1.2" stroke-linejoin="round" stroke-linecap="round" opacity="1.0" /><polyline points="450.4,493.8 451.1,492.1 451.4,492 451.7,490 452,489.5 452.3,489.3 452.6,488.3 452.9,488.4 453.2,487.8 453.5,487.3 453.8,487.7 454.2,487.3 454.5,487.1 454.9,487.6 455.2,488.9 455.6,489.6 455.9,489.2 456.3,490.8 456.7,491.7 457,491.6 457.4,492.1 457.8,491.8 458.3,492.6 458.9,492.6 459.5,492.7 460,491.8 460.6,493 461.2,492.2 461.7,491.9 462.3,492.5 462.9,492.1 463.5,492.1 464.2,492.5 464.8,491.6 465.4,492.3 466,492.1 466.6,492.6 467,492.4 467.4,491.1 467.8,491 468.2,490.1 468.6,490.2 469.1,490.3 469.5,490 469.9,488.9 470.3,488.2 470.6,487.6 471,487.9 471.5,487.9 471.9,486.2 472.3,486.6 472.8,485 473.2,484.8 473.6,484.4 474,484.8 474.5,484.1 475,484.1 475.5,484.6 476,484.1 476.5,485.4 477.1,484.8 477.7,485.7 478.3,485.5 478.9,485.4 479.3,485.8 479.8,485.5 480.3,485.2 480.8,485 481.3,485 481.8,484.1 482.3,483.9 482.8,484.2 483.4,484 483.9,483.5 484.5,483.8 485,483.3 485.6,483.5 486.1,482.5 486.7,483.1 487.3,483.2 487.9,483.2 488.5,482.3 489.2,482.3 489.8,483.1 490.3,482.1 490.9,483.2 491.5,483 492,481.9 492.7,482.1 493.3,482.9 493.9,482.3 494.5,482.2 495.1,483.5 495.7,482.9 496.2,483.5 496.8,482.4 497.3,482.7 497.7,482.8 498.1,481.4 498.5,481.1 498.9,481.3 499.3,481 499.7,480.4 500,478.5 500.4,478.6 500.7,478.5 501.1,477.7 501.4,477.8 501.7,477 502,477.1 502.2,477.5 502.4,478 502.6,479.5 502.8,480.3 503,481.2 503.1,481.5 503.3,482.4 503.5,483.1 503.7,484.7 503.9,485.3 504.1,485.4 504.3,484.1 504.4,483.9 504.6,485 504.7,483.9 504.8,484 505,482.9 505.1,482.6 505.3,482.1 505.4,481.4 505.6,481 505.7,479.5 505.9,479.8 506.1,479.3 506.2,477.6 506.4,477.4 506.5,477.1 506.7,475.9 506.8,474.9 507,474.3 507.1,474.2 507.3,472.9 507.4,473.7 507.5,473.1 507.7,472.6 507.8,472.5 508.5,471.1 509.1,470.6 509.8,471.1 510.4,471.3 510.9,472.1 511.5,472 512,471.5 512.6,473 513.1,473.4 513.3,473.8 513.5,474.3 513.7,474.1 513.9,475.3 514.1,475.7 514.3,476 514.4,476.6 514.6,477.2 514.8,477.2 515,478.3 515.3,477.9 515.5,478.9 515.7,479.8 515.9,479.5 516,480.5 516.2,481.4 516.4,481.9 516.6,481.9 516.8,483.5 517,483.6 517.2,483.7 517.4,484.7 517.5,485.1 517.7,485.6 517.9,486 518.1,487.4 518.3,487.5 518.5,488.1 518.7,488.7 518.9,489.5 519,488.6 519.2,489.9 519.4,490.7 519.6,490.7 519.8,491.5 520,491.7 520.2,492.5 520.4,493.4 520.5,493.6 520.7,494.4 520.9,495.9 521.1,495.9 521.3,496.2 521.4,497.3 521.6,496.9 521.8,497.7 522.1,497.3 522.4,497.4 522.8,495.9 523.1,496.2 523.4,495.8 523.8,494.1 524.1,494.7 524.5,492.9 524.7,492.9 525,492 525.3,491.9 525.5,491.5 525.8,490.1 526.1,490.9 526.3,489.5 526.6,489.1 526.9,488.6 527.2,487.8 527.5,487.3 527.7,487.5 528,487.1 528.6,486.6 529.1,487.5 529.7,487.4 530.3,487.5 530.9,488.2 531.5,487.7 531.8,487.6 532,488.1 532.3,487.1 532.6,487.4 532.8,486.6 533.1,485 533.4,485.8 533.7,485.1 534,483.2 534.3,483.8 534.6,482.5 534.9,482 535.2,482.3 535.5,480.8 535.8,480.9 536.3,481.2 536.9,480.6 537.5,480.1 538.1,480.8 538.8,480.6 539.4,480.3 540,479.7 540.5,480.5 541.1,480.3 541.7,480.1 542.3,480.2 542.9,481.3 543.4,481.1 544,482 544.5,482.5 545,482.2 545.5,481.7 545.7,481.9 546,481.3 546.2,481.4 546.5,480.4 546.7,480.5 546.9,479.8 547.1,478.8 547.4,477.4 547.6,476.5 547.8,477.1 548,476.3 548.2,475.5 548.4,474.5 548.6,474 548.8,474.3 549,473.9 549.4,473.7 549.8,473.7 550.1,474 550.5,473.6 550.8,474.4 551.2,476.5 551.6,477.7 551.7,478 551.8,477.1 551.9,477.7 552,478.5 552.1,479.3 552.2,480.2 552.3,480.1 552.4,481.5 552.6,481.5 552.7,482.2 552.8,483.9 552.9,484.4 553,485.3 553.1,485.7 553.2,486.6 553.4,487 553.5,487.9 553.6,489.3 553.7,490.1 553.8,489.6 553.9,490.3 554.1,491.9 554.2,492.2 554.3,492.9 554.4,492.4 554.5,493.1 554.6,493.2 554.8,494.2 554.9,493.7 555,494.2 555.1,494.6 555.2,493.5 555.3,493.7 555.4,493.8 555.4,493.8 555.5,492.7 555.6,492.2 555.7,491.4 555.8,492.1 555.9,490.4 555.9,489.9 556,490 556.1,489.3 556.2,489 556.3,487.7 556.3,487.8 556.4,486 556.5,485.5 556.6,485.4 556.7,483.8 556.7,483.4 556.8,483.3 556.9,482.5 557,481.1 557.1,480.1 557.2,479.7 557.2,479.5 557.3,478.3 557.4,477.2 557.5,477.4 557.6,476.5 557.7,476.4 557.8,475.9 557.9,475.2 558,474 558.1,474 558.2,472.8 558.3,472.4 558.4,472.2 558.5,472.6 558.6,472.3 559.1,470.6 559.6,470.4 560.1,470.3 560.7,470.5 561.3,471 561.9,471.6 562.4,471.9 563,473.1 563.5,474.1 563.9,474.1 564.3,475.1 564.7,475.3 565,475.5 565.3,477.2 565.6,478.1 565.8,478 566.1,478.2 566.4,479.3 566.7,479.5 567,479.4 567.2,479.8 567.3,479 567.5,478.9 567.6,477.4 567.8,477.6 567.9,477.5 568.1,475.9 568.2,475.3 568.4,475.6 568.6,475.2 568.7,473.3 568.9,473.5 569,472 569.2,472.3 569.4,471.4 569.5,470.2 569.7,469.5 569.9,469.7 570,468.8 570.2,468.6 570.3,467.6 570.5,467.1 570.8,467.3 571.1,466.1 571.5,465.1 571.8,464.4 572.1,464.1 572.5,463.5 572.8,463.4 573.1,462.3 573.4,462.7 573.7,462.4 574,462.8 574.2,462.9 574.4,463.2 574.5,463.6 574.7,464.2 574.9,464.2 575,464.6 575.2,465.5 575.4,466.3 575.5,466.4 575.7,467.1 575.8,467.4 576,469 576.1,470.1 576.3,469.8 576.4,470.1 576.6,470.7 576.8,471.6 577,472 577.1,473.6 577.3,472.8 577.5,473.7 577.7,474 577.9,475.3 578,476.1 578.2,475.7 578.4,476.1 578.6,477.2 578.8,477.9 578.9,478.8 579.1,478 579.3,478.5 579.6,479.4 579.9,480.2 580.2,481.1 580.5,482.6 580.7,483.2 581,483.1 581.3,483.4 581.6,483.5 581.9,483 582,483.6 582.1,482.7 582.2,482.7 582.3,482.7 582.4,481.8 582.5,481 582.6,481.4 582.7,480.9 582.8,479.5 582.9,479.2 583,479.2 583.1,477.9 583.2,476.8 583.4,475.9 583.5,476.6 583.6,475.7 583.7,474.4 583.8,473.9 583.9,473.2 584,472.2 584.1,472.6 584.1,471.5 584.2,470.2 584.3,469.3 584.4,469.4 584.5,468.7 584.6,468.7 584.7,467.9 584.8,467.1 584.8,465.7 584.9,465 585,464.5 585.1,463.7 585.1,463.9 585.2,462.6 585.3,462 585.3,461.9 585.4,460.1 585.5,459.8 585.5,458.6 585.6,458.9 585.7,457.2 585.7,457.9 585.8,457.5 585.9,457 586,455.6 586,455.6 586.1,456.1 586.2,455.1 586.3,455.7 586.4,455.7 586.5,456.6 586.5,456.4 586.6,457.1 586.7,456.7 586.8,457.9 586.9,457.9 587,459.3 587.1,458.7 587.2,460.4 587.3,460.2 587.4,461.5 587.5,462.2 587.5,462.4 587.6,464.2 587.7,464.2 587.8,464.9 587.9,465.3 588,466.4 588.1,467.3 588.2,468.4 588.3,468.4 588.4,469.5 588.5,469.1 588.6,470 588.7,470.4 588.8,471.5 588.9,471.4 589.1,471.3 589.3,470.2 589.5,470.4 589.7,470.3 589.9,468.8 590,468.5 590.2,467.4 590.4,465.9 590.6,466.5 590.8,465.5 591.1,464 591.3,464.3 591.5,463.7 591.7,464 591.9,464.5 592.1,464.6 592.3,465.2 592.5,465.9 592.8,467 593,467.2 593.2,467.9 593.4,469.4 593.7,469.5 593.9,471.1 594.1,471.2 594.3,471.9 594.6,471.7 594.8,472.6 595,471.5 595.2,471.5 595.3,471.1 595.5,471.6 595.7,471.2 595.8,469.8 596,469.5 596.2,469.4 596.3,468.3 596.5,466.8 596.6,466.2 596.8,465.3 596.9,464.5 597.1,464.2 597.3,463 597.4,463.6 597.6,462.4 597.7,462.1 597.9,461.9 598,461.9 598.2,462 598.3,461.4 598.5,461.5 598.6,461.9 598.8,461.7 598.9,462.8 599,463.8 599.2,464.9 599.3,465.2 599.4,465.8 599.6,466.4 599.7,466.3 599.8,467.5 600,468.3 600.1,469.5 600.3,469.4 600.4,470.5 600.6,471.3 600.7,472.3 600.9,472.8 601,472.9 601.2,472.6 601.7,473.9 602.3,473.9 602.9,472.9 603.6,472 604.2,471.9 604.9,471.5 605.5,473.1 605.6,473.9 605.8,473.5 605.9,474.2 606,474.8 606.2,474.2 606.3,475.8 606.4,475.9 606.6,475.8 606.7,476.2 606.8,477 607,478.1 607.1,478.9 607.2,479 607.4,480.5 607.5,480.4 607.6,481.2 607.8,481.3 607.9,483.3 608,482.7 608.2,484.5 608.3,484.6 608.4,485.3 608.6,485.9 608.7,486.1 608.8,487.7 609,488.4 609.1,488.7 609.2,488.9 609.4,488.7 609.5,490.2 609.6,489.9 609.8,491.2 609.9,490.6 610.3,492.1 610.6,493.4 611,493.3 611.4,494.6 611.8,494.6 612.2,495.2 612.5,495.9 612.9,497.4 613.3,497.5 613.6,497.1 614,496.4 614.3,496.5 614.4,496.4 614.5,495.6 614.7,495.6 614.8,495.5 614.9,493.9 615,493.8 615.1,493.7 615.2,492.7 615.3,492.5 615.4,492.2 615.5,491 615.6,490.9 615.7,489.8 615.8,489.6 616,488.6 616.1,488.4 616.2,486.8 616.3,487.1 616.4,485.6 616.5,486.1 616.6,484.9 616.7,484 616.8,483.3 616.9,483 617,482.5 617.1,482 617.2,481.4 617.3,480.5 617.4,480.7 617.5,480 617.6,479.6 617.7,478.5 617.8,478.2 618.2,477.3 618.6,476.9 619,475.5 619.4,475 619.7,474.4 620.1,474.9 620.5,474 620.9,473.7 621.3,475.1 621.5,475.6 621.6,475.6 621.8,475.9 622,476.6 622.1,476.5 622.3,477.6 622.5,477.5 622.6,478.3 622.8,479.5 623,480.3 623.1,480.9 623.3,481.1 623.5,482.8 623.6,483.2 623.8,483.4 624,484.1 624.1,484.7 624.3,484.9 624.5,485 624.6,486.5 624.8,486.7 625,486.2 625.2,486.4 625.4,485.4 625.6,485.6 625.8,484.3 626,484.5 626.2,483.7 626.3,483.5 626.5,481.6 626.7,481.9 626.9,480.2 627.1,480.1 627.4,480.1 627.6,478 627.8,477.8 628,477.4 628.3,477 628.7,476.1 629.2,476.7 629.7,476.1 630.2,475 630.7,474.4 631.2,474.4 631.7,473.2 632.2,473 632.7,474.1 633.2,473.1 633.6,473.5 634,474.3 634.3,474.6 634.6,474.2 634.9,474.3 635.2,474.9 635.5,476.4 635.7,477 636,476.6 636.3,478.2 636.5,478.1 636.8,478.9 637.1,479.1 637.4,480.7 637.6,481.4 637.9,480.9 638.1,482.3 638.4,482.4 638.6,484.1 638.9,483.6 639.1,484.3 639.4,485.9 639.6,485.8 639.9,487.1 640.1,487.3 640.4,487.3 640.6,486.4 640.8,487.1 641,487.1 641.2,485.9 641.4,484.8 641.5,484.4 641.7,483.8 641.9,483.6 642.1,482 642.3,481.1 642.5,480.3 642.7,480.2 642.9,479.6 643.1,478.3 643.2,478.1 643.4,477.9 643.6,477.1 643.8,476.3 643.9,476.4 644.1,477.5 644.2,477.2 644.3,476.9 644.4,477.7 644.4,477.3 644.5,479 644.6,478.7 644.7,479.4 644.8,480 644.9,479.8 644.9,481.3 645,481.5 645.1,482.2 645.2,483.7 645.2,483.4 645.3,484.5 645.4,485.9 645.5,485.9 645.5,486.8 645.6,487.9 645.7,488.1 645.7,490 645.8,490.8 645.9,490.1 646,491.4 646,492.5 646.1,492.5 646.2,493.9 646.3,493.8 646.3,493.8 646.4,494.8 646.5,495.3 646.5,495.1 646.6,495.8 646.7,496.1 646.8,495.8 647,495.7 647.1,496 647.2,495.4 647.3,494.6 647.4,494.7 647.6,492.8 647.7,492.9 647.8,491.2 647.9,491 648.1,489.6 648.2,489 648.3,488.7 648.4,487.9 648.6,487.2 648.7,485.7 648.9,485.5 649,484.7 649.1,485 649.3,484.7 649.5,484.1 649.7,485.1 649.8,485.5 650,485.7 650.2,486.6 650.4,486.1 650.6,486.7 650.8,487.2 651,488.6 651.2,489.2 651.4,490 651.6,490.4 651.8,491.9 652,491.5 652.2,493.4 652.5,493.4 652.7,493.9 652.9,494.6 653.3,494.5 653.8,495.1 654.3,496.1 654.8,496.4 655.2,497.3 655.7,498.1 656.2,498 656.7,497.3 657.2,497.1 657.3,496.1 657.5,496.9 657.6,495.6 657.7,495.3 657.9,494.7 658,495 658.1,494.7 658.2,494 658.4,492.4 658.5,492.3 658.6,491.6 658.8,490.7 658.9,491.1 659,489 659.2,489 659.3,488.7 659.5,488.3 659.6,486.4 659.7,486.1 659.8,485.9 660,484.1 660.1,483.8 660.2,484.1 660.4,482.3 660.5,482.1 660.6,481.4 660.8,481 660.9,480 661,479.5 661.1,480.5 661.2,479.7 661.4,479.4 661.5,478.3 661.6,478.1 662,478.2 662.3,477.8 662.6,478.5 662.9,479.8 663.3,479.7 663.6,480.5 663.9,482.4 664.2,482.6 664.5,482.3 664.8,483.3 665.1,483.7 665.3,482.6 665.6,482.7 665.8,482.7 666,482.3 666.3,481.1 666.5,480.8 666.7,479.3 667,478.4 667.2,478.3 667.4,476.9 667.7,476.9 667.9,475.6 668.1,475.4 668.4,475 668.6,475.6 668.7,475.2 668.9,475.5 669,475.8 669.2,476.6 669.3,476.8 669.5,477.5 669.6,478.9 669.7,479 669.9,479.9 670,479.6 670.2,480.5 670.3,480.8 670.5,482.4 670.6,482.6 670.8,483.2 670.9,483.5 671,484.4 671.2,485.2 671.3,486.1 671.5,487.5 671.6,487.7 671.7,487.6 671.8,488.2 672,488.3 672.1,489.8 672.7,490.1 673.3,491.3 673.9,491.3 674.4,491.5 674.8,490.1 675.1,490.2 675.2,489.7 675.3,488.5 675.3,489.2" fill="none" stroke="#5a9bd6" stroke-width="1.15" stroke-linejoin="round" stroke-linecap="round" opacity="1.0" /><polyline points="378.9,371 379.4,372.3 379.9,373.6 380.3,375.2 380.5,376.8 380.7,378.8 380.8,380.1 380.9,381.4 381,383 381.1,384.4 381.2,385.9 381.2,387.2 381.3,388.5 381.3,389.8 381.4,391.3 381.4,392.8 381.5,394.3 381.6,395.9 381.6,397.5 381.7,399.2 381.7,400.9 381.8,402.7 381.9,404.5 381.9,405.7 381.9,406.9 382,408.1 382,409.3 382,410.6 382.1,411.8 382.1,413.1 382.2,414.3 382.2,415.6 382.2,416.8 382.3,418.1 382.3,419.3 382.3,420.6 382.4,421.8 382.4,423.1 382.5,424.3 382.5,425.6 382.5,426.8 382.6,428 382.6,429.2 382.6,431 382.7,432.8 382.8,434.5 382.8,436.2 382.8,437.8 382.9,439.4 382.9,441 383,442.5 383,444.3 383.1,445.6 383.1,447 383.1,448.4 383.2,449.8 383.2,451.3 383.2,452.8 383.3,454.3 383.3,455.8 383.3,457.3 383.4,458.8 383.4,460.4 383.4,461.9 383.5,463.4 383.5,464.9 383.5,466.4 383.5,467.9 383.6,469.4 383.6,470.8 383.6,472.2 383.7,473.6 383.7,474.9 383.7,476.2 383.7,477.5 383.8,478.7 383.8,480.5 383.8,482.1 383.9,483.6 383.9,484.9 384,486.4 384,487.6 384.1,488.9 384.3,487.5 384.4,486.2 384.4,484.8 384.5,483.1 384.5,481.8 384.6,480.3 384.6,478.7 384.6,477.1 384.7,475.3 384.7,474.1 384.7,472.9 384.8,471.6 384.8,470.3 384.8,469 384.8,467.6 384.9,466.3 384.9,464.9 384.9,463.5 384.9,462 385,460.6 385,459.2 385,457.7 385,456.3 385.1,454.9 385.1,453.4 385.1,452 385.1,450.5 385.2,449.1 385.2,447.7 385.2,446.3 385.3,444.9 385.3,443.5 385.3,442.2 385.3,440.9 385.4,439.6 385.4,438.3 385.4,437.1 385.4,435.9 385.5,434.1 385.5,432.4 385.6,430.7 385.6,429 385.6,427.2 385.6,426 385.7,424.7 385.7,423.5 385.7,422.2 385.7,421 385.8,419.7 385.8,418.4 385.8,417.2 385.8,415.9 385.8,414.6 385.9,413.3 385.9,412 385.9,410.7 385.9,409.4 386,408.2 386,406.9 386,405.6 386,404.4 386,403.1 386.1,401.9 386.1,400.6 386.1,399.4 386.1,398.2 386.2,396.4 386.2,394.7 386.2,393 386.3,391.4 386.3,389.8 386.4,388.3 386.4,386.8 386.5,385.4 386.5,384.1 386.6,382.9 386.6,381.4 386.7,380 386.8,378.8 387.3,375.4 387.8,374.7 388.4,376.6 388.9,377.6 389.5,380.7 389.8,381.2 390.2,381.1 390.5,380.2 390.8,381.8 391.1,381.8 391.5,382.1 391.8,384.7 392.1,385.2 392.6,382.7 393.2,385.2 393.7,384.4 394.2,384 394.7,384.4 394.9,385.9 395,385.7 395.2,387 395.3,387.6 395.5,386.7 395.6,389.3 395.7,390.6 395.9,391.3 396,390.9 396.1,389.8 396.3,390.3 396.4,391.2 396.6,394 396.7,392.3 397.1,392.8 397.5,394.2 397.9,391.8 398.3,391.6 398.7,390.1 398.8,388.6 398.9,389.6 399,389.8 399.1,387 399.3,386.5 399.4,386.3 399.5,384.4 399.6,384.9 399.7,385.1 399.8,383.8 399.9,382.7 400,383.1 400.1,380.4 400.2,381.2 400.3,380.2 400.4,380.7 400.5,379.2 400.6,381.3 400.6,379.4 400.7,379.9 400.7,382.1 400.8,382.9 400.8,381.7 400.9,382.1 400.9,382.1 400.9,382.7 401,384.3 401,383.6 401,384 401.1,385.7 401.1,385.5 401.1,387.7 401.2,388.9 401.2,389.5 401.2,389.3 401.3,389.7 401.3,390.6 401.3,390.1 401.4,392.9 401.4,392.5 401.4,393.1 401.5,393 401.5,394.8 401.6,395.8 401.6,395.7 401.7,397.7 401.7,397.6 401.8,396.7 401.8,398 401.9,399.4 402.4,399.4 402.9,399.8 403.5,397.9 404.1,399 404.6,399.4 404.7,399.6 404.9,400.1 405,401.1 405.1,401.6 405.2,402.1 405.3,401.8 405.4,403.3 405.5,405.6 405.6,404.7 405.8,404.2 405.9,404.8 406,407 406.1,406.1 406.2,406.7 406.3,407.1 406.4,408.4 406.5,410.2 406.7,408.6 406.8,408.2 407,407.5 407.1,407 407.3,406 407.4,405.9 407.6,405.5 407.7,404.1 407.9,402.6 408.1,402.8 408.3,403.3 408.5,401.1 408.6,401.5 408.8,402.9 408.9,403.4 409,403.7 409.2,404 409.3,405.3 409.5,404.8 409.6,406.4 409.8,407.5 410,406.6 410.1,408.6 410.3,408.8 410.4,410 410.6,408.2 410.8,411.5 410.9,411.7 411.1,412.9 411.2,413.6 411.4,412.1 411.5,413.7 411.7,412.6 411.8,414.3 412.3,416.4 412.7,415 413.1,416.1 413.5,415.6 413.9,416 414.4,415.7 414.6,415.1 414.8,417.4 415,416.6 415.2,414.7 415.4,414.9 415.6,414 415.8,412.8 416.1,411.7 416.3,411.7 416.5,410.6 416.7,409.1 416.9,408.8 417.1,409.1 417.3,408.7 417.5,407.2 417.7,408.3 417.9,409.2 418.1,409.5 418.2,409.2 418.4,408 418.6,409.7 418.7,409.3 418.9,410 419,411.4 419.2,412.7 419.3,414.4 419.5,414.7 419.7,414.4 419.8,416.2 420,416.1 420.1,416.4 420.3,415.9 420.6,416.4 420.8,415.6 421.1,416 421.4,414.4 421.7,413.3 422,412.5 422.2,411.7 422.5,411.8 422.8,411.7 423,412.2 423.1,411.2 423.2,412.7 423.2,413.6 423.3,414 423.4,413.7 423.4,412.2 423.5,415.1 423.6,415.7 423.6,413.8 423.7,415.4 423.7,416.1 423.8,418 423.9,418.3 423.9,418.1 424,418.5 424,419.2 424.1,419.6 424.2,422.4 424.2,423.6 424.3,422.1 424.4,424.3 424.5,425.6 424.5,423.9 424.6,425.6 424.7,425.7 424.8,427.8 424.9,427.9 425,425.6 425.4,427.2 425.9,430 426.3,429.8 426.9,430 427.4,431.1 427.9,431 428.4,431.4 428.9,429.2 429.1,428.1 429.3,429.6 429.5,427.2 429.7,428.2 429.9,428.5 430.1,426.4 430.3,426.3 430.5,424.2 430.7,423.5 430.9,424.1 431.1,424.1 431.3,423.9 431.4,420.4 431.6,422.6 431.8,421 432,420.2 432.2,420.2 432.4,420.7 432.7,420.3 432.9,420 433.2,422.7 433.4,422.8 433.6,423.2 433.9,424.3 434.1,425.8 434.4,424.1 434.6,426.7 434.9,427.3 435.1,426.3 435.4,427.3 436,427.3 436.6,426.5 437.2,427 437.8,425.9 438.4,428.1 439,425.9 439.4,427.5 439.6,427.6 439.8,429.2 439.9,429 440,428.1 440.1,428.7 440.1,428.2 440.2,428.8 440.3,430.2 440.3,432.8 440.4,430.9 440.6,432.1 440.7,434.4 440.8,434 440.8,433.9 440.9,436.6 441,434.3 441.1,436.4 441.2,436.4 441.2,436.6 441.3,436.6 441.4,437 441.5,438.3 441.6,439.8 441.7,439.5 441.8,440.9 441.9,441.8 442,440.2 442.1,442.9 442.2,442.6 442.2,442.7 442.3,443.6 442.4,445.3 442.5,444.4 442.6,444.1 442.7,447.3 442.8,445.4 442.9,446 443,448.5 443.1,447.9 443.2,448.5 443.3,450.2 443.4,451.5 443.4,450.3 443.5,452.5 443.6,452.1 443.6,452.6 443.7,452.9 443.8,451.9 443.8,452.9 443.9,455 444,455.6 444.1,454.3 444.1,456.5 444.2,456.6 444.3,457.5 444.3,457.5 444.4,457.5 444.5,458.5 444.6,460.9 444.6,459.2 444.7,461.8 444.8,461.4 444.8,460.6 444.9,463.4 445,461.6 445.2,464.8 445.4,466.6 445.6,468.3 445.8,469.9 445.9,471.6 446.1,473.3 446.3,474.6 446.4,475.8 446.5,477.1 446.6,478.4 446.7,479.7 446.8,480.9 446.9,482.2 447,483.4 447.2,485.2 447.3,486.9 447.5,488.4 447.6,489.8 447.8,491.1 448.1,493.1 448.6,494.9 450.4,495.3" fill="none" stroke="#70a9dc" stroke-width="1.2" stroke-linejoin="round" stroke-linecap="round" opacity="1.0" /><polyline points="450.4,495.3 451.3,494.1 451.6,492.6 451.9,492.8 452.2,491.8 452.5,490.6 452.9,490.4 453.2,490.5 453.5,488.9 453.8,488.8 454.2,489 454.5,489.9 454.9,489.4 455.2,489.8 455.6,490.9 455.9,491.4 456.3,491.8 456.7,492.5 457,492.3 457.4,492.7 457.8,493.1 458.3,493.5 458.8,494.9 459.3,495.5 459.8,494.5 460.3,495.1 460.8,494.8 461.3,495.6 461.8,496.2 462.3,496.3 462.9,496.9 463.5,496.6 464.2,496 464.8,496.7 465.4,496.9 466,496.8 466.6,496.3 467.2,497.1 467.7,496.8 468.3,497 468.9,496.3 469.4,495.6 470,495.6 470.5,495.1 471,495.2 471.4,494.4 471.7,493.8 472.1,493.9 472.4,492.8 472.8,492.1 473.1,491.6 473.4,492 473.8,491.7 474.1,491.4 474.5,490.9 474.9,491 475.4,491.5 475.8,491.4 476.3,492.1 476.8,492.9 477.3,493.3 477.8,493.7 478.3,494 478.9,493.8 479.3,493.2 479.7,493.1 480.1,493.3 480.5,492.5 480.9,492.7 481.3,491.5 481.8,491.4 482.2,490.1 482.7,489.8 483.1,490.2 483.6,488.8 484.1,489.1 484.5,487.9 485,488.6 485.5,488.3 486,489 486.6,489.1 487.1,489.2 487.7,488.8 488.3,489.6 488.8,489.1 489.4,489.9 489.9,490 490.5,490.4 491,490.2 491.5,490.2 492,490.6 492.5,490.6 492.9,490.2 493.4,490.4 493.8,489.4 494.2,488.4 494.6,488.6 495,487.6 495.4,488 495.8,486.3 496.2,486.3 496.6,486.1 496.9,486.2 497.3,485.1 497.8,484.5 498.3,484.6 498.7,484.3 499.2,484.1 499.7,483.4 500.1,482.2 500.5,483.2 500.9,482.8 501.3,481.9 501.7,482 502.5,482.3 503.1,482.9 503.6,482.8 504.3,481 504.4,480.7 504.6,480.7 504.7,480.4 504.9,479.7 505,479.8 505.2,479.2 505.3,478 505.5,477.8 505.6,476.3 505.8,476.8 506,475 506.1,474.2 506.3,473.8 506.5,473.9 506.6,472.8 506.8,472.3 506.9,471.9 507.1,470.8 507.2,471.1 507.4,470.8 507.5,469.7 507.7,469.8 507.8,469.8 508,469.3 508.3,468.7 508.5,469.9 508.7,470.2 508.9,471.5 509.1,471.3 509.4,471.8 509.6,472.8 509.8,473.6 510,474.6 510.2,474.8 510.4,475.3 510.9,475.8 511.5,474.8 512,474.7 512.6,474.1 513.1,473.7 513.3,475 513.5,475.1 513.7,475.9 513.9,476.5 514.1,475.8 514.4,477.4 514.6,477.6 514.8,478.9 515,478.4 515.2,480.1 515.5,480.2 515.7,480.3 515.9,481.3 516.1,482.5 516.3,481.8 516.5,482.8 516.7,482.9 516.9,483.4 517.1,485.2 517.3,485.3 517.6,485.9 517.8,487 518,486.3 518.2,488.2 518.4,488.4 518.6,489 518.8,489.5 519,489.2 519.2,489.1 519.6,491.4 520,491.5 520.4,492.3 520.7,492.7 521.1,492.5 521.4,493.3 521.8,493.1 522.2,492.7 522.7,492.8 523.1,492.4 523.5,491.6 524,491.6 524.5,491.2 524.8,490.3 525.1,489 525.4,489.2 525.7,488.7 526,488.4 526.4,487.1 526.7,486.4 527,486.1 527.4,485.4 527.7,486 528,484.6 528.5,485.4 529,486.1 529.5,485.4 529.9,486.1 530.4,487.8 531,487.1 531.5,487.8 531.8,486.4 532.2,486.8 532.5,485.7 532.8,485.5 533.2,484.6 533.5,485 533.9,484.1 534.3,483.4 534.6,483 535,483 535.4,482.1 535.8,481.8 536.2,481.6 536.7,482.7 537.2,482.9 537.7,482.5 538.2,483.3 538.7,484.4 539.2,484.1 539.7,485 540.2,484.8 540.6,485.5 541.1,486.2 541.6,486.5 542.1,486.9 542.5,487 543,487.3 543.4,488.6 543.8,489.5 544.3,489.3 544.7,490.1 545.1,489.7 545.5,488.8 545.7,489.3 545.8,488.9 546,488.2 546.1,487.6 546.3,488.3 546.5,487.2 546.6,486.8 546.8,485.2 546.9,485.6 547.1,484 547.2,483.8 547.4,483 547.5,482.3 547.7,482.2 547.8,480.7 547.9,481.1 548.1,480.3 548.2,479.2 548.3,479.2 548.5,478.2 548.6,478.2 548.7,477.2 548.9,477.5 549,476.9 549.7,475.5 550.3,475.5 550.9,475.5 551.6,476.5 551.7,477.4 551.8,477.1 551.9,477.8 552,478.7 552.1,478.4 552.1,479.3 552.2,479.6 552.3,480.5 552.4,480.8 552.5,482.2 552.6,483.1 552.7,483.3 552.8,484.3 552.9,485.1 553,485.9 553.1,486.6 553.2,487.1 553.3,488 553.4,488.7 553.6,489.1 553.7,490.2 553.8,490 553.9,491.4 554,491.9 554.1,492.4 554.2,493 554.3,494 554.4,494.3 554.5,494.6 554.6,495.4 554.7,495.7 554.8,495.1 554.9,496.2 555,496.4 555.1,496.1 555.2,496.6 555.4,495.5 555.5,496.3 555.6,495.2 555.8,495.1 555.9,494.9 556,494.3 556.2,493.9 556.3,492.7 556.4,492 556.5,492.3 556.7,491 556.8,490.2 556.9,490.1 557.1,489.5 557.2,488.4 557.3,488 557.5,486.6 557.6,486.7 557.8,485.6 557.9,485.2 558.1,484.6 558.3,483.8 558.4,483.6 558.6,482.9 558.9,481.8 559.1,480.7 559.4,480.6 559.7,480.3 560,478.9 560.3,479.2 560.6,478.4 561,478 561.3,476.8 561.6,476.4 561.9,476.8 562.2,475.8 562.5,475.2 562.8,475.9 563.1,474.3 563.4,474.9 563.7,474.8 563.9,474.7 564.7,473.7 565.3,472.7 565.8,473.4 566.4,474.1 567,473.3 567.5,473.3 568,473.4 568.5,473 569,472.4 569.5,472.4 570,471.7 570.5,470.8 570.7,470 570.9,469.8 571.2,470.3 571.4,468.6 571.6,468 571.9,468.2 572.1,466.1 572.3,465.6 572.5,465 572.8,464.5 573,463.8 573.2,463 573.4,462.4 573.6,462.7 573.8,461.9 574,461.6 574.2,462.9 574.3,463.1 574.5,462.8 574.6,463.9 574.8,463.3 574.9,465 575.1,465.2 575.2,465.8 575.4,465.6 575.5,467.4 575.6,467.2 575.8,468.5 575.9,469.2 576,469.2 576.2,470.3 576.3,471.9 576.5,472.3 576.6,472.2 576.7,473.7 576.9,472.9 577,474.4 577.2,475.2 577.3,475.8 577.4,476.1 577.6,476.8 577.7,476.6 577.9,478 578,478.4 578.2,478.8 578.3,478.9 578.5,480 578.6,479.6 578.7,480.8 578.9,481.5 579,481.5 579.2,482.4 579.3,482 579.5,483.2 579.7,484.2 580,485.5 580.2,485.9 580.4,487.4 580.6,487.3 580.8,488.7 581,488.8 581.3,489 581.5,488.8 581.7,489.7 581.9,489.4 582,488.6 582.1,488.3 582.2,487.9 582.3,487.7 582.4,486.9 582.5,487.7 582.5,486.6 582.6,485.7 582.7,485.9 582.8,484.6 582.9,485.1 583,483.2 583.1,483.4 583.2,482.9 583.3,481.8 583.4,480.9 583.5,481.3 583.6,480.2 583.7,479.7 583.8,478.2 583.8,477.3 583.9,478 584,476.3 584.1,475.4 584.2,475.9 584.3,474.9 584.3,473.5 584.4,473.8 584.5,473.1 584.6,473.2 584.7,472.1 584.7,470.8 584.8,470.8 584.9,470.4 584.9,469.9 585,468.2 585.1,467.9 585.1,466.4 585.2,467.1 585.3,465.1 585.3,465.2 585.4,464.8 585.4,463.6 585.5,463.7 585.5,462.2 585.6,461.8 585.7,461.7 585.7,459.9 585.8,460.7 585.9,460.2 585.9,458.8 586,459.3 586.1,458.3 586.1,458 586.2,458.3 586.3,458.5 586.4,458 586.5,458 586.6,458.1 586.8,459.1 586.9,459.6 587,460.7 587.2,461.3 587.3,460.8 587.4,461.8 587.5,462.6 587.7,463.7 587.8,465.2 588,465.6 588.1,466.7 588.2,467.6 588.4,467.5 588.5,467.5 588.6,468.3 588.8,469.2 588.9,469.3 589.1,468.8 589.3,469.3 589.5,467.7 589.7,467.2 589.9,467 590,466.3 590.2,465.8 590.4,464.2 590.6,464 590.8,462.9 591.1,462.2 591.3,462.9 591.5,462.2 591.6,462.7 591.8,462.4 591.9,463.7 592.1,463.5 592.2,463.4 592.4,464.1 592.6,465.2 592.7,466 592.9,466.2 593,468.1 593.2,468.4 593.4,469.8 593.5,470.1 593.7,471.1 593.9,470.8 594,471.3 594.2,472.1 594.4,472.9 594.5,472.8 594.7,474.5 594.8,473.8 595,474.7 595.2,473.5 595.4,474.5 595.6,473.4 595.8,473.1 596,472.7 596.2,471.9 596.3,470.7 596.5,469.8 596.7,469.2 596.9,468.6 597.1,467 597.3,466.6 597.5,465.7 597.7,466.4 597.8,465.8 598,465.8 598.2,465.5 598.3,464.7 598.5,465.4 598.6,466.6 598.8,466.4 598.9,466.8 599,467.1 599.2,469 599.3,468.5 599.4,469.6 599.6,470.4 599.7,471.6 599.8,472.8 600,473.3 600.1,474.4 600.3,474.1 600.4,475.4 600.6,475.9 600.7,475.3 600.9,476.5 601,477.2 601.2,476 601.4,476.2 601.6,476.4 601.8,476.1 602,475.5 602.2,475.3 602.5,473.8 602.7,473.4 602.9,472.3 603.1,471.8 603.4,470.3 603.6,470.2 603.9,469.3 604.1,468.4 604.3,468 604.6,467.1 604.8,466.2 605,467 605.3,466.1 605.5,466.3 605.6,466.9 605.7,467 605.8,468 605.9,467.4 606,468.6 606.1,468.2 606.2,468.3 606.3,469.3 606.4,470 606.5,469.9 606.6,470.9 606.7,471.2 606.8,471.2 606.9,471.9 607,473 607.1,474.1 607.2,474 607.3,475.9 607.4,475.7 607.5,476 607.6,476.8 607.7,478.6 607.8,479.2 608,479.7 608.1,479.5 608.2,481.1 608.3,480.8 608.4,481.8 608.5,482.3 608.6,483.8 608.7,484.7 608.8,484.5 608.9,486.2 609,486.1 609.1,487.2 609.2,486.7 609.3,488.2 609.4,488.4 609.5,488 609.6,489.5 609.7,489.9 609.8,489.6 609.9,489.8 610.5,490.8 611,492.5 611.6,492.6 612.2,492.7 612.7,492.9 613.3,492 613.8,492.3 614.3,491 614.5,490.7 614.6,490.6 614.7,490.2 614.9,489.7 615,489 615.2,489.2 615.3,488.8 615.4,487.8 615.6,487.4 615.7,486.8 615.8,485.4 616,485.6 616.1,484.5 616.2,483.9 616.4,483.1 616.5,482.9 616.6,481.7 616.8,481.4 616.9,480.1 617,479.4 617.1,479.4 617.3,479.3 617.4,477.8 617.5,478.3 617.7,477.3 617.8,476.7 618.4,476.8 619,475.1 619.5,475.5 620.1,476.1 620.7,476.7 621.3,477.7 621.5,477.1 621.6,477.5 621.8,478.2 621.9,479.6 622.1,480.2 622.2,480.1 622.4,480.6 622.5,481.8 622.7,482.2 622.8,482.3 623,483.9 623.1,485.2 623.3,485.5 623.4,486.3 623.6,486 623.7,487.4 623.9,488.5 624,488 624.2,488.6 624.3,488.9 624.5,489.7 624.6,489.6 624.8,490.5 625,490.3 625.3,490 625.5,490.1 625.7,488.8 625.9,488.4 626.1,488 626.3,487.3 626.5,486.7 626.8,486.8 627,485 627.2,485.1 627.5,484.3 627.7,482.9 628,482.5 628.3,481.5 628.7,482 629.1,481.2 629.5,480.2 630,480.9 630.5,479.8 630.9,479.1 631.4,479 631.9,478.3 632.4,478.1 632.8,478.5 633.2,478.4 633.6,477.5 634.1,478.6 634.6,478.9 635,479.1 635.5,479.7 635.9,480.4 636.3,481.2 636.7,481.6 637.1,482 637.7,481.9 638.3,482 638.9,481.7 639.4,482.4 640,482.2 640.6,481.9 640.9,481.4 641.1,480.6 641.4,479.3 641.6,479.4 641.9,478.6 642.1,476.9 642.4,476.2 642.7,475.7 642.9,474.5 643.2,475.3 643.4,473.5 643.6,474.3 643.9,474.7 644.1,473.8 644.2,474.7 644.2,474.9 644.3,476 644.4,476.4 644.5,476.2 644.5,476.9 644.6,477.6 644.7,477 644.7,477.5 644.8,478.9 644.9,480 644.9,480.3 645,481.3 645.1,480.9 645.1,481.7 645.2,482.3 645.2,483.6 645.3,484.9 645.4,484.5 645.4,485.7 645.5,486.4 645.5,487.3 645.6,487.7 645.7,488.6 645.7,488.7 645.8,489.4 645.8,490.8 645.9,490.9 646,492.3 646,492.6 646.1,493.2 646.1,493.6 646.2,494.9 646.3,494.7 646.3,495.9 646.4,495.1 646.5,496.3 646.5,495.9 646.6,497.3 646.6,496.2 646.7,497.5 646.8,497.5 646.9,496.9 647,496.2 647.1,496.9 647.2,496.5 647.3,496.1 647.4,495.3 647.5,494.8 647.6,493.4 647.7,493 647.8,492.6 647.9,490.8 648,489.8 648.1,489.1 648.3,487.8 648.4,488.3 648.5,486.5 648.6,485.5 648.7,485.3 648.8,485 648.9,485.2 649,484.1 649.2,484.6 649.3,484.6 649.4,484.8 649.6,484.3 649.7,484.7 649.9,484.9 650,485.7 650.2,486 650.3,485.7 650.5,486.8 650.6,488.2 650.8,488.2 650.9,489.5 651.1,490.3 651.2,491 651.4,491.7 651.6,491.8 651.7,492.8 651.9,494 652.1,494.1 652.2,494.9 652.4,494.7 652.6,495.7 652.7,496.2 652.9,496 653.5,497.3 654.1,497.6 654.7,499.5 655.3,498.5 655.9,499.2 656.6,497.9 657.2,497.7 657.3,497.3 657.4,496.4 657.5,495.6 657.6,495 657.7,495 657.8,494.4 658,493.7 658.1,494.2 658.2,493.1 658.3,491.8 658.4,491.6 658.5,490.8 658.6,490.8 658.7,489.8 658.8,488.2 659,488.3 659.1,487.5 659.2,486.5 659.3,486 659.4,485 659.5,484.1 659.6,483.6 659.7,484 659.8,481.9 659.9,481.9 660.1,481.6 660.2,481.1 660.3,479.8 660.4,479.6 660.5,478.7 660.6,478.3 660.7,477.1 660.8,477.6 660.9,477.2 661,476 661.1,476.1 661.2,475.2 661.3,475.8 661.4,474.6 661.5,474.5 661.6,474.8 661.7,474.5 661.9,474.8 662,474.5 662.1,475.6 662.3,475.2 662.4,475.6 662.5,476.8 662.7,477.8 662.8,478.2 662.9,479.1 663,479.1 663.2,480.1 663.3,481.2 663.4,481.6 663.5,482.6 663.6,484 663.8,483.8 663.9,485.4 664,485.7 664.1,486.4 664.2,487.9 664.4,488.5 664.5,488 664.6,488.5 664.7,489.3 664.9,489.8 665,489.9 665.1,490.4 665.3,490 665.4,489.6 665.6,490.5 665.7,490.1 665.9,489.4 666,488.8 666.2,488.4 666.3,487.4 666.5,486.3 666.6,484.7 666.8,484.2 666.9,483.9 667.1,483 667.2,482.7 667.4,480.7 667.5,480.6 667.7,479.4 667.8,479.1 668,478.7 668.1,478.9 668.3,478.6 668.4,478.3 668.6,477.9 668.7,478.1 668.9,478.6 669,478.8 669.2,478.4 669.3,479.8 669.5,480.1 669.6,480.5 669.7,481 669.9,481.4 670,481.5 670.2,482.1 670.3,482.8 670.5,483.4 670.6,484.4 670.8,486.3 670.9,486.4 671,486.3 671.2,488.2 671.3,487.8 671.5,488.9 671.6,489.8 671.7,489.9 671.8,491.4 672,491.2 672.1,491.9 672.4,493.2 672.7,493.2 673,494.6 673.3,495.2 673.6,495.4 673.9,495.5 674.2,497 674.4,496.5 674.6,496.7 674.8,497.2 675.1,496.5 675.2,496.2 675.3,495.1 675.3,494.9" fill="none" stroke="#6fa8dc" stroke-width="1.15" stroke-linejoin="round" stroke-linecap="round" opacity="1.0" /><polyline points="378.9,397 379.2,398.3 379.6,399.8 379.9,401.1 380.3,402.9 380.5,404.5 380.7,406.4 380.9,408.7 381,410 381.1,411.5 381.2,412.7 381.3,414 381.3,415.4 381.4,416.9 381.5,418.4 381.6,420 381.7,421.7 381.8,423.4 381.9,425.2 381.9,426.4 382,427.6 382.1,428.9 382.1,430.1 382.2,431.3 382.2,432.6 382.3,433.9 382.4,435.1 382.4,436.4 382.5,437.7 382.5,438.9 382.6,440.2 382.7,441.5 382.7,442.7 382.8,443.9 382.8,445.2 382.9,446.4 383,448.2 383,449.9 383.1,451.6 383.2,453.3 383.3,454.8 383.3,456.4 383.4,457.8 383.5,459.1 383.5,460.8 383.6,462.5 383.7,464.1 383.7,465.8 383.8,467.5 383.8,469.2 383.9,470.9 383.9,472.6 384,474.2 384,475.7 384,477.2 384.1,478.7 384.1,480 384.2,481.2 384.2,482.9 384.2,484.3 384.3,485.6 384.6,484.4 384.6,483.1 384.7,481.5 384.7,480.1 384.8,478.7 384.8,477.1 384.8,475.4 384.9,473.6 384.9,472.4 384.9,471.1 384.9,469.8 384.9,468.5 385,467.2 385,465.8 385,464.4 385,463 385.1,461.6 385.1,460.2 385.1,458.8 385.1,457.4 385.1,456 385.2,454.6 385.2,453.3 385.2,451.9 385.2,450.6 385.3,449.3 385.3,448 385.3,446.7 385.4,445.5 385.4,443.7 385.4,442.1 385.5,440.5 385.5,438.7 385.6,437.4 385.6,436.1 385.7,434.8 385.7,433.5 385.7,432.2 385.8,430.9 385.8,429.6 385.9,428.4 385.9,427.1 386,425.8 386,424.6 386.1,423.3 386.1,422.1 386.2,420.9 386.2,419.1 386.3,417.4 386.4,415.7 386.4,414.1 386.5,412.6 386.6,411.1 386.7,409.7 386.8,408.4 386.8,407.2 386.9,405.7 387,404.9 387.2,402.9 387.3,400.9 387.5,402.1 387.6,398.7 387.8,399.7 388,400.5 388.2,397.9 388.3,399.2 388.6,399.3 388.8,397.5 389,398.4 389.4,399.4 389.7,398.8 390.1,399.9 390.6,398.7 391,399.5 391.5,399.7 391.9,401.5 392.3,403.4 392.6,402.8 392.9,403.8 393.1,403.2 393.4,404.8 393.6,403.5 393.9,404.6 394.2,406.3 394.5,407 394.8,406.5 395.1,405.9 395.5,406.8 396,406.8 396.5,407.1 397.1,408.5 397.8,406.5 398.4,408.4 399,408.3 399.6,405.8 400.2,407 400.6,407.8 401,407.2 401.1,408.7 401.2,410.5 401.3,408.6 401.3,410.5 401.4,409.6 401.4,411.5 401.5,413.1 401.5,411.6 401.6,411.7 401.6,412.6 401.6,414.7 401.6,413.8 401.7,414.8 401.7,416.7 401.7,418.8 401.7,418 401.7,418.7 401.7,420.1 401.7,419.2 401.7,421.4 401.7,420.8 401.7,422.8 401.8,424.5 401.8,422.4 401.8,424.4 401.8,425.1 401.8,424.2 401.8,425 401.9,427.6 401.9,427.9 401.9,425.5 402,427.5 402,428.4 402.1,426.3 402.2,427.3 402.2,425.4 402.3,426 402.4,426.5 402.5,425.7 402.6,425.7 402.7,422.9 402.8,423 402.9,423.8 403,422.1 403.1,420.9 403.2,419.9 403.3,420.9 403.4,418.9 403.5,416.5 403.6,418.1 403.7,416.1 403.8,415.9 404,414.8 404.1,415.1 404.2,414.6 404.5,413.7 404.7,415.3 405,414 405.3,416.4 405.6,414.6 405.9,417.5 406.2,418.2 406.5,418.1 406.8,419.5 407.2,418.9 407.5,421.2 407.7,420.7 407.8,420.5 408,423.2 408.2,422.1 408.3,422.6 408.5,424.6 408.7,423.8 408.9,425.3 409.1,424.4 409.2,427.1 409.4,426 409.6,426 409.8,429.4 410,427.6 410.2,430.5 410.4,431.2 410.6,430.6 410.8,429.3 411,429.9 411.2,430.8 411.4,431.7 411.6,432.6 411.8,433.9 412.3,432.3 412.7,431.6 413.2,432.6 413.7,430.9 414.2,430.2 414.8,431 415.3,430.8 415.8,428.4 416.3,429.2 416.7,429.8 417.2,430 417.5,429 417.8,430.9 418.2,429.1 418.5,431.2 418.8,431.8 419.1,432.7 419.3,432.2 419.6,431.6 419.9,432.1 420.2,434.2 420.5,433.7 420.8,435.7 421,434.6 421.3,437.2 421.6,436 422,435.7 422.4,436.4 422.8,437.1 423.2,437.3 423.6,436.7 424,436 424.4,437.1 424.7,438.9 425,438.5 425.3,441 425.6,440.1 425.6,443.3 425.7,443.3 425.7,442.7 425.7,443 425.8,443.5 425.8,445 425.8,443 425.8,445.2 425.9,445.4 425.9,445.2 425.9,447 425.9,447.6 426,446.3 426,448.7 426,448.6 426,449.3 426.1,450.4 426.1,449.3 426.1,451.6 426.1,451.6 426.1,453.9 426.2,452.6 426.2,455.1 426.2,455.5 426.2,456 426.2,457.4 426.2,455.7 426.2,458.1 426.3,458.9 426.3,459.9 426.3,459.8 426.3,459.5 426.3,460.7 426.3,462.7 426.3,462.2 426.4,462.6 426.4,464.2 426.4,465.3 426.4,466.2 426.4,465.5 426.4,468.4 426.4,467.9 426.4,469.9 426.4,468.3 426.5,471.9 426.5,471.5 426.5,473.3 426.5,474 426.5,474.2 426.5,472.7 426.5,474.1 426.5,474.3 426.5,476.6 426.6,475.4 426.6,476.1 426.6,476.3 426.6,476.9 426.6,479.9 426.6,480.5 426.6,479.1 426.6,480.7 426.7,480.3 426.7,480.9 426.7,480.8 426.7,482 426.7,481.1 426.7,481.5 426.7,482.5 426.8,481.8 426.8,482.8 426.8,484.5 426.8,481.9 426.8,482.2 426.9,484.4 426.9,482.2 426.9,482.9 426.9,484.6 426.9,483.9 427,482.6 427,482 427,482.5 427,482.4 427.1,483.7 427.1,484 427.1,483.2 427.1,483.2 427.1,483 427.2,482.5 427.2,482.2 427.2,482 427.2,478.9 427.3,479.1 427.3,478.4 427.3,479 427.3,478.2 427.3,477.2 427.4,478.1 427.4,476.2 427.4,475.1 427.4,474.6 427.5,474.6 427.5,474.4 427.5,473.6 427.5,472.6 427.5,471.1 427.6,471.1 427.6,470.1 427.6,469 427.6,469.4 427.7,467.6 427.7,468.4 427.7,467.5 427.7,465.2 427.8,465.9 427.8,464.3 427.8,463.9 427.8,463.6 427.9,463.3 427.9,462.9 427.9,461.7 427.9,459.4 428,459.6 428,458.2 428,456.6 428.1,457.4 428.1,456.4 428.1,456.9 428.1,454.5 428.2,455.4 428.2,453.7 428.2,451.8 428.3,452.9 428.3,451 428.3,451.1 428.4,449 428.4,448.2 428.4,450.3 428.5,447.1 428.5,446.8 428.5,446.3 428.6,445.6 428.6,447.2 428.6,447.2 428.7,445.7 428.7,444.5 428.7,445.6 428.8,444 428.8,442.5 428.9,443.8 428.9,442.5 429.1,440.6 429.4,439.3 429.7,438.5 430,437 430.3,437.7 430.6,438 430.9,436.8 431.2,435 431.5,436.9 431.9,434.9 432.2,436.3 432.5,437.4 432.8,436.8 433.2,437.6 433.5,437.4 433.9,436.4 434.3,436.6 434.7,438.2 435.1,439.6 435.4,439 435.8,439.9 436.2,441.7 436.5,440.9 436.8,441.8 437.2,441.4 437.6,442 437.9,438.4 438.3,437.9 438.6,438.9 438.9,437.9 439.1,436 439.4,436.5 439.5,437 439.5,438.2 439.6,439.6 439.6,437.9 439.7,438.3 439.7,440.1 439.8,439.8 439.8,441.5 439.8,442.5 439.9,442.8 439.9,442.7 439.9,442.6 439.9,441.9 440,444.8 440,444.2 440,445 440.1,446.2 440.1,447.9 440.1,447.3 440.2,449.1 440.2,449.9 440.3,448 440.3,449.5 440.4,451.8 440.5,452.1 440.5,453.4 440.6,451.8 440.7,453.5 440.8,455.2 440.8,454.5 440.9,455.4 441,456.8 441.1,454.9 441.1,455.1 441.2,458 441.3,457.7 441.4,457.1 441.5,459.6 441.6,458.5 441.7,458.6 441.8,459.7 441.9,459.4 442,461.1 442.1,462.8 442.2,462.4 442.3,464.6 442.4,462.4 442.5,463.4 442.6,463.9 442.7,465.7 442.8,465.2 442.9,467.2 443,467.3 443.1,468.1 443.2,469.5 443.3,469.9 443.4,470.8 443.5,469.1 443.6,470.3 443.7,472.6 443.8,471.4 443.9,471.6 444,472.7 444.1,472.4 444.2,474.9 444.3,474.7 444.4,473.6 444.5,476.6 444.6,475.8 444.7,475.7 444.9,477.4 445.2,478.5 445.4,479.8 445.7,481.1 446,482.3 446.4,484.1 446.7,485.8 447.1,487.2 447.5,488.6 447.9,490 448.4,491.4 450,492 450.8,490.3" fill="none" stroke="#80b3dd" stroke-width="1.3" stroke-linejoin="round" stroke-linecap="round" opacity="1.0" /><polyline points="450,492 450.8,490.3 451.2,489.6 451.4,488 451.7,486.8 451.9,486.3 452.1,485.4 452.4,485.5 452.6,484.5 452.9,484.8 453.1,483.4 453.3,482.8 453.6,483.3 453.8,482.8 454,483.2 454.2,483.3 454.4,483.6 454.6,484.7 454.8,485.7 455,485.4 455.2,486.5 455.4,486.7 455.6,488.3 455.8,488.5 456,488.4 456.2,490.3 456.4,490.2 456.6,490.6 456.8,491.2 457,493.1 457.2,493.4 457.4,493.3 457.6,494 457.8,494.4 458.3,493.7 458.8,494.5 459.3,494.1 459.8,493.9 460.3,491.9 460.8,492 461.3,491.4 461.8,491.6 462.3,490.8 462.6,491.5 463,492.1 463.3,491.7 463.6,492.5 464,493.6 464.3,492.9 464.6,494.9 464.9,494.6 465.3,495.4 465.6,495.6 465.9,496.8 466.3,496.8 466.6,497.4 467.2,496.6 467.7,497.8 468.3,497.6 468.9,497.1 469.4,496.1 470,495.9 470.5,495.8 471,494.9 471.5,495.9 471.9,494.7 472.3,495.1 472.8,493.5 473.2,493.7 473.6,493.5 474,492.9 474.5,492.3 475,491.5 475.5,491.9 476,491.7 476.5,492.4 477.1,492.4 477.7,492.3 478.3,492.3 478.9,491.1 479.4,490.9 479.9,491.4 480.4,491.2 481,491.6 481.5,492.5 482.1,492.1 482.6,492.9 483.2,492.6 483.8,492.4 484.4,493.3 485,491.8 485.3,492.6 485.6,491.7 486,491.6 486.3,490.4 486.6,490.8 487,490.5 487.3,488.9 487.7,488.8 488,488.5 488.4,487.6 488.7,487.5 489.1,486.7 489.4,485.7 489.8,485.6 490.1,485.2 490.4,484.3 490.8,484 491.1,483.6 491.4,483 491.7,482.1 492,482.4 492.7,482.6 493.3,482.4 493.9,481.5 494.5,482.4 495.1,482.8 495.7,483 496.2,482.7 496.8,483.5 497.3,483.5 497.7,483 498.1,483.2 498.5,482.2 498.9,480.8 499.3,480.6 499.7,480.7 500,479.2 500.4,480 500.7,479.1 501.1,478.9 501.4,477.8 501.7,477.5 502,479 502.3,478.8 502.5,479.4 502.7,480.2 503,481.4 503.2,481.6 503.4,483 503.6,482.8 503.8,484.5 504,484.4 504.3,483.9 504.5,484 504.7,484.4 504.9,483.2 505.1,483.3 505.4,483.1 505.6,482.6 505.8,480.9 506.1,481 506.3,480.1 506.5,479.7 506.7,477.9 507,477.8 507.2,477.2 507.4,477.2 507.6,476.2 507.8,475.2 508.3,474.7 508.7,475.1 509.1,474.9 509.6,474.1 510,473 510.4,473.5 510.7,473.2 510.9,471.7 511.2,471.2 511.5,470.2 511.7,469.1 512,469.4 512.3,468 512.6,467.5 512.8,468.6 513.1,467.5 513.2,468.7 513.4,469 513.5,468.5 513.6,469 513.7,469.2 513.9,470.4 514,471.3 514.1,471.5 514.2,471.7 514.4,472.4 514.5,472.8 514.6,473.9 514.7,473.9 514.9,474.6 515,475.9 515.1,476 515.3,477.8 515.4,478 515.5,477.9 515.7,478.3 515.8,479.6 515.9,479.4 516.1,480.5 516.2,481.2 516.3,482.1 516.4,482 516.6,482.9 516.7,483.9 516.8,483.4 517,484.4 517.1,485.7 517.2,485.6 517.4,487.1 517.5,486.4 517.7,487 517.8,488 517.9,488.8 518.1,489.2 518.2,489.5 518.3,490.4 518.5,491.6 518.6,492.2 518.7,492.2 518.8,492 519,492.9 519.1,492.7 519.2,492.9 519.6,495.2 520,495.3 520.4,495.9 520.7,497.4 521.1,496.6 521.4,496.8 521.8,496.5 522,497.4 522.1,496.7 522.3,495.6 522.5,495 522.7,495.7 522.8,493.9 523,494.2 523.2,493.5 523.4,492.6 523.5,491.8 523.7,491 523.9,490.1 524.1,490 524.3,488.7 524.5,488.6 524.7,487.7 524.9,487.2 525.1,487.3 525.4,486.1 525.6,485.5 525.8,484.7 526.1,483.1 526.3,483.5 526.6,483.1 526.8,482.3 527,481.5 527.3,481.7 527.5,481.6 527.8,480.5 528,480.4 528.1,480.9 528.3,480.6 528.4,481.3 528.6,481.5 528.7,481.9 528.9,483.1 529,483.1 529.1,484.5 529.3,485.8 529.4,486.3 529.6,486.1 529.7,487.9 529.8,487.8 530,489.5 530.1,490 530.3,490.6 530.4,491.1 530.6,492.5 530.7,491.9 530.9,493.4 531,492.8 531.2,492.9 531.3,493.3 531.5,493.2 531.7,494.4 531.9,493.3 532.1,493.6 532.3,492.8 532.5,492.5 532.8,492.6 533,491.7 533.2,490.6 533.4,490.6 533.7,489 533.9,488.1 534.1,488.3 534.3,487.8 534.6,487 534.8,486.3 535.1,486 535.3,485.5 535.5,484.5 535.8,483.6 536.3,483.7 536.9,483.2 537.5,483.4 538.1,482.8 538.8,482.4 539.4,482.6 540,482.6 540.5,483.5 541.1,483.4 541.7,483.2 542.3,483.1 542.9,483.9 543.4,483.8 544,484 544.5,483.6 545,484.7 545.5,483.4 545.7,483.1 546,482.3 546.2,482.2 546.4,481.6 546.6,480.9 546.8,480.7 547.1,479.4 547.3,479.1 547.5,478.5 547.7,477 547.9,477.3 548.1,475.6 548.3,475.3 548.4,475.7 548.6,474.2 548.8,474.1 549,474.1 549.3,474.8 549.6,474.8 549.9,473.9 550.2,474.9 550.4,475.7 550.7,476 551,476.5 551.3,477.3 551.6,478.3 551.7,478.7 551.8,479.1 551.9,480.6 552,481 552.1,480.8 552.2,482.7 552.3,483.4 552.4,483.2 552.5,483.9 552.6,485.4 552.7,485.8 552.8,486.7 553,486.6 553.1,488.2 553.2,488.5 553.3,488.7 553.4,489.4 553.5,490.4 553.6,491.1 553.7,491.8 553.9,493.4 554,493.2 554.1,493.5 554.2,493.9 554.3,494.3 554.4,495.2 554.5,495.6 554.7,495.4 554.8,496.2 554.9,496.1 555,495.7 555.1,496.4 555.2,495.8 555.3,495.7 555.4,496.3 555.5,495.6 555.5,495.2 555.6,495.1 555.7,494.9 555.8,494.3 555.9,494.3 556,493.4 556,492.3 556.1,492.6 556.2,490.5 556.3,490.1 556.4,489.4 556.4,489 556.5,488.3 556.6,487.6 556.7,487.2 556.8,486.1 556.9,485.5 556.9,485.1 557,484.7 557.1,484 557.2,482.4 557.3,481.7 557.4,481.9 557.5,481 557.6,480.4 557.7,478.6 557.8,478.2 557.9,477.9 558,477.2 558.1,476.9 558.2,477.1 558.3,475.9 558.4,475.7 558.5,475.1 558.6,475.2 559.1,474.5 559.6,473.6 560.1,473.5 560.7,474.9 561.3,475.5 561.9,475.4 562.4,475.8 563,476.4 563.5,477.7 563.9,478.1 564.4,479 564.8,479.2 565.2,479.6 565.6,480.1 565.9,481.1 566.2,481.5 566.6,480.6 567,480.6 567.4,480.5 567.8,480.1 568.1,481 568.5,480.7 568.9,479.5 569.3,479.3 569.7,478.5 570.1,477.9 570.5,476.9 570.8,477.3 571,475.8 571.3,475 571.6,474.4 571.9,474.9 572.2,474.3 572.4,473.8 572.7,473.1 573,471.8 573.3,471.5 573.5,471 573.8,471.5 574,470 574.6,470.3 575.1,471 575.6,471.4 576.1,471.1 576.6,472 576.9,472.4 577.1,472.9 577.4,473.7 577.7,473.4 578,475.1 578.2,475.1 578.5,475.9 578.8,476 579,477.3 579.3,476.8 579.5,478.4 579.7,478.1 579.9,479.2 580.1,480 580.2,480.9 580.4,481.5 580.6,482.5 580.8,482.2 581,483.6 581.2,484.1 581.3,484.7 581.5,484.2 581.7,485.2 581.9,484.2 582,484 582.1,483.8 582.2,484.9 582.4,483.3 582.5,483.7 582.6,482.3 582.7,482.6 582.8,481.4 583,481.4 583.1,481 583.2,480.3 583.3,479.4 583.4,479 583.5,477.2 583.7,476.6 583.8,476.1 583.9,475.8 584,475.5 584.1,473.7 584.2,473.3 584.3,473.2 584.4,472.3 584.5,471.3 584.6,471.1 584.7,470.1 584.8,469.4 584.8,470 584.9,468.5 585,468.4 585.1,467 585.1,467 585.2,466.5 585.3,464.5 585.3,464.7 585.4,464.5 585.5,463.6 585.5,462 585.6,462.3 585.7,461.8 585.7,460.4 585.8,460.6 585.9,460.2 586,459.2 586,459.8 586.1,459.6 586.2,458.3 586.3,458.8 586.4,459 586.5,458.3 586.6,459.4 586.7,460.4 586.8,460 587,460.8 587.1,462.1 587.2,462.7 587.3,463.6 587.4,463 587.5,465.2 587.7,465 587.8,465.8 587.9,466.3 588,468 588.2,468.3 588.3,468.8 588.4,469.4 588.5,469.9 588.7,470.4 588.8,470 588.9,471.1 589.1,470.4 589.3,469.8 589.4,470.8 589.6,468.9 589.8,469.2 590,468.3 590.1,467 590.3,466.4 590.5,465 590.7,464.2 590.9,464.6 591.1,464 591.3,463.8 591.5,463.3 591.6,462.9 591.8,464.3 591.9,464.9 592.1,464.4 592.2,465.4 592.4,465.3 592.6,467.1 592.7,467.4 592.9,467.2 593,468.9 593.2,469.6 593.4,470 593.5,471 593.7,472.2 593.9,472.5 594,472.9 594.2,474.2 594.4,474.3 594.5,474.9 594.7,475 594.8,475.5 595,475.7 595.2,475.4 595.5,475.1 595.7,474.3 595.9,474.3 596.2,473.7 596.4,472.4 596.6,471.1 596.9,471.2 597.1,470.3 597.3,469.6 597.5,468.3 597.8,469 598,468.5 598.2,468.7 598.3,467.9 598.5,468.4 598.6,469.1 598.7,468.8 598.8,470.8 598.9,470.2 599.1,470.8 599.2,472.4 599.3,472.3 599.4,473.5 599.5,474.4 599.6,474.5 599.7,475 599.9,476.8 600,477.8 600.1,478.3 600.2,477.9 600.4,478.9 600.5,479.6 600.6,479.5 600.8,481.2 600.9,481.4 601.1,481.8 601.2,481.9 601.4,481.7 601.6,480.7 601.8,481 602,480.9 602.2,479 602.4,478.5 602.6,479.2 602.8,477.1 603,477.5 603.3,475.9 603.5,474.9 603.7,474.3 603.9,474.4 604.2,473.3 604.4,471.9 604.6,472.4 604.8,471.3 605.1,471.7 605.3,471 605.5,471.6 605.7,471.2 605.8,471.1 606,472.3 606.2,472.7 606.4,472.4 606.5,472.9 606.7,473.5 606.9,474.2 607.1,474.2 607.3,475.8 607.4,475.7 607.6,477.2 607.8,477.3 608,478.5 608.1,479.2 608.3,479 608.5,479.3 608.7,480.8 608.8,481.4 609,481.7 609.2,482.3 609.4,482.7 609.5,483 609.7,483.9 609.9,484.4 610.3,485.1 610.8,486.5 611.2,486.6 611.7,487.7 612.2,488.2 612.6,488.2 613,488.4 613.5,488.1 613.9,488.7 614.3,488.6 614.5,488.6 614.7,488 614.8,487.9 615,486.8 615.2,486.1 615.3,486.4 615.5,485.3 615.6,483.7 615.8,484.3 616,483.2 616.1,482.9 616.3,481.5 616.4,481.2 616.6,480.4 616.7,479.8 616.9,479.6 617,478.3 617.2,478.1 617.3,478 617.5,476.3 617.6,477.1 617.8,476.6 618.4,475.7 619,475.1 619.5,476.2 620.1,476.3 620.7,476.9 621.3,477.8 621.8,478.3 622.3,479.2 622.8,479.2 623.3,479.9 623.8,479.9 624.3,479.3 624.8,479.7 625.1,479.1 625.4,479.6 625.6,478.7 625.9,478.7 626.2,477.8 626.4,476.8 626.7,476.5 627,477 627.3,475.7 627.6,475.5 627.9,474.8 628.3,474.2 628.7,474.1 629.1,473.9 629.5,473 630,472.7 630.5,471.5 630.9,470.9 631.4,470.1 631.9,470.4 632.4,469.4 632.8,469.4 633.2,469.6 633.6,469.4 634,469.2 634.4,469.7 634.8,470.8 635.1,470.7 635.5,471.4 635.8,472.5 636.1,472.6 636.4,473.7 636.8,474.1 637.1,474.9 637.3,475.1 637.5,476.1 637.7,476 637.9,476.2 638.1,477.3 638.3,477.1 638.5,478.2 638.7,479.6 638.9,479 639,480.1 639.2,480.5 639.4,481.6 639.6,482.5 639.8,482.2 640,483 640.2,482.6 640.4,483.3 640.6,483.8 641.2,484.5 641.8,484.5 642.4,483.8 643,482.7 643.6,482.2 644.1,483.6 644.2,483.9 644.3,484.2 644.5,484.5 644.6,485 644.7,485.2 644.8,486.2 644.9,486.5 645,487.8 645.1,488.8 645.2,488.7 645.3,490.1 645.4,489.9 645.5,490.7 645.6,491.6 645.7,492.5 645.8,493.4 645.9,494 646,495.4 646.1,494.7 646.2,496.4 646.3,495.9 646.4,496.3 646.5,496.8 646.6,496.9 646.7,497.1 646.8,496.2 646.9,496.9 647,495.8 647.1,495.6 647.2,495.3 647.3,495.1 647.3,494.9 647.4,493.2 647.5,492.5 647.6,492.3 647.7,491.3 647.8,491.2 647.9,490.5 648,489.9 648.1,489.2 648.2,488.4 648.3,486.5 648.4,486.2 648.5,484.9 648.6,484.8 648.7,484.4 648.8,483.8 648.9,483.8 649,482.5 649.1,482.3 649.2,482.8 649.3,482.5 649.4,481.6 649.6,482 649.8,482.8 649.9,482.1 650.1,483.6 650.2,484.2 650.4,484.5 650.6,484.3 650.7,485.6 650.9,485.8 651.1,487.6 651.3,487.4 651.4,487.9 651.6,489.3 651.8,489.7 652,491.4 652.2,491 652.3,491.6 652.5,492.5 652.7,493.1 652.9,493.7 653.3,495.1 653.8,495.1 654.3,496.7 654.8,496.3 655.2,497.3 655.7,498.3 656.2,498.3 656.7,497.8 657.2,496.4 657.3,497.5 657.5,496.2 657.6,496.3 657.8,495 657.9,494.6 658,494.5 658.2,494.5 658.3,493.9 658.5,492.7 658.6,491.8 658.7,491.6 658.9,490.7 659,489.7 659.2,488.8 659.3,488 659.5,487.3 659.6,487.6 659.7,487.1 659.9,486.2 660,485.3 660.2,484.3 660.3,483.4 660.4,483.1 660.6,482.4 660.7,482.5 660.8,482.2 661,480.9 661.1,480.3 661.2,480.6 661.3,480.6 661.5,480.5 661.6,480.3 661.8,480 662,480.1 662.2,479.9 662.4,480.6 662.6,480.5 662.8,482.3 663,481.9 663.1,483.5 663.3,484.4 663.5,485.4 663.7,485.5 663.8,486.5 664,486.6 664.2,488.6 664.4,488.8 664.6,488.6 664.7,489.3 664.9,489.6 665.1,489.8 665.3,489.4 665.4,489.2 665.6,489.2 665.7,489.1 665.9,488.1 666.1,487.5 666.2,486.7 666.4,486.8 666.5,485.8 666.7,484.9 666.9,483.2 667,483.4 667.2,482.2 667.3,481.8 667.5,480.8 667.6,479.5 667.8,479.6 668,479.4 668.1,478.2 668.3,478.5 668.4,477.8 668.6,477.4 668.8,477.5 668.9,478.2 669.1,478.3 669.2,478.5 669.4,479.2 669.5,480.3 669.7,480.5 669.8,481.2 670,482.3 670.2,482 670.3,483.7 670.5,484.1 670.6,484.9 670.8,486 670.9,485.6 671.1,486.7 671.2,487.6 671.4,488.2 671.5,489.5 671.7,489 671.8,489.6 672,490.8 672.1,491.2 672.5,491.5 672.9,491.9 673.3,493.2 673.6,493.8 674,494.6 674.3,494.5 674.6,494.6 674.8,495.2 675.1,494.7 675.3,493.7 675.3,492.1" fill="none" stroke="#8dbbe2" stroke-width="1.15" stroke-linejoin="round" stroke-linecap="round" opacity="1.0" /><polyline points="378.9,456 379.1,457.4 379.3,458.9 379.4,460.7 379.6,462 379.7,463.4 379.9,464.8 380,466.4 380.2,467.9 380.4,469.4 380.6,471 380.7,472.5 380.9,474 381.1,475.5 381.3,476.9 381.5,478.2 381.7,479.4 382,481 382.2,482.2 382.7,483.5 383.4,481.9 383.6,480.7 383.8,479.2 384,477.4 384.2,476.2 384.3,474.8 384.4,473.4 384.5,472 384.7,470.5 384.8,469 384.9,467.4 385.1,465.9 385.2,464.4 385.3,462.9 385.5,461.4 385.6,460 385.7,458.7 385.9,457.4 386.1,455.7 386.3,454.2 386.6,453 387.2,450.3 387.7,452 388.1,449.5 388.6,451.5 389,450.2 389.5,451.5 390,454.6 390.5,453.1 391,455.2 391.6,455.4 392.1,455.9 392.6,456.3 393.1,455.6 393.6,457.8 394.2,455.8 394.7,456.5 395.3,456.1 395.8,457.1 396.4,457.8 396.9,459.6 397.4,458.4 397.9,457.9 398.3,458.7 398.7,461.4 399,459 399.2,461.2 399.5,461 399.6,462.5 399.8,462.1 400,463.8 400.1,463.9 400.2,465 400.4,466.4 400.5,466 400.6,465.3 400.8,465.5 400.9,468.6 401.1,467.5 401.3,466.9 401.7,469.3 402.2,468 402.7,468 403.2,467.9 403.7,465.5 404.2,465.2 404.7,466.4 405.2,464.1 405.6,466.1 406,464.4 406.4,466.5 406.8,466.9 407.2,468.1 407.6,468.3 408,467.7 408.4,467.3 408.8,467.6 409.2,469.2 409.6,469.6 410,468.7 410.4,471.7 410.8,471 411.2,472.1 411.5,471.1 411.9,471.6 412.3,471.3 412.7,472.5 413.1,472.4 413.6,472.8 414.1,472.4 414.5,473.3 415,472.9 415.5,470.2 416,470.4 416.5,469.5 417.1,470.9 417.5,471.9 418,469.9 418.4,471.9 418.9,470.9 419.4,470.5 419.9,473.2 420.4,472.4 420.8,472.3 421.3,473.6 421.8,473.3 422.3,474.1 422.9,474.5 423.4,474.6 424,475.3 424.6,474.6 425.2,474.1 425.7,474.2 426.3,474.4 427,475.7 427.6,475.3 428.2,476.7 428.7,475.8 429.3,476.4 429.9,477.2 430.5,474.4 431.2,474.2 431.8,474.6 432.4,475.3 433,475.9 433.5,476.4 434.1,475.3 434.7,477.2 435.4,474.3 436,476.8 436.5,475 437.1,477.1 437.7,474.7 438.3,477.7 438.8,477.4 439.4,478.5 439.8,477.5 440.1,476.6 440.5,479.4 440.8,478.2 441.2,477.5 441.5,479.5 441.9,479.6 442.3,480 442.6,479.6 443,480 443.3,481.9 443.6,482 444,481.5 444.3,482.9 444.6,484.3 444.9,484.7 445.7,485.7 446.1,486.9 446.8,488.7 447.5,490.2 448.6,491.5 450.7,491 452.3,489.7 454.5,488.7 456.3,489.2 458.1,489.4 459.9,489.4 461.8,489.4 463.6,489.3 465.4,489.2 467.2,488.9 468.9,488.2 470.5,487.2 472.1,486.3 473.7,486.2 475.4,486.9 477,488 478.6,488.8 480.4,488.9 482.2,488.7 484,488.4 485.8,488.2 487.6,487.8 489.4,487.5 491,487.1 492.6,486.8 494.3,486.5 496,486.2 497.8,485.9 499.6,485.7 501.4,485.7 503.2,486 505,486.4 506.7,486.7 508.3,487.1 509.9,487.5 511.6,487.9 513.4,488.2 515.2,488.5 517,488.7 518.8,488.8 520.6,488.9 522.4,489.1 524.2,489.4 526,489.6 527.8,489.8 529.6,490 531.4,490.1 533.2,490.1 535,490.2 536.8,490.1 538.6,490 540.4,489.7 542.2,489.5 544,489.2 545.8,489.1 547.6,489 549.4,488.9 551.2,488.8 553,488.8 554.8,488.6 556.6,488.3 558.4,488 560.2,487.7 562,487.3 563.8,487 565.6,486.7 567.4,486.5 569.2,486.3 571,486.1 572.8,485.9 574.6,485.7 576.3,485.7 578,486.1 579.6,486.7 581.2,487.1 583,487.5 584.8,487.7 586.6,488.1 588.2,488.5 589.8,489 591.5,489.5 593.2,489.9 595,490.2 596.8,490.5 598.6,490.7 600.4,490.8 602.2,490.9 604,490.8 605.8,490.7 607.6,490.5 609.4,490.4 611.2,490.2 613,489.9 614.7,489.6 616.3,489.1 617.9,488.6 619.5,488.2 621.2,487.7 622.8,487.3 624.4,487 626.2,486.8 628,486.6 629.8,486.6 631.6,486.6 633.4,486.8 635.2,487 637,487 638.8,487 640.6,487 642.4,487.1 644.2,487.1 646,487.2 647.8,487.3 649.6,487.3 651.4,487.4 653.2,487.5 655,487.6 656.8,487.8 658.4,488.1 660,488.4 661.7,488.8 663.3,489.3 664.9,489.8 666.5,490.3 668.2,490.6 670.3,490.8 672.2,490.9 673,491" fill="none" stroke="#b0cfe7" stroke-width="1.3" stroke-linejoin="round" stroke-linecap="round" opacity="1.0" /><polyline points="378.9,458 379.1,459.4 379.3,460.9 379.4,462.7 379.6,464 379.7,465.4 379.9,466.8 380,468.4 380.2,469.9 380.4,471.4 380.6,473 380.7,474.5 380.9,476 381.1,477.5 381.3,478.9 381.5,480.2 381.7,481.4 382,483 382.2,484.2 382.7,485.5 383.4,483.9 383.6,482.7 383.8,481.2 384,479.4 384.2,478.2 384.3,476.8 384.4,475.4 384.5,474 384.7,472.5 384.8,471 384.9,469.4 385.1,467.9 385.2,466.4 385.3,464.9 385.5,463.4 385.6,462 385.7,460.7 385.9,459.4 386.1,457.7 386.3,456.2 386.6,455 387.2,452.6 387.7,451.6 388.1,453.1 388.6,451.6 389,453.6 389.5,453.8 390,453.8 390.5,456 391,455.4 391.6,457.3 392.1,456.7 392.6,457.1 393.1,458.3 393.6,459.8 394.2,457.9 394.7,458.5 395.3,460 395.8,461.2 396.4,460.3 396.9,460.1 397.4,462.2 397.9,459.7 398.3,462.5 398.7,461.3 399,461.3 399.2,461.7 399.5,462.8 399.6,464.9 399.8,463.7 400,465.5 400.1,466.3 400.2,466.2 400.4,467.3 400.5,466.5 400.6,467 400.8,467.9 400.9,469.8 401.1,469.4 401.3,469.2 401.7,470.2 402.2,469.6 402.7,468.7 403.2,469.6 403.7,468.8 404.2,466.9 404.7,467.5 405.2,467.3 405.6,468.5 406,468.3 406.4,467.3 406.8,469.7 407.2,467.6 407.6,469 408,470.5 408.4,469.2 408.8,470.6 409.2,469.7 409.6,472 410,472.8 410.4,472.7 410.8,474.1 411.2,473 411.5,474.6 411.9,474.7 412.3,475 412.7,474.8 413.1,476.1 413.6,476.4 414.1,474.7 414.5,474.8 415,472.4 415.5,473.8 416,473.2 416.5,473.9 417.1,473.4 417.5,471.9 418,472.4 418.4,473.6 418.9,472 419.4,473.8 419.9,473.4 420.4,473.7 420.8,474 421.3,476.6 421.8,475 422.3,475.6 422.9,476.3 423.4,478 424,475.8 424.6,477.1 425.2,477.5 425.7,478.6 426.3,478.5 427,478.7 427.6,477 428.2,477.5 428.7,477.3 429.3,478.9 429.9,479.1 430.5,476.7 431.2,476.7 431.8,476.9 432.4,476.8 433,477.6 433.5,477.9 434.1,477 434.7,476.3 435.4,477.6 436,477.4 436.5,478.1 437.1,479.3 437.7,478.7 438.3,478.4 438.8,479 439.4,479.5 439.8,477.9 440.1,480.8 440.5,480.8 440.8,481.5 441.2,481.7 441.5,480.9 441.9,481.3 442.3,480.9 442.6,483 443,481.8 443.3,482.3 443.6,483.2 444,483.6 444.3,484.6 444.6,484.3 444.9,484.6 445.7,487.7 446.1,488.9 446.8,490.7 447.5,492.2 448.6,493.5 450.7,493.1 452.3,491.9 454.4,490.4 456.3,489.2 458,489 459.7,489 461.5,489.1 463.3,489 465,488.5 466.7,487.9 468.5,487.3 470.2,487 471.9,486.9 473.6,486.9 475.3,487.2 477.4,487.9 479.3,489.1 481.2,490.3 483.3,491 485.1,491.2 486.8,491.2 488.5,491.3 490.2,491.3 491.9,491.4 493.7,491.4 495.4,491.4 497.1,491.3 498.8,491.2 500.5,491.2 502.2,491.3 504,491.5 505.7,491.7 507.4,491.9 509.1,491.9 510.8,491.9 512.6,491.9 514.3,491.9 516,491.8 517.7,491.7 519.4,491.7 521.1,491.5 522.9,491.4 524.6,491.3 526.3,491.1 528,491 529.7,490.8 531.5,490.6 533.2,490.4 534.9,490.2 536.6,489.9 538.3,489.7 540,489.4 541.8,489 543.5,488.7 545.2,488.5 546.9,488.5 548.6,488.6 550.4,488.7 552.1,488.8 553.8,488.9 555.5,489 557.2,489.1 558.9,489.3 560.7,489.5 562.4,489.7 564.1,489.9 565.8,490.2 567.5,490.4 569.3,490.7 571,490.9 572.7,491.1 574.4,491.2 576.1,491.3 577.8,491.4 579.6,491.5 581.3,491.5 583,491.6 584.7,491.6 586.4,491.7 588.2,491.7 589.9,491.7 591.6,491.7 593.3,491.7 595,491.7 596.7,491.7 598.5,491.7 600.2,491.6 601.9,491.6 603.6,491.5 605.3,491.5 607.1,491.5 608.8,491.4 610.5,491.4 612.2,491.3 613.9,491.2 615.6,490.9 617.4,490.5 619.1,490.1 620.8,489.8 622.5,489.6 624.2,489.5 626,489.4 627.7,489.2 629.4,489 631.1,488.8 632.8,488.7 634.5,488.7 636.3,488.8 638,489 639.7,489.2 641.4,489.2 643.1,489.3 644.9,489.3 646.6,489.5 648.3,489.7 650,489.9 651.7,490.2 653.4,490.4 655.2,490.6 656.9,490.7 658.6,490.9 660.3,490.9 662,490.9 663.8,491 665.5,491 667.5,491.1 669.4,491.3 671.2,491.4" fill="none" stroke="#d4e6f1" stroke-width="1.3" stroke-linejoin="round" stroke-linecap="round" opacity="1.0" /></g><line x1="71.3" y1="74" x2="71.3" y2="499" stroke="#222222" stroke-width="1.3" /><line x1="675.8" y1="74" x2="675.8" y2="499" stroke="#222222" stroke-width="1.3" /><line x1="70.7" y1="74" x2="367.5" y2="74" stroke="#222222" stroke-width="1.3" /><line x1="379.5" y1="74" x2="676.4" y2="74" stroke="#222222" stroke-width="1.3" /><line x1="363.1" y1="78.1" x2="373.5" y2="69.9" stroke="#222222" stroke-width="1.4" /><line x1="373.4" y1="78.1" x2="383.8" y2="69.9" stroke="#222222" stroke-width="1.4" /><line x1="70.7" y1="287.3" x2="367.5" y2="287.3" stroke="#222222" stroke-width="1.3" /><line x1="379.5" y1="287.3" x2="676.4" y2="287.3" stroke="#222222" stroke-width="1.3" /><line x1="363.1" y1="291.4" x2="373.5" y2="283.2" stroke="#222222" stroke-width="1.4" /><line x1="373.4" y1="291.4" x2="383.8" y2="283.2" stroke="#222222" stroke-width="1.4" /><line x1="70.7" y1="498.4" x2="367.5" y2="498.4" stroke="#222222" stroke-width="1.3" /><line x1="379.5" y1="498.4" x2="676.4" y2="498.4" stroke="#222222" stroke-width="1.3" /><line x1="363.1" y1="502.5" x2="373.5" y2="494.3" stroke="#222222" stroke-width="1.4" /><line x1="373.4" y1="502.5" x2="383.8" y2="494.3" stroke="#222222" stroke-width="1.4" /><line x1="69" y1="265.63" x2="71.3" y2="265.63" stroke="#222222" stroke-width="1.3" /><line x1="66.8" y1="244.36" x2="71.3" y2="244.36" stroke="#222222" stroke-width="1.3" /><text x="64" y="249.16" font-size="16" text-anchor="end" fill="#111" font-weight="normal" >20</text><line x1="69" y1="223.09" x2="71.3" y2="223.09" stroke="#222222" stroke-width="1.3" /><line x1="66.8" y1="201.82" x2="71.3" y2="201.82" stroke="#222222" stroke-width="1.3" /><text x="64" y="206.62" font-size="16" text-anchor="end" fill="#111" font-weight="normal" >40</text><line x1="69" y1="180.55" x2="71.3" y2="180.55" stroke="#222222" stroke-width="1.3" /><line x1="66.8" y1="159.28" x2="71.3" y2="159.28" stroke="#222222" stroke-width="1.3" /><text x="64" y="164.08" font-size="16" text-anchor="end" fill="#111" font-weight="normal" >60</text><line x1="69" y1="138.01" x2="71.3" y2="138.01" stroke="#222222" stroke-width="1.3" /><line x1="66.8" y1="116.74" x2="71.3" y2="116.74" stroke="#222222" stroke-width="1.3" /><text x="64" y="121.54" font-size="16" text-anchor="end" fill="#111" font-weight="normal" >80</text><line x1="69" y1="95.47" x2="71.3" y2="95.47" stroke="#222222" stroke-width="1.3" /><line x1="66.8" y1="74.2" x2="71.3" y2="74.2" stroke="#222222" stroke-width="1.3" /><text x="64" y="79" font-size="16" text-anchor="end" fill="#111" font-weight="normal" >100</text><line x1="66.8" y1="498.1" x2="71.3" y2="498.1" stroke="#222222" stroke-width="1.3" /><text x="64" y="502.9" font-size="16" text-anchor="end" fill="#111" font-weight="normal" >0</text><line x1="69" y1="476.8" x2="71.3" y2="476.8" stroke="#222222" stroke-width="1.3" /><line x1="66.8" y1="455.5" x2="71.3" y2="455.5" stroke="#222222" stroke-width="1.3" /><text x="64" y="460.3" font-size="16" text-anchor="end" fill="#111" font-weight="normal" >20</text><line x1="69" y1="434.2" x2="71.3" y2="434.2" stroke="#222222" stroke-width="1.3" /><line x1="66.8" y1="412.9" x2="71.3" y2="412.9" stroke="#222222" stroke-width="1.3" /><text x="64" y="417.7" font-size="16" text-anchor="end" fill="#111" font-weight="normal" >40</text><line x1="69" y1="391.6" x2="71.3" y2="391.6" stroke="#222222" stroke-width="1.3" /><line x1="66.8" y1="370.3" x2="71.3" y2="370.3" stroke="#222222" stroke-width="1.3" /><text x="64" y="375.1" font-size="16" text-anchor="end" fill="#111" font-weight="normal" >60</text><line x1="69" y1="349" x2="71.3" y2="349" stroke="#222222" stroke-width="1.3" /><line x1="66.8" y1="327.7" x2="71.3" y2="327.7" stroke="#222222" stroke-width="1.3" /><text x="64" y="332.5" font-size="16" text-anchor="end" fill="#111" font-weight="normal" >80</text><line x1="69" y1="306.4" x2="71.3" y2="306.4" stroke="#222222" stroke-width="1.3" /><line x1="66.8" y1="285.1" x2="71.3" y2="285.1" stroke="#222222" stroke-width="1.3" /><text x="64" y="289.9" font-size="16" text-anchor="end" fill="#111" font-weight="normal" >100</text><line x1="100.4" y1="287.3" x2="100.4" y2="291.6" stroke="#222222" stroke-width="1.3" /><line x1="167.2" y1="287.3" x2="167.2" y2="291.6" stroke="#222222" stroke-width="1.3" /><line x1="234" y1="287.3" x2="234" y2="291.6" stroke="#222222" stroke-width="1.3" /><line x1="300.8" y1="287.3" x2="300.8" y2="291.6" stroke="#222222" stroke-width="1.3" /><line x1="378.2" y1="287.3" x2="378.2" y2="291.6" stroke="#222222" stroke-width="1.3" /><line x1="465.7" y1="287.3" x2="465.7" y2="291.6" stroke="#222222" stroke-width="1.3" /><line x1="553.2" y1="287.3" x2="553.2" y2="291.6" stroke="#222222" stroke-width="1.3" /><line x1="640.7" y1="287.3" x2="640.7" y2="291.6" stroke="#222222" stroke-width="1.3" /><line x1="133.8" y1="287.3" x2="133.8" y2="289.8" stroke="#222222" stroke-width="1.3" /><line x1="200.6" y1="287.3" x2="200.6" y2="289.8" stroke="#222222" stroke-width="1.3" /><line x1="267.4" y1="287.3" x2="267.4" y2="289.8" stroke="#222222" stroke-width="1.3" /><line x1="334.2" y1="287.3" x2="334.2" y2="289.8" stroke="#222222" stroke-width="1.3" /><line x1="421.95" y1="287.3" x2="421.95" y2="289.8" stroke="#222222" stroke-width="1.3" /><line x1="509.45" y1="287.3" x2="509.45" y2="289.8" stroke="#222222" stroke-width="1.3" /><line x1="596.95" y1="287.3" x2="596.95" y2="289.8" stroke="#222222" stroke-width="1.3" /><line x1="100.4" y1="498.4" x2="100.4" y2="502.7" stroke="#222222" stroke-width="1.3" /><line x1="167.2" y1="498.4" x2="167.2" y2="502.7" stroke="#222222" stroke-width="1.3" /><line x1="234" y1="498.4" x2="234" y2="502.7" stroke="#222222" stroke-width="1.3" /><line x1="300.8" y1="498.4" x2="300.8" y2="502.7" stroke="#222222" stroke-width="1.3" /><line x1="378.2" y1="498.4" x2="378.2" y2="502.7" stroke="#222222" stroke-width="1.3" /><line x1="465.7" y1="498.4" x2="465.7" y2="502.7" stroke="#222222" stroke-width="1.3" /><line x1="553.2" y1="498.4" x2="553.2" y2="502.7" stroke="#222222" stroke-width="1.3" /><line x1="640.7" y1="498.4" x2="640.7" y2="502.7" stroke="#222222" stroke-width="1.3" /><line x1="133.8" y1="498.4" x2="133.8" y2="500.9" stroke="#222222" stroke-width="1.3" /><line x1="200.6" y1="498.4" x2="200.6" y2="500.9" stroke="#222222" stroke-width="1.3" /><line x1="267.4" y1="498.4" x2="267.4" y2="500.9" stroke="#222222" stroke-width="1.3" /><line x1="334.2" y1="498.4" x2="334.2" y2="500.9" stroke="#222222" stroke-width="1.3" /><line x1="421.95" y1="498.4" x2="421.95" y2="500.9" stroke="#222222" stroke-width="1.3" /><line x1="509.45" y1="498.4" x2="509.45" y2="500.9" stroke="#222222" stroke-width="1.3" /><line x1="596.95" y1="498.4" x2="596.95" y2="500.9" stroke="#222222" stroke-width="1.3" /><text x="100.4" y="517.6" font-size="16" text-anchor="middle" fill="#111" font-weight="normal" >0.5</text><text x="167.2" y="517.6" font-size="16" text-anchor="middle" fill="#111" font-weight="normal" >1.0</text><text x="234" y="517.6" font-size="16" text-anchor="middle" fill="#111" font-weight="normal" >1.5</text><text x="300.8" y="517.6" font-size="16" text-anchor="middle" fill="#111" font-weight="normal" >2.0</text><text x="378.2" y="517.6" font-size="16" text-anchor="middle" fill="#111" font-weight="normal" >3</text><text x="465.7" y="517.6" font-size="16" text-anchor="middle" fill="#111" font-weight="normal" >8</text><text x="553.2" y="517.6" font-size="16" text-anchor="middle" fill="#111" font-weight="normal" >13</text><text x="640.7" y="517.6" font-size="16" text-anchor="middle" fill="#111" font-weight="normal" >18</text><text x="78.8" y="165.2" font-size="15" text-anchor="start" fill="#111" font-weight="normal" >%RH</text><line x1="78.3" y1="178.7" x2="113" y2="178.7" stroke="#2b2b2b" stroke-width="1.5" /><text x="117.6" y="184" font-size="16" text-anchor="start" fill="#111" font-weight="normal" >33</text><line x1="78.3" y1="197.9" x2="113" y2="197.9" stroke="#505050" stroke-width="1.5" /><text x="117.6" y="203.2" font-size="16" text-anchor="start" fill="#111" font-weight="normal" >44</text><line x1="78.3" y1="217.1" x2="113" y2="217.1" stroke="#747474" stroke-width="1.5" /><text x="117.6" y="222.4" font-size="16" text-anchor="start" fill="#111" font-weight="normal" >48</text><line x1="78.3" y1="236.3" x2="113" y2="236.3" stroke="#9c9c9c" stroke-width="1.5" /><text x="117.6" y="241.6" font-size="16" text-anchor="start" fill="#111" font-weight="normal" >60</text><line x1="78.3" y1="255.5" x2="113" y2="255.5" stroke="#bdbdbd" stroke-width="1.5" /><text x="117.6" y="260.8" font-size="16" text-anchor="start" fill="#111" font-weight="normal" >64</text><line x1="78.3" y1="274.7" x2="113" y2="274.7" stroke="#dcdcdc" stroke-width="1.5" /><text x="117.6" y="280" font-size="16" text-anchor="start" fill="#111" font-weight="normal" >67</text><text x="79.1" y="374.8" font-size="15" text-anchor="start" fill="#111" font-weight="normal" >%RH</text><line x1="78.8" y1="389.2" x2="113.4" y2="389.2" stroke="#2f78bd" stroke-width="1.5" /><text x="118" y="394.5" font-size="16" text-anchor="start" fill="#111" font-weight="normal" >34</text><line x1="78.8" y1="408.35" x2="113.4" y2="408.35" stroke="#3a84c6" stroke-width="1.5" /><text x="118" y="413.65" font-size="16" text-anchor="start" fill="#111" font-weight="normal" >45</text><line x1="78.8" y1="427.5" x2="113.4" y2="427.5" stroke="#5b9bd2" stroke-width="1.5" /><text x="118" y="432.8" font-size="16" text-anchor="start" fill="#111" font-weight="normal" >52</text><line x1="78.8" y1="446.65" x2="113.4" y2="446.65" stroke="#80b3dd" stroke-width="1.5" /><text x="118" y="451.95" font-size="16" text-anchor="start" fill="#111" font-weight="normal" >59</text><line x1="78.8" y1="465.8" x2="113.4" y2="465.8" stroke="#b0cfe7" stroke-width="1.5" /><text x="118" y="471.1" font-size="16" text-anchor="start" fill="#111" font-weight="normal" >64</text><line x1="78.8" y1="484.95" x2="113.4" y2="484.95" stroke="#d4e6f1" stroke-width="1.5" /><text x="118" y="490.25" font-size="16" text-anchor="start" fill="#111" font-weight="normal" >68</text><text x="0.4" y="82.6" font-size="23" text-anchor="start" fill="#000" font-weight="bold" >a</text><text x="0.6" y="300.4" font-size="23" text-anchor="start" fill="#000" font-weight="bold" >b</text><text x="0.3" y="582.8" font-size="23" text-anchor="start" fill="#000" font-weight="bold" >c</text><text x="349.6" y="582.8" font-size="23" text-anchor="start" fill="#000" font-weight="bold" >d</text><text x="670.6" y="97" font-size="18.8" text-anchor="end" fill="#111" font-weight="normal" >PPC</text><text x="670.4" y="305.7" font-size="18.7" text-anchor="end" fill="#1f72dd" font-weight="normal" >FSPPC</text><text transform="translate(24,173.8) rotate(-90)" font-size="18.5" text-anchor="middle" fill="#111">Reflectance (%)</text><text transform="translate(24,384.6) rotate(-90)" font-size="18.5" text-anchor="middle" fill="#111">Reflectance (%)</text><text x="373.7" y="539.7" font-size="18.6" text-anchor="middle" fill="#111" font-weight="normal" >Wavelength (μm)</text><line x1="123.5" y1="571.5" x2="123.5" y2="784.5" stroke="#c2c2c2" stroke-width="1.4" stroke-dasharray="2.7,1.8" stroke-dashoffset="-1.1"/><line x1="176.5" y1="571.5" x2="176.5" y2="784.5" stroke="#c2c2c2" stroke-width="1.4" stroke-dasharray="2.7,1.8" stroke-dashoffset="-1.1"/><line x1="229.5" y1="571.5" x2="229.5" y2="784.5" stroke="#c2c2c2" stroke-width="1.4" stroke-dasharray="2.7,1.8" stroke-dashoffset="-1.1"/><line x1="282.5" y1="571.5" x2="282.5" y2="784.5" stroke="#c2c2c2" stroke-width="1.4" stroke-dasharray="2.7,1.8" stroke-dashoffset="-1.1"/><rect x="70.5" y="571.5" width="264.7" height="213" fill="none" stroke="#222222" stroke-width="1.3"/><line x1="66.2" y1="571.5" x2="70.5" y2="571.5" stroke="#222222" stroke-width="1.3" /><line x1="335.2" y1="571.5" x2="331.2" y2="571.5" stroke="#222222" stroke-width="1.3" /><text x="63.4" y="576.3" font-size="16" text-anchor="end" fill="#111" font-weight="normal" >100</text><line x1="68.3" y1="589.25" x2="70.5" y2="589.25" stroke="#222222" stroke-width="1.3" /><line x1="335.2" y1="589.25" x2="333" y2="589.25" stroke="#222222" stroke-width="1.3" /><line x1="66.2" y1="607" x2="70.5" y2="607" stroke="#222222" stroke-width="1.3" /><line x1="335.2" y1="607" x2="331.2" y2="607" stroke="#222222" stroke-width="1.3" /><text x="63.4" y="611.8" font-size="16" text-anchor="end" fill="#111" font-weight="normal" >95</text><line x1="68.3" y1="624.75" x2="70.5" y2="624.75" stroke="#222222" stroke-width="1.3" /><line x1="335.2" y1="624.75" x2="333" y2="624.75" stroke="#222222" stroke-width="1.3" /><line x1="66.2" y1="642.5" x2="70.5" y2="642.5" stroke="#222222" stroke-width="1.3" /><line x1="335.2" y1="642.5" x2="331.2" y2="642.5" stroke="#222222" stroke-width="1.3" /><text x="63.4" y="647.3" font-size="16" text-anchor="end" fill="#111" font-weight="normal" >90</text><line x1="68.3" y1="660.25" x2="70.5" y2="660.25" stroke="#222222" stroke-width="1.3" /><line x1="335.2" y1="660.25" x2="333" y2="660.25" stroke="#222222" stroke-width="1.3" /><line x1="66.2" y1="678" x2="70.5" y2="678" stroke="#222222" stroke-width="1.3" /><line x1="335.2" y1="678" x2="331.2" y2="678" stroke="#222222" stroke-width="1.3" /><text x="63.4" y="682.8" font-size="16" text-anchor="end" fill="#111" font-weight="normal" >85</text><line x1="68.3" y1="695.75" x2="70.5" y2="695.75" stroke="#222222" stroke-width="1.3" /><line x1="335.2" y1="695.75" x2="333" y2="695.75" stroke="#222222" stroke-width="1.3" /><line x1="66.2" y1="713.5" x2="70.5" y2="713.5" stroke="#222222" stroke-width="1.3" /><line x1="335.2" y1="713.5" x2="331.2" y2="713.5" stroke="#222222" stroke-width="1.3" /><text x="63.4" y="718.3" font-size="16" text-anchor="end" fill="#111" font-weight="normal" >80</text><line x1="68.3" y1="731.25" x2="70.5" y2="731.25" stroke="#222222" stroke-width="1.3" /><line x1="335.2" y1="731.25" x2="333" y2="731.25" stroke="#222222" stroke-width="1.3" /><line x1="66.2" y1="749" x2="70.5" y2="749" stroke="#222222" stroke-width="1.3" /><line x1="335.2" y1="749" x2="331.2" y2="749" stroke="#222222" stroke-width="1.3" /><text x="63.4" y="753.8" font-size="16" text-anchor="end" fill="#111" font-weight="normal" >75</text><line x1="68.3" y1="766.75" x2="70.5" y2="766.75" stroke="#222222" stroke-width="1.3" /><line x1="335.2" y1="766.75" x2="333" y2="766.75" stroke="#222222" stroke-width="1.3" /><line x1="66.2" y1="784.5" x2="70.5" y2="784.5" stroke="#222222" stroke-width="1.3" /><line x1="335.2" y1="784.5" x2="331.2" y2="784.5" stroke="#222222" stroke-width="1.3" /><text x="63.4" y="789.3" font-size="16" text-anchor="end" fill="#111" font-weight="normal" >70</text><line x1="70.5" y1="784.5" x2="70.5" y2="788.7" stroke="#222222" stroke-width="1.3" /><text x="70.5" y="803.8" font-size="16" text-anchor="middle" fill="#111" font-weight="normal" >20</text><line x1="97" y1="784.5" x2="97" y2="786.9" stroke="#222222" stroke-width="1.3" /><line x1="97" y1="571.5" x2="97" y2="573.8" stroke="#222222" stroke-width="1.3" /><line x1="123.5" y1="784.5" x2="123.5" y2="788.7" stroke="#222222" stroke-width="1.3" /><line x1="123.5" y1="571.5" x2="123.5" y2="575.5" stroke="#222222" stroke-width="1.3" /><text x="123.5" y="803.8" font-size="16" text-anchor="middle" fill="#111" font-weight="normal" >30</text><line x1="150" y1="784.5" x2="150" y2="786.9" stroke="#222222" stroke-width="1.3" /><line x1="150" y1="571.5" x2="150" y2="573.8" stroke="#222222" stroke-width="1.3" /><line x1="176.5" y1="784.5" x2="176.5" y2="788.7" stroke="#222222" stroke-width="1.3" /><line x1="176.5" y1="571.5" x2="176.5" y2="575.5" stroke="#222222" stroke-width="1.3" /><text x="176.5" y="803.8" font-size="16" text-anchor="middle" fill="#111" font-weight="normal" >40</text><line x1="203" y1="784.5" x2="203" y2="786.9" stroke="#222222" stroke-width="1.3" /><line x1="203" y1="571.5" x2="203" y2="573.8" stroke="#222222" stroke-width="1.3" /><line x1="229.5" y1="784.5" x2="229.5" y2="788.7" stroke="#222222" stroke-width="1.3" /><line x1="229.5" y1="571.5" x2="229.5" y2="575.5" stroke="#222222" stroke-width="1.3" /><text x="229.5" y="803.8" font-size="16" text-anchor="middle" fill="#111" font-weight="normal" >50</text><line x1="256" y1="784.5" x2="256" y2="786.9" stroke="#222222" stroke-width="1.3" /><line x1="256" y1="571.5" x2="256" y2="573.8" stroke="#222222" stroke-width="1.3" /><line x1="282.5" y1="784.5" x2="282.5" y2="788.7" stroke="#222222" stroke-width="1.3" /><line x1="282.5" y1="571.5" x2="282.5" y2="575.5" stroke="#222222" stroke-width="1.3" /><text x="282.5" y="803.8" font-size="16" text-anchor="middle" fill="#111" font-weight="normal" >60</text><line x1="309" y1="784.5" x2="309" y2="786.9" stroke="#222222" stroke-width="1.3" /><line x1="309" y1="571.5" x2="309" y2="573.8" stroke="#222222" stroke-width="1.3" /><line x1="335.5" y1="784.5" x2="335.5" y2="788.7" stroke="#222222" stroke-width="1.3" /><text x="335.5" y="803.8" font-size="16" text-anchor="middle" fill="#111" font-weight="normal" >70</text><line x1="86.4" y1="602.03" x2="86.4" y2="607.71" stroke="#000" stroke-width="1.3" /><line x1="79.7" y1="602.03" x2="93.1" y2="602.03" stroke="#000" stroke-width="1.3" /><line x1="79.7" y1="607.71" x2="93.1" y2="607.71" stroke="#000" stroke-width="1.3" /><rect x="82.5" y="600.97" width="7.8" height="7.8" fill="#000"/><line x1="139.4" y1="599.19" x2="139.4" y2="604.87" stroke="#000" stroke-width="1.3" /><line x1="132.7" y1="599.19" x2="146.1" y2="599.19" stroke="#000" stroke-width="1.3" /><line x1="132.7" y1="604.87" x2="146.1" y2="604.87" stroke="#000" stroke-width="1.3" /><rect x="135.5" y="598.13" width="7.8" height="7.8" fill="#000"/><line x1="170.41" y1="613.04" x2="170.41" y2="620.85" stroke="#000" stroke-width="1.3" /><line x1="163.71" y1="613.04" x2="177.1" y2="613.04" stroke="#000" stroke-width="1.3" /><line x1="163.71" y1="620.85" x2="177.1" y2="620.85" stroke="#000" stroke-width="1.3" /><rect x="166.5" y="613.04" width="7.8" height="7.8" fill="#000"/><line x1="187.1" y1="621.91" x2="187.1" y2="629.72" stroke="#000" stroke-width="1.3" /><line x1="180.4" y1="621.91" x2="193.8" y2="621.91" stroke="#000" stroke-width="1.3" /><line x1="180.4" y1="629.72" x2="193.8" y2="629.72" stroke="#000" stroke-width="1.3" /><rect x="183.2" y="621.92" width="7.8" height="7.8" fill="#000"/><line x1="197.7" y1="615.52" x2="197.7" y2="619.78" stroke="#000" stroke-width="1.3" /><line x1="191" y1="615.52" x2="204.4" y2="615.52" stroke="#000" stroke-width="1.3" /><line x1="191" y1="619.78" x2="204.4" y2="619.78" stroke="#000" stroke-width="1.3" /><rect x="193.8" y="613.75" width="7.8" height="7.8" fill="#000"/><line x1="208.3" y1="635.75" x2="208.3" y2="642.14" stroke="#000" stroke-width="1.3" /><line x1="201.6" y1="635.75" x2="215" y2="635.75" stroke="#000" stroke-width="1.3" /><line x1="201.6" y1="642.14" x2="215" y2="642.14" stroke="#000" stroke-width="1.3" /><rect x="204.4" y="635.05" width="7.8" height="7.8" fill="#000"/><line x1="218.9" y1="649.25" x2="218.9" y2="653.5" stroke="#000" stroke-width="1.3" /><line x1="212.2" y1="649.25" x2="225.6" y2="649.25" stroke="#000" stroke-width="1.3" /><line x1="212.2" y1="653.5" x2="225.6" y2="653.5" stroke="#000" stroke-width="1.3" /><rect x="215" y="647.48" width="7.8" height="7.8" fill="#000"/><line x1="245.4" y1="665.93" x2="245.4" y2="673.03" stroke="#000" stroke-width="1.3" /><line x1="238.7" y1="665.93" x2="252.1" y2="665.93" stroke="#000" stroke-width="1.3" /><line x1="238.7" y1="673.03" x2="252.1" y2="673.03" stroke="#000" stroke-width="1.3" /><rect x="241.5" y="665.58" width="7.8" height="7.8" fill="#000"/><line x1="281.44" y1="694.33" x2="281.44" y2="705.69" stroke="#000" stroke-width="1.3" /><line x1="274.74" y1="694.33" x2="288.14" y2="694.33" stroke="#000" stroke-width="1.3" /><line x1="274.74" y1="705.69" x2="288.14" y2="705.69" stroke="#000" stroke-width="1.3" /><rect x="277.54" y="696.11" width="7.8" height="7.8" fill="#000"/><line x1="287.27" y1="691.21" x2="287.27" y2="707.39" stroke="#000" stroke-width="1.3" /><line x1="280.57" y1="691.21" x2="293.97" y2="691.21" stroke="#000" stroke-width="1.3" /><line x1="280.57" y1="707.39" x2="293.97" y2="707.39" stroke="#000" stroke-width="1.3" /><rect x="283.37" y="695.4" width="7.8" height="7.8" fill="#000"/><line x1="303.7" y1="730.19" x2="303.7" y2="738" stroke="#000" stroke-width="1.3" /><line x1="297" y1="730.19" x2="310.4" y2="730.19" stroke="#000" stroke-width="1.3" /><line x1="297" y1="738" x2="310.4" y2="738" stroke="#000" stroke-width="1.3" /><rect x="299.8" y="730.19" width="7.8" height="7.8" fill="#000"/><line x1="319.6" y1="725.92" x2="319.6" y2="749.36" stroke="#000" stroke-width="1.3" /><line x1="312.9" y1="725.92" x2="326.3" y2="725.92" stroke="#000" stroke-width="1.3" /><line x1="312.9" y1="749.36" x2="326.3" y2="749.36" stroke="#000" stroke-width="1.3" /><rect x="315.7" y="733.74" width="7.8" height="7.8" fill="#000"/><line x1="86.4" y1="608.07" x2="86.4" y2="615.17" stroke="#1e6fdc" stroke-width="1.3" /><line x1="79.7" y1="608.07" x2="93.1" y2="608.07" stroke="#1e6fdc" stroke-width="1.3" /><line x1="79.7" y1="615.17" x2="93.1" y2="615.17" stroke="#1e6fdc" stroke-width="1.3" /><circle cx="86.4" cy="611.62" r="4.4" fill="#1e6fdc"/><line x1="112.9" y1="607.36" x2="112.9" y2="613.75" stroke="#1e6fdc" stroke-width="1.3" /><line x1="106.2" y1="607.36" x2="119.6" y2="607.36" stroke="#1e6fdc" stroke-width="1.3" /><line x1="106.2" y1="613.75" x2="119.6" y2="613.75" stroke="#1e6fdc" stroke-width="1.3" /><circle cx="112.9" cy="610.55" r="4.4" fill="#1e6fdc"/><line x1="144.7" y1="600.26" x2="144.7" y2="605.23" stroke="#1e6fdc" stroke-width="1.3" /><line x1="138" y1="600.26" x2="151.4" y2="600.26" stroke="#1e6fdc" stroke-width="1.3" /><line x1="138" y1="605.23" x2="151.4" y2="605.23" stroke="#1e6fdc" stroke-width="1.3" /><circle cx="144.7" cy="602.74" r="4.4" fill="#1e6fdc"/><line x1="181.8" y1="603.1" x2="181.8" y2="610.9" stroke="#1e6fdc" stroke-width="1.3" /><line x1="175.1" y1="603.1" x2="188.5" y2="603.1" stroke="#1e6fdc" stroke-width="1.3" /><line x1="175.1" y1="610.9" x2="188.5" y2="610.9" stroke="#1e6fdc" stroke-width="1.3" /><circle cx="181.8" cy="607" r="4.4" fill="#1e6fdc"/><line x1="203" y1="611.97" x2="203" y2="620.49" stroke="#1e6fdc" stroke-width="1.3" /><line x1="196.3" y1="611.97" x2="209.7" y2="611.97" stroke="#1e6fdc" stroke-width="1.3" /><line x1="196.3" y1="620.49" x2="209.7" y2="620.49" stroke="#1e6fdc" stroke-width="1.3" /><circle cx="203" cy="616.23" r="4.4" fill="#1e6fdc"/><line x1="208.3" y1="608.42" x2="208.3" y2="615.52" stroke="#1e6fdc" stroke-width="1.3" /><line x1="201.6" y1="608.42" x2="215" y2="608.42" stroke="#1e6fdc" stroke-width="1.3" /><line x1="201.6" y1="615.52" x2="215" y2="615.52" stroke="#1e6fdc" stroke-width="1.3" /><circle cx="208.3" cy="611.97" r="4.4" fill="#1e6fdc"/><line x1="234.8" y1="602.39" x2="234.8" y2="607.36" stroke="#1e6fdc" stroke-width="1.3" /><line x1="228.1" y1="602.39" x2="241.5" y2="602.39" stroke="#1e6fdc" stroke-width="1.3" /><line x1="228.1" y1="607.36" x2="241.5" y2="607.36" stroke="#1e6fdc" stroke-width="1.3" /><circle cx="234.8" cy="604.87" r="4.4" fill="#1e6fdc"/><line x1="240.1" y1="603.45" x2="240.1" y2="611.97" stroke="#1e6fdc" stroke-width="1.3" /><line x1="233.4" y1="603.45" x2="246.8" y2="603.45" stroke="#1e6fdc" stroke-width="1.3" /><line x1="233.4" y1="611.97" x2="246.8" y2="611.97" stroke="#1e6fdc" stroke-width="1.3" /><circle cx="240.1" cy="607.71" r="4.4" fill="#1e6fdc"/><line x1="261.3" y1="629.72" x2="261.3" y2="635.4" stroke="#1e6fdc" stroke-width="1.3" /><line x1="254.6" y1="629.72" x2="268" y2="629.72" stroke="#1e6fdc" stroke-width="1.3" /><line x1="254.6" y1="635.4" x2="268" y2="635.4" stroke="#1e6fdc" stroke-width="1.3" /><circle cx="261.3" cy="632.56" r="4.4" fill="#1e6fdc"/><line x1="277.2" y1="613.75" x2="277.2" y2="620.85" stroke="#1e6fdc" stroke-width="1.3" /><line x1="270.5" y1="613.75" x2="283.9" y2="613.75" stroke="#1e6fdc" stroke-width="1.3" /><line x1="270.5" y1="620.85" x2="283.9" y2="620.85" stroke="#1e6fdc" stroke-width="1.3" /><circle cx="277.2" cy="617.3" r="4.4" fill="#1e6fdc"/><line x1="287.27" y1="661.32" x2="287.27" y2="671.97" stroke="#1e6fdc" stroke-width="1.3" /><line x1="280.57" y1="661.32" x2="293.97" y2="661.32" stroke="#1e6fdc" stroke-width="1.3" /><line x1="280.57" y1="671.97" x2="293.97" y2="671.97" stroke="#1e6fdc" stroke-width="1.3" /><circle cx="287.27" cy="666.64" r="4.4" fill="#1e6fdc"/><line x1="303.7" y1="685.81" x2="303.7" y2="691.49" stroke="#1e6fdc" stroke-width="1.3" /><line x1="297" y1="685.81" x2="310.4" y2="685.81" stroke="#1e6fdc" stroke-width="1.3" /><line x1="297" y1="691.49" x2="310.4" y2="691.49" stroke="#1e6fdc" stroke-width="1.3" /><circle cx="303.7" cy="688.65" r="4.4" fill="#1e6fdc"/><line x1="314.3" y1="686.17" x2="314.3" y2="703.91" stroke="#1e6fdc" stroke-width="1.3" /><line x1="307.6" y1="686.17" x2="321" y2="686.17" stroke="#1e6fdc" stroke-width="1.3" /><line x1="307.6" y1="703.91" x2="321" y2="703.91" stroke="#1e6fdc" stroke-width="1.3" /><circle cx="314.3" cy="695.04" r="4.4" fill="#1e6fdc"/><line x1="324.9" y1="694.33" x2="324.9" y2="701.43" stroke="#1e6fdc" stroke-width="1.3" /><line x1="318.2" y1="694.33" x2="331.6" y2="694.33" stroke="#1e6fdc" stroke-width="1.3" /><line x1="318.2" y1="701.43" x2="331.6" y2="701.43" stroke="#1e6fdc" stroke-width="1.3" /><circle cx="324.9" cy="697.88" r="4.4" fill="#1e6fdc"/><rect x="91" y="744.2" width="7.6" height="7.6" fill="#000"/><circle cx="94.8" cy="767" r="4.3" fill="#1e6fdc"/><text x="116.3" y="753.3" font-size="16.2" text-anchor="start" fill="#111" font-weight="normal" >PPC</text><text x="116.3" y="772.3" font-size="16.2" text-anchor="start" fill="#111" font-weight="normal" >FSPPC</text><text x="202.5" y="823" font-size="18.7" text-anchor="middle" fill="#111" font-weight="normal" >Drying-humidity (% RH)</text><text transform="translate(27.2,678.2) rotate(-90)" font-size="18.5" text-anchor="middle" fill="#111"><tspan font-style="italic">R</tspan><tspan font-size="12.5" dy="5.1">solar</tspan><tspan dy="-5.1" font-size="19.3"> (%)</tspan></text><linearGradient id="gd" x1="0" y1="0" x2="0" y2="1"><stop offset="0" stop-color="#d0e1f8"/><stop offset="0.3" stop-color="#ecf3fc"/><stop offset="0.37" stop-color="#f9fbfe"/><stop offset="0.41" stop-color="#ffffff"/><stop offset="0.45" stop-color="#fff7f7"/><stop offset="0.6" stop-color="#fee6e6"/><stop offset="0.8" stop-color="#fdd8d8"/><stop offset="1" stop-color="#fdcaca"/></linearGradient><rect x="411.3" y="571.1" width="265.2" height="213.2" fill="url(#gd)"/><rect x="411.3" y="571.1" width="265.2" height="213.2" fill="none" stroke="#222222" stroke-width="1.3"/><line x1="407.1" y1="571" x2="411.3" y2="571" stroke="#222222" stroke-width="1.3" /><text x="404.3" y="575.8" font-size="16" text-anchor="end" fill="#111" font-weight="normal" >1.0</text><line x1="407.1" y1="613.6" x2="411.3" y2="613.6" stroke="#222222" stroke-width="1.3" /><text x="404.3" y="618.4" font-size="16" text-anchor="end" fill="#111" font-weight="normal" >0.5</text><line x1="407.1" y1="656.2" x2="411.3" y2="656.2" stroke="#222222" stroke-width="1.3" /><text x="404.3" y="661" font-size="16" text-anchor="end" fill="#111" font-weight="normal" >0.0</text><line x1="407.1" y1="698.8" x2="411.3" y2="698.8" stroke="#222222" stroke-width="1.3" /><text x="404.3" y="703.6" font-size="16" text-anchor="end" fill="#111" font-weight="normal" >-0.5</text><line x1="407.1" y1="741.4" x2="411.3" y2="741.4" stroke="#222222" stroke-width="1.3" /><text x="404.3" y="746.2" font-size="16" text-anchor="end" fill="#111" font-weight="normal" >-1.0</text><line x1="407.1" y1="784" x2="411.3" y2="784" stroke="#222222" stroke-width="1.3" /><text x="404.3" y="788.8" font-size="16" text-anchor="end" fill="#111" font-weight="normal" >-1.5</text><line x1="411.3" y1="784.3" x2="411.3" y2="788.5" stroke="#222222" stroke-width="1.3" /><text x="411.3" y="803.6" font-size="16" text-anchor="middle" fill="#111" font-weight="normal" >20</text><line x1="437.82" y1="784.3" x2="437.82" y2="786.7" stroke="#222222" stroke-width="1.3" /><line x1="464.34" y1="784.3" x2="464.34" y2="788.5" stroke="#222222" stroke-width="1.3" /><text x="464.34" y="803.6" font-size="16" text-anchor="middle" fill="#111" font-weight="normal" >30</text><line x1="490.86" y1="784.3" x2="490.86" y2="786.7" stroke="#222222" stroke-width="1.3" /><line x1="517.38" y1="784.3" x2="517.38" y2="788.5" stroke="#222222" stroke-width="1.3" /><text x="517.38" y="803.6" font-size="16" text-anchor="middle" fill="#111" font-weight="normal" >40</text><line x1="543.9" y1="784.3" x2="543.9" y2="786.7" stroke="#222222" stroke-width="1.3" /><line x1="570.42" y1="784.3" x2="570.42" y2="788.5" stroke="#222222" stroke-width="1.3" /><text x="570.42" y="803.6" font-size="16" text-anchor="middle" fill="#111" font-weight="normal" >50</text><line x1="596.94" y1="784.3" x2="596.94" y2="786.7" stroke="#222222" stroke-width="1.3" /><line x1="623.46" y1="784.3" x2="623.46" y2="788.5" stroke="#222222" stroke-width="1.3" /><text x="623.46" y="803.6" font-size="16" text-anchor="middle" fill="#111" font-weight="normal" >60</text><line x1="649.98" y1="784.3" x2="649.98" y2="786.7" stroke="#222222" stroke-width="1.3" /><line x1="676.5" y1="784.3" x2="676.5" y2="788.5" stroke="#222222" stroke-width="1.3" /><text x="676.5" y="803.6" font-size="16" text-anchor="middle" fill="#111" font-weight="normal" >70</text><text x="422.4" y="593.8" font-size="16" text-anchor="start" fill="#1f72de" font-weight="normal" >Cooling</text><text x="423.7" y="775.1" font-size="16" text-anchor="start" fill="#f3143f" font-weight="normal" >Heating</text><text x="543.5" y="823" font-size="18.8" text-anchor="middle" fill="#111" font-weight="normal" >Drying-humidity (% RH)</text><text transform="translate(370.9,677.7) rotate(-90)" font-size="18.5" text-anchor="middle" fill="#111">Figure of merit</text><line x1="488.65" y1="617.68" x2="503.15" y2="625.7" stroke="#000" stroke-width="1.7" /><line x1="520.48" y1="636.42" x2="540.8" y2="650.42" stroke="#000" stroke-width="1.7" /><line x1="556.63" y1="663.19" x2="578.9" y2="684.14" stroke="#000" stroke-width="1.7" /><line x1="592.47" y1="699.28" x2="638.54" y2="760.51" stroke="#000" stroke-width="1.7" /><line x1="495.94" y1="615.23" x2="512.62" y2="617.93" stroke="#1e6fdc" stroke-width="1.7" /><line x1="532.73" y1="621.31" x2="539.15" y2="622.42" stroke="#1e6fdc" stroke-width="1.7" /><line x1="559.33" y1="622.97" x2="570.9" y2="621.61" stroke="#1e6fdc" stroke-width="1.7" /><line x1="590.8" y1="623.33" x2="608.38" y2="628.58" stroke="#1e6fdc" stroke-width="1.7" /><line x1="485.87" y1="611" x2="485.87" y2="616.2" stroke="#1e6fdc" stroke-width="1.1" /><line x1="481.57" y1="613.6" x2="490.17" y2="613.6" stroke="#1e6fdc" stroke-width="1.1" /><line x1="481.57" y1="611" x2="490.17" y2="611" stroke="#1e6fdc" stroke-width="1.2" /><line x1="481.57" y1="616.2" x2="490.17" y2="616.2" stroke="#1e6fdc" stroke-width="1.2" /><line x1="549.2" y1="621.56" x2="549.2" y2="626.76" stroke="#1e6fdc" stroke-width="1.1" /><line x1="544.9" y1="621.56" x2="553.5" y2="621.56" stroke="#1e6fdc" stroke-width="1.2" /><line x1="544.9" y1="626.76" x2="553.5" y2="626.76" stroke="#1e6fdc" stroke-width="1.2" /><line x1="613.66" y1="628.89" x2="622.66" y2="628.89" stroke="#1e6fdc" stroke-width="1.2" /><line x1="613.66" y1="634.09" x2="622.66" y2="634.09" stroke="#1e6fdc" stroke-width="1.2" /><line x1="475.52" y1="612.75" x2="483.92" y2="612.75" stroke="#000" stroke-width="1.1" /><line x1="475.52" y1="610.15" x2="483.92" y2="610.15" stroke="#000" stroke-width="1.2" /><line x1="475.52" y1="615.35" x2="483.92" y2="615.35" stroke="#000" stroke-width="1.2" /><line x1="544.8" y1="653.4" x2="553.6" y2="653.4" stroke="#000" stroke-width="1.2" /><line x1="544.8" y1="659" x2="553.6" y2="659" stroke="#000" stroke-width="1.2" /><rect x="474.57" y="607.6" width="10.3" height="10.3" fill="none" stroke="#000" stroke-width="2.7"/><rect x="506.93" y="625.49" width="10.3" height="10.3" fill="none" stroke="#000" stroke-width="2.7"/><rect x="544.05" y="651.05" width="10.3" height="10.3" fill="none" stroke="#000" stroke-width="2.7"/><rect x="581.18" y="685.98" width="10.3" height="10.3" fill="none" stroke="#000" stroke-width="2.7"/><rect x="639.53" y="763.51" width="10.3" height="10.3" fill="none" stroke="#000" stroke-width="2.7"/><circle cx="485.87" cy="613.6" r="5.85" fill="none" stroke="#1e6fdc" stroke-width="2.9"/><circle cx="522.68" cy="619.56" r="5.85" fill="none" stroke="#1e6fdc" stroke-width="2.9"/><circle cx="549.2" cy="624.16" r="5.85" fill="none" stroke="#1e6fdc" stroke-width="2.9"/><circle cx="581.03" cy="620.42" r="5.85" fill="none" stroke="#1e6fdc" stroke-width="2.9"/><circle cx="618.16" cy="631.49" r="5.85" fill="none" stroke="#1e6fdc" stroke-width="2.9"/><line x1="583" y1="582.7" x2="590.4" y2="582.7" stroke="#000" stroke-width="1.9" /><line x1="610.1" y1="582.7" x2="618" y2="582.7" stroke="#000" stroke-width="1.9" /><rect x="595.2" y="577.5" width="10.3" height="10.3" fill="none" stroke="#000" stroke-width="2.7"/><line x1="583" y1="601.9" x2="590.4" y2="601.9" stroke="#1e6fdc" stroke-width="1.9" /><line x1="610.1" y1="601.9" x2="618" y2="601.9" stroke="#1e6fdc" stroke-width="1.9" /><circle cx="600.2" cy="601.6" r="5.8" fill="none" stroke="#1e6fdc" stroke-width="3"/><text x="621.4" y="588.3" font-size="15.8" text-anchor="start" fill="#111" font-weight="normal" >PPC</text><text x="621.4" y="607.5" font-size="15.8" text-anchor="start" fill="#111" font-weight="normal" >FSPPC</text></svg>
</body></html>
